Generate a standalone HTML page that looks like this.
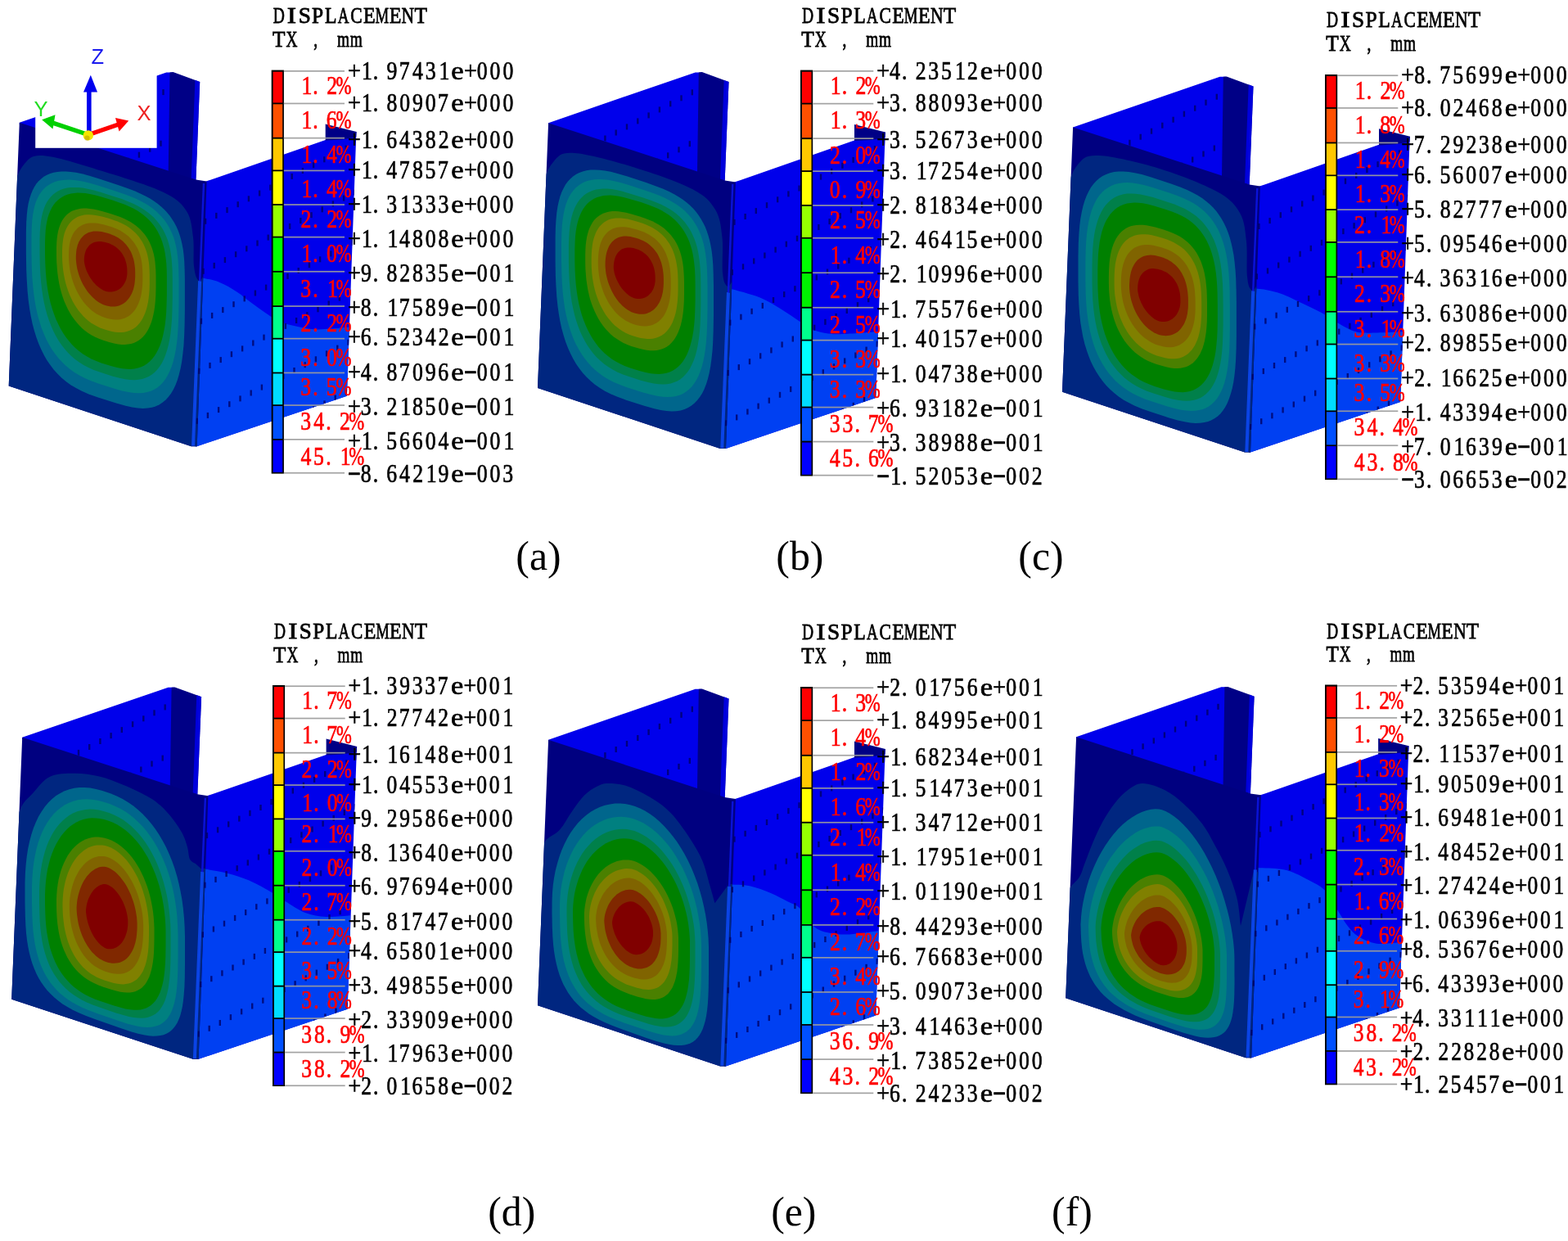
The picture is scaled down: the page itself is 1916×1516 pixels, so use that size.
<!DOCTYPE html>
<html lang="en"><head><meta charset="utf-8"><title>Displacement contours TX (a)-(f)</title>
<style>html,body{margin:0;padding:0;background:#fff;overflow:hidden}svg{display:block}text{white-space:pre}</style></head><body>
<svg xmlns="http://www.w3.org/2000/svg" width="1916" height="1516" viewBox="0 0 1916 1516">
<rect width="1916" height="1516" fill="#fff"/>
<g id="panel-a">
<clipPath id="ct-a"><polygon points="23.8,149.8 203.3,88.4 210.7,88.4 206.5,208.5"/></clipPath>
<polygon points="23.8,149.8 203.3,88.4 210.7,88.4 206.5,208.5 206.5,211.5 23.8,152.6" fill="#0000eb"/>
<polygon points="207.5,88.4 211.5,88 244.2,99.9 239.4,219.8 239.3,222 205.7,211.2 205.7,208.6" fill="#000086"/>
<polygon points="238.4,97.8 244.2,99.9 239.4,219.8 233.7,217.9" fill="#0000eb" opacity="0.85"/>
<polygon points="252.6,221.2 258,219.4 397.7,171 435.4,161 423.9,483.8 240.7,545.2 238.5,545.2 250.4,222.2" fill="#0000eb"/>
<polygon points="397.7,171.6 397.7,151.6 435.6,161 435.2,167.5 418,170.5" fill="#000086"/>
<clipPath id="cr-a"><polygon points="252.6,221.2 258,219.4 397.7,171 435.4,161 423.9,483.8 240.7,545.2 238.5,545.2 250.4,222.2"/></clipPath>
<path clip-path="url(#cr-a)" d="M236 337.5C237.4 337.7 239.2 337.7 244.6 338.9C250 340.1 260.9 341.9 268.4 344.9C275.9 347.9 283 352.3 289.7 356.7C296.4 361.1 301.6 365.9 308.7 371C315.8 376.1 326.2 383.7 332.5 387.6C338.8 391.6 338.8 392.3 346.7 394.7C354.6 397.1 370.3 400.8 380 401.9C389.7 403 396.7 401.9 405 401.5C413.3 401.1 425.8 399.7 430 399.3L430 600 L236 600 Z" fill="#0040f2"/>
<clipPath id="cf-a"><polygon points="23.8,149.8 239.4,219.6 252.6,221.6 240.7,545.2 233.7,545.2 10.7,471.6"/></clipPath>
<polygon points="23.8,149.8 239.4,219.6 252.6,221.6 240.7,545.2 233.7,545.2 10.7,471.6" fill="#000080"/>
<g clip-path="url(#cf-a)">
<path d="M0 600C1.3 550 5.7 360.3 8 300C10.3 239.7 10.3 254.7 14 238C17.7 221.3 23 207.9 30 200C37 192.1 39.5 188.8 56 190.5C72.5 192.2 105 202.9 129 210.3C153 217.7 183.5 227.1 200 235C216.5 242.9 222 248.8 228 258C234 267.2 234.5 278.8 236 290C237.5 301.2 235.8 316.2 237 325C238.2 333.8 238.8 339.2 243 343C247.2 346.8 258.8 305.2 262 348C265.2 390.8 262 558 262 600Z" fill="#002680"/>
<path d="M225.9 377L225.6 396.3L225.1 410.5L224.4 422.4L223.3 432.7L222.1 441.9L220.6 450.1L218.8 457.6L216.8 464.3L214.5 470.3L211.9 475.7L209.1 480.6L205.9 484.8L202.5 488.5L198.8 491.6L194.8 494.2L190.4 496.2L185.7 497.7L180.5 498.6L174.8 498.9L168.5 498.5L161.3 497.5L152.7 495.6L141.2 492.3L119.1 485.3L108.4 481.4L100 477.8L92.9 474.1L86.4 470.2L80.6 466L75.2 461.4L70.2 456.6L65.6 451.4L61.3 445.8L57.3 439.9L53.6 433.5L50.3 426.8L47.2 419.7L44.4 412.1L41.9 404.1L39.7 395.7L37.8 386.7L36.1 377.1L34.7 366.8L33.6 355.6L32.8 343.3L32.2 329.2L31.9 311.1L31.9 282.8L32.2 271.3L32.8 262.5L33.6 255.1L34.7 248.5L36.1 242.7L37.8 237.4L39.7 232.7L41.9 228.4L44.4 224.6L47.2 221.3L50.3 218.4L53.6 215.8L57.3 213.7L61.3 212L65.6 210.8L70.2 209.9L75.2 209.4L80.6 209.4L86.4 209.9L92.9 210.8L100 212.3L108.4 214.4L119.1 217.7L143.5 225.7L155.7 230L164.4 233.3L171.5 236.5L177.7 239.5L183.3 242.6L188.3 245.7L192.8 249L197 252.4L200.8 256L204.3 259.7L207.4 263.6L210.3 267.7L213 272L215.4 276.5L217.5 281.3L219.4 286.4L221 291.9L222.4 297.7L223.6 304.1L224.5 311.1L225.2 319.1L225.6 328.6L225.9 341.8Z" fill="#00668c"/>
<path d="M218.5 370.3L218.2 386.8L217.7 399.3L217 409.9L216 419.2L214.8 427.6L213.3 435.1L211.6 441.9L209.6 448.1L207.4 453.6L204.9 458.6L202.2 463.1L199.2 467L195.9 470.5L192.3 473.4L188.5 475.8L184.3 477.7L179.8 479.1L174.9 479.9L169.6 480.2L163.7 480L157 479L149.2 477.4L139 474.5L120.8 468.7L111.3 465.3L103.7 462L97 458.6L91 454.9L85.5 451L80.4 446.7L75.6 442.1L71.2 437.2L67.1 432L63.2 426.4L59.7 420.5L56.4 414.2L53.5 407.5L50.7 400.5L48.3 393.1L46.1 385.3L44.2 377L42.6 368.2L41.3 358.9L40.2 348.8L39.3 337.9L38.8 325.5L38.5 310L38.5 287.4L38.8 277.2L39.3 269.2L40.1 262.4L41.2 256.4L42.5 251L44.1 246.1L46 241.7L48.1 237.7L50.6 234.2L53.2 231L56.2 228.3L59.4 225.9L62.9 223.9L66.7 222.3L70.7 221L75.1 220.2L79.8 219.7L84.9 219.6L90.4 220L96.4 220.8L103.1 222.1L110.8 224L120.4 226.8L141.2 233.5L152.2 237.2L160.1 240.2L166.8 243.1L172.6 245.9L177.8 248.8L182.5 251.8L186.8 254.8L190.7 258L194.3 261.4L197.7 264.9L200.7 268.6L203.5 272.5L206 276.6L208.3 280.9L210.4 285.4L212.2 290.3L213.8 295.4L215.1 300.9L216.2 306.8L217.1 313.3L217.8 320.6L218.2 329.3L218.5 341.1Z" fill="#008080"/>
<path d="M210.8 364.2L210.5 378.4L210.1 389.4L209.3 398.9L208.4 407.3L207.2 414.9L205.8 421.8L204.1 428.1L202.2 433.8L200.1 439L197.7 443.7L195.1 447.8L192.2 451.5L189.1 454.8L185.7 457.5L182.1 459.8L178.1 461.6L173.9 463L169.3 463.8L164.4 464.2L158.9 464L152.9 463.2L145.9 461.8L137.1 459.4L122.6 454.8L114.6 451.9L108 449L102.2 445.9L96.8 442.5L91.8 438.9L87.2 435L82.9 430.7L78.8 426.1L75.1 421.2L71.5 416L68.3 410.4L65.2 404.6L62.5 398.3L60 391.8L57.7 384.9L55.7 377.7L53.9 370.1L52.4 362L51.1 353.5L50.1 344.5L49.3 334.7L48.8 323.8L48.5 310.6L48.5 292.6L48.8 283.5L49.3 276.3L50 270L51 264.4L52.2 259.4L53.7 254.8L55.4 250.6L57.4 246.8L59.6 243.4L62 240.4L64.7 237.7L67.7 235.4L70.8 233.4L74.3 231.8L78 230.5L82 229.6L86.2 229.1L90.8 228.9L95.7 229.1L101.1 229.6L107 230.7L113.7 232.2L122 234.5L139.1 239.9L148.8 243.1L156 245.9L162.1 248.5L167.4 251.1L172.2 253.7L176.6 256.5L180.7 259.4L184.4 262.4L187.8 265.6L190.9 269L193.8 272.5L196.5 276.2L198.9 280.1L201.1 284.2L203 288.5L204.8 293.1L206.3 297.9L207.6 303.1L208.6 308.7L209.5 314.8L210.1 321.6L210.6 329.5L210.8 340.1Z" fill="#00804a"/>
<path d="M203.9 359.1L203.6 371.2L203.2 381L202.5 389.5L201.6 397.2L200.4 404.1L199 410.5L197.4 416.4L195.6 421.7L193.5 426.6L191.2 431L188.7 435L185.9 438.5L183 441.6L179.7 444.3L176.3 446.5L172.6 448.3L168.6 449.6L164.3 450.5L159.7 450.9L154.7 450.8L149.3 450.2L143 449L135.4 446.9L123.9 443.4L117 440.8L111.2 438.2L105.9 435.3L101 432.2L96.4 428.7L92 425L88 421L84.2 416.6L80.6 411.9L77.2 407L74.1 401.7L71.2 396.1L68.5 390.2L66.1 384.1L63.9 377.6L61.9 370.8L60.2 363.7L58.7 356.3L57.5 348.5L56.5 340.2L55.8 331.4L55.3 321.8L55 310.6L55 296.4L55.3 288.2L55.7 281.5L56.4 275.6L57.4 270.3L58.5 265.5L59.9 261.2L61.6 257.2L63.4 253.6L65.5 250.3L67.8 247.3L70.4 244.7L73.2 242.4L76.2 240.5L79.4 238.8L82.9 237.5L86.6 236.5L90.6 235.9L94.8 235.6L99.4 235.7L104.3 236.1L109.7 237L115.8 238.3L123.1 240.2L137.3 244.5L145.8 247.4L152.3 249.8L157.9 252.2L162.8 254.6L167.3 257.1L171.4 259.7L175.2 262.5L178.7 265.4L181.9 268.5L184.9 271.7L187.6 275.1L190.2 278.7L192.5 282.5L194.5 286.4L196.4 290.6L198.1 295L199.5 299.7L200.8 304.6L201.8 309.9L202.6 315.7L203.3 322.1L203.7 329.4L203.9 339Z" fill="#008000"/>
<path d="M190.5 351.1L190.3 359.8L189.9 366.9L189.3 373.3L188.5 379.1L187.4 384.4L186.2 389.4L184.8 393.9L183.2 398.1L181.4 401.9L179.5 405.3L177.3 408.5L174.9 411.2L172.3 413.7L169.6 415.8L166.6 417.5L163.5 418.9L160.1 419.9L156.6 420.6L152.7 420.9L148.7 420.9L144.2 420.4L139.3 419.5L133.4 417.9L125.5 415.5L120.3 413.5L115.8 411.5L111.6 409.2L107.6 406.7L103.9 403.9L100.3 400.9L96.9 397.6L93.8 394.1L90.8 390.3L87.9 386.3L85.3 382L82.8 377.5L80.6 372.8L78.5 367.9L76.6 362.8L75 357.4L73.5 351.9L72.2 346.1L71.2 340.1L70.3 333.8L69.7 327.2L69.2 320.1L69 312.2L69 303L69.2 296.8L69.6 291.6L70.2 287L71 282.8L72 279L73.2 275.5L74.5 272.3L76.1 269.3L77.8 266.7L79.8 264.3L81.9 262.1L84.2 260.3L86.7 258.6L89.4 257.3L92.3 256.2L95.4 255.4L98.6 254.8L102.1 254.6L105.8 254.6L109.8 254.9L114.1 255.5L118.9 256.5L124.7 258L135 261L141.7 263.2L146.9 265.1L151.5 267L155.5 269L159.3 271L162.7 273.2L165.9 275.5L168.9 277.9L171.6 280.5L174.1 283.2L176.5 286L178.7 288.9L180.6 292.1L182.4 295.3L184 298.8L185.5 302.4L186.7 306.2L187.8 310.2L188.7 314.5L189.4 319.1L189.9 324.2L190.3 329.9L190.5 337.1Z" fill="#4a8000"/>
<path d="M182.8 346.6L182.6 353.4L182.2 359.2L181.6 364.4L180.9 369.3L179.9 373.9L178.8 378.1L177.5 382L176 385.6L174.3 388.9L172.5 392L170.5 394.7L168.3 397.2L166 399.4L163.5 401.3L160.8 402.8L157.9 404.1L154.9 405L151.8 405.7L148.4 406L144.8 406L141 405.7L136.9 404.9L132.2 403.8L126.5 402L122.3 400.4L118.4 398.6L114.8 396.6L111.3 394.4L108 391.9L104.9 389.2L101.8 386.3L99 383.1L96.2 379.7L93.6 376.1L91.2 372.3L88.9 368.3L86.8 364.1L84.9 359.8L83.2 355.2L81.6 350.5L80.2 345.7L79 340.7L78 335.6L77.2 330.3L76.6 324.8L76.2 319.1L76 312.9L76 306.5L76.2 301.1L76.6 296.5L77.1 292.4L77.8 288.7L78.7 285.2L79.8 282L81.1 279.1L82.5 276.4L84.1 273.9L85.9 271.7L87.8 269.7L89.9 267.9L92.2 266.4L94.6 265.1L97.2 264L100 263.2L102.9 262.6L106 262.3L109.3 262.2L112.8 262.4L116.6 262.9L120.7 263.7L125.6 264.8L133.6 267.1L139.1 268.9L143.6 270.5L147.5 272.2L151.1 274L154.4 275.8L157.5 277.8L160.3 279.9L163 282.2L165.5 284.5L167.8 287L169.9 289.6L171.9 292.4L173.7 295.3L175.3 298.3L176.8 301.5L178.1 304.8L179.3 308.3L180.3 312L181.1 315.9L181.8 320.1L182.3 324.6L182.6 329.6L182.8 335.8Z" fill="#808000"/>
<path d="M174.3 342.3L174.1 347.2L173.8 351.7L173.2 355.8L172.6 359.7L171.7 363.4L170.7 366.8L169.5 370L168.2 373L166.7 375.8L165 378.4L163.2 380.7L161.3 382.8L159.2 384.7L157 386.3L154.7 387.6L152.2 388.7L149.6 389.6L146.9 390.2L144.1 390.5L141.1 390.5L138 390.3L134.7 389.8L131.2 388.9L127.3 387.7L124.1 386.5L121 385.1L118 383.4L115.1 381.5L112.3 379.4L109.6 377L107 374.5L104.5 371.8L102.1 368.9L99.8 365.7L97.7 362.5L95.7 359L93.8 355.5L92.1 351.8L90.5 347.9L89.1 344L87.8 340L86.8 335.9L85.8 331.7L85.1 327.4L84.6 323.1L84.2 318.7L84 314.2L84 310.1L84.2 305.8L84.5 302L85 298.6L85.6 295.4L86.4 292.5L87.4 289.8L88.5 287.3L89.7 284.9L91.1 282.8L92.7 280.9L94.4 279.1L96.2 277.6L98.2 276.2L100.3 275L102.6 274.1L105 273.3L107.5 272.8L110.1 272.5L112.9 272.4L115.9 272.5L119.1 272.8L122.5 273.4L126.4 274.3L132.3 275.9L136.7 277.3L140.3 278.7L143.6 280.1L146.6 281.6L149.4 283.2L152 284.9L154.5 286.7L156.8 288.6L159 290.7L161 292.9L162.9 295.2L164.6 297.6L166.2 300.2L167.7 302.8L169 305.6L170.2 308.5L171.2 311.5L172.1 314.7L172.8 318L173.4 321.6L173.8 325.3L174.1 329.5L174.3 334.4Z" fill="#806400"/>
<path d="M165.2 338.2L165 341.5L164.7 344.6L164.3 347.6L163.7 350.4L163 353.2L162.1 355.8L161.1 358.3L159.9 360.6L158.6 362.7L157.2 364.7L155.7 366.6L154.1 368.2L152.3 369.7L150.5 371L148.6 372.1L146.5 373L144.4 373.7L142.2 374.2L140 374.4L137.7 374.5L135.3 374.4L132.9 374L130.3 373.5L127.9 372.7L125.7 371.9L123.4 370.7L121.1 369.4L118.8 367.9L116.6 366.2L114.4 364.3L112.3 362.3L110.2 360.1L108.2 357.7L106.3 355.2L104.5 352.5L102.8 349.8L101.2 346.9L99.7 344L98.4 341L97.2 337.9L96.1 334.8L95.2 331.6L94.4 328.4L93.8 325.2L93.3 322.1L93 319L92.8 316L92.8 313.7L93 310.3L93.2 307.4L93.6 304.6L94.2 302L94.8 299.6L95.6 297.4L96.5 295.3L97.6 293.4L98.8 291.6L100.1 289.9L101.5 288.4L103 287.1L104.6 285.9L106.4 284.9L108.2 284.1L110.2 283.4L112.2 282.9L114.4 282.6L116.7 282.4L119 282.5L121.5 282.7L124.2 283.1L127.1 283.7L131.2 284.8L134.4 285.8L137.2 286.9L139.8 288L142.2 289.2L144.5 290.5L146.6 292L148.6 293.5L150.5 295.1L152.3 296.9L154 298.7L155.5 300.7L157 302.7L158.3 304.9L159.6 307.1L160.7 309.5L161.7 311.9L162.5 314.5L163.3 317.1L163.9 319.8L164.4 322.7L164.8 325.7L165.1 329L165.2 332.7Z" fill="#802800"/>
<path d="M155.4 334.2L155.3 336L155 337.8L154.7 339.5L154.2 341.3L153.6 343L152.9 344.6L152.1 346.1L151.2 347.6L150.2 349L149.1 350.2L148 351.4L146.7 352.5L145.4 353.4L143.9 354.3L142.5 355L141 355.5L139.4 356L137.8 356.3L136.2 356.5L134.5 356.5L132.9 356.4L131.3 356.2L129.7 355.9L128.4 355.5L127 354.9L125.5 354.2L124 353.3L122.4 352.3L120.8 351.1L119.2 349.8L117.6 348.4L116.1 346.8L114.6 345.2L113.2 343.4L111.8 341.6L110.5 339.8L109.3 337.8L108.2 335.8L107.2 333.8L106.2 331.8L105.4 329.7L104.7 327.7L104.1 325.7L103.6 323.7L103.2 321.8L102.9 320L102.8 318.3L102.8 317.4L102.9 315.2L103.1 313.1L103.4 311.2L103.8 309.4L104.3 307.7L104.9 306.1L105.6 304.6L106.4 303.2L107.3 301.9L108.3 300.7L109.3 299.6L110.5 298.6L111.7 297.7L113 297L114.3 296.3L115.8 295.8L117.3 295.4L118.9 295.2L120.5 295L122.2 295L124 295.1L125.8 295.4L127.8 295.8L130.3 296.5L132.5 297.1L134.4 297.8L136.2 298.7L138 299.5L139.6 300.5L141.2 301.6L142.7 302.7L144.1 303.9L145.5 305.3L146.7 306.6L147.9 308.1L149 309.6L150.1 311.2L151 312.9L151.9 314.6L152.7 316.4L153.3 318.3L153.9 320.2L154.4 322.1L154.8 324.2L155.1 326.3L155.3 328.5L155.4 330.9Z" fill="#800000"/>
</g>
<clipPath id="ce-a"><polygon points="247,224 251,224 238,544.5 234,544.5"/></clipPath>
<g clip-path="url(#ce-a)">
<line x1="249" y1="224" x2="236" y2="544.5" stroke="#0a12d8" stroke-width="2.4"/>
<path d="M236 337.5C237.4 337.7 239.2 337.7 244.6 338.9C250 340.1 260.9 341.9 268.4 344.9C275.9 347.9 283 352.3 289.7 356.7C296.4 361.1 301.6 365.9 308.7 371C315.8 376.1 326.2 383.7 332.5 387.6C338.8 391.6 338.8 392.3 346.7 394.7C354.6 397.1 370.3 400.8 380 401.9C389.7 403 396.7 401.9 405 401.5C413.3 401.1 425.8 399.7 430 399.3L430 600 L236 600 Z" fill="#0a44e6" transform="translate(-12 2)"/>
</g>
<g clip-path="url(#cr-a)" fill="#000064" opacity="0.8">
<rect x="212.9" y="226.4" width="2.4" height="7"/>
<rect x="226.1" y="219.5" width="2.4" height="7"/>
<rect x="239.3" y="212.7" width="2.4" height="7"/>
<rect x="252.5" y="205.8" width="2.4" height="7"/>
<rect x="265.7" y="198.9" width="2.4" height="7"/>
<rect x="278.9" y="192.1" width="2.4" height="7"/>
<rect x="292.1" y="185.2" width="2.4" height="7"/>
<rect x="305.3" y="178.3" width="2.4" height="7"/>
<rect x="318.5" y="171.5" width="2.4" height="7"/>
<rect x="331.7" y="164.6" width="2.4" height="7"/>
<rect x="344.9" y="157.8" width="2.4" height="7"/>
<rect x="358.1" y="150.9" width="2.4" height="7"/>
<rect x="371.3" y="144" width="2.4" height="7"/>
<rect x="384.5" y="137.2" width="2.4" height="7"/>
<rect x="397.7" y="130.3" width="2.4" height="7"/>
<rect x="410.9" y="123.4" width="2.4" height="7"/>
<rect x="424.1" y="116.6" width="2.4" height="7"/>
<rect x="437.3" y="109.7" width="2.4" height="7"/>
<rect x="210.3" y="287.4" width="2.4" height="7"/>
<rect x="223.5" y="280.5" width="2.4" height="7"/>
<rect x="236.7" y="273.7" width="2.4" height="7"/>
<rect x="249.9" y="266.8" width="2.4" height="7"/>
<rect x="263.1" y="259.9" width="2.4" height="7"/>
<rect x="276.3" y="253.1" width="2.4" height="7"/>
<rect x="289.5" y="246.2" width="2.4" height="7"/>
<rect x="302.7" y="239.3" width="2.4" height="7"/>
<rect x="315.9" y="232.5" width="2.4" height="7"/>
<rect x="329.1" y="225.6" width="2.4" height="7"/>
<rect x="342.3" y="218.8" width="2.4" height="7"/>
<rect x="355.5" y="211.9" width="2.4" height="7"/>
<rect x="368.7" y="205" width="2.4" height="7"/>
<rect x="381.9" y="198.2" width="2.4" height="7"/>
<rect x="395.1" y="191.3" width="2.4" height="7"/>
<rect x="408.3" y="184.4" width="2.4" height="7"/>
<rect x="421.5" y="177.6" width="2.4" height="7"/>
<rect x="434.7" y="170.7" width="2.4" height="7"/>
<rect x="220.9" y="341.5" width="2.4" height="7"/>
<rect x="234.1" y="334.7" width="2.4" height="7"/>
<rect x="247.3" y="327.8" width="2.4" height="7"/>
<rect x="260.5" y="320.9" width="2.4" height="7"/>
<rect x="273.7" y="314.1" width="2.4" height="7"/>
<rect x="286.9" y="307.2" width="2.4" height="7"/>
<rect x="300.1" y="300.3" width="2.4" height="7"/>
<rect x="313.3" y="293.5" width="2.4" height="7"/>
<rect x="326.5" y="286.6" width="2.4" height="7"/>
<rect x="339.7" y="279.8" width="2.4" height="7"/>
<rect x="352.9" y="272.9" width="2.4" height="7"/>
<rect x="366.1" y="266" width="2.4" height="7"/>
<rect x="379.3" y="259.2" width="2.4" height="7"/>
<rect x="392.5" y="252.3" width="2.4" height="7"/>
<rect x="405.7" y="245.4" width="2.4" height="7"/>
<rect x="418.9" y="238.6" width="2.4" height="7"/>
<rect x="432.1" y="231.7" width="2.4" height="7"/>
<rect x="218.3" y="402.5" width="2.4" height="7"/>
<rect x="231.5" y="395.7" width="2.4" height="7"/>
<rect x="244.7" y="388.8" width="2.4" height="7"/>
<rect x="257.9" y="381.9" width="2.4" height="7"/>
<rect x="271.1" y="375.1" width="2.4" height="7"/>
<rect x="284.3" y="368.2" width="2.4" height="7"/>
<rect x="297.5" y="361.4" width="2.4" height="7"/>
<rect x="310.7" y="354.5" width="2.4" height="7"/>
<rect x="323.9" y="347.6" width="2.4" height="7"/>
<rect x="337.1" y="340.8" width="2.4" height="7"/>
<rect x="350.3" y="333.9" width="2.4" height="7"/>
<rect x="363.5" y="327" width="2.4" height="7"/>
<rect x="376.7" y="320.2" width="2.4" height="7"/>
<rect x="389.9" y="313.3" width="2.4" height="7"/>
<rect x="403.1" y="306.4" width="2.4" height="7"/>
<rect x="416.3" y="299.6" width="2.4" height="7"/>
<rect x="429.5" y="292.7" width="2.4" height="7"/>
<rect x="215.7" y="463.5" width="2.4" height="7"/>
<rect x="228.9" y="456.7" width="2.4" height="7"/>
<rect x="242.1" y="449.8" width="2.4" height="7"/>
<rect x="255.3" y="442.9" width="2.4" height="7"/>
<rect x="268.5" y="436.1" width="2.4" height="7"/>
<rect x="281.7" y="429.2" width="2.4" height="7"/>
<rect x="294.9" y="422.4" width="2.4" height="7"/>
<rect x="308.1" y="415.5" width="2.4" height="7"/>
<rect x="321.3" y="408.6" width="2.4" height="7"/>
<rect x="334.5" y="401.8" width="2.4" height="7"/>
<rect x="347.7" y="394.9" width="2.4" height="7"/>
<rect x="360.9" y="388" width="2.4" height="7"/>
<rect x="374.1" y="381.2" width="2.4" height="7"/>
<rect x="387.3" y="374.3" width="2.4" height="7"/>
<rect x="400.5" y="367.4" width="2.4" height="7"/>
<rect x="413.7" y="360.6" width="2.4" height="7"/>
<rect x="426.9" y="353.7" width="2.4" height="7"/>
<rect x="213.1" y="524.5" width="2.4" height="7"/>
<rect x="226.3" y="517.7" width="2.4" height="7"/>
<rect x="239.5" y="510.8" width="2.4" height="7"/>
<rect x="252.7" y="503.9" width="2.4" height="7"/>
<rect x="265.9" y="497.1" width="2.4" height="7"/>
<rect x="279.1" y="490.2" width="2.4" height="7"/>
<rect x="292.3" y="483.4" width="2.4" height="7"/>
<rect x="305.5" y="476.5" width="2.4" height="7"/>
<rect x="318.7" y="469.6" width="2.4" height="7"/>
<rect x="331.9" y="462.8" width="2.4" height="7"/>
<rect x="345.1" y="455.9" width="2.4" height="7"/>
<rect x="358.3" y="449" width="2.4" height="7"/>
<rect x="371.5" y="442.2" width="2.4" height="7"/>
<rect x="384.7" y="435.3" width="2.4" height="7"/>
<rect x="397.9" y="428.4" width="2.4" height="7"/>
<rect x="411.1" y="421.6" width="2.4" height="7"/>
<rect x="424.3" y="414.7" width="2.4" height="7"/>
<rect x="437.5" y="407.9" width="2.4" height="7"/>
<rect x="210.5" y="585.5" width="2.4" height="7"/>
<rect x="223.7" y="578.7" width="2.4" height="7"/>
<rect x="236.9" y="571.8" width="2.4" height="7"/>
<rect x="250.1" y="564.9" width="2.4" height="7"/>
<rect x="263.3" y="558.1" width="2.4" height="7"/>
<rect x="276.5" y="551.2" width="2.4" height="7"/>
<rect x="289.7" y="544.4" width="2.4" height="7"/>
<rect x="302.9" y="537.5" width="2.4" height="7"/>
<rect x="316.1" y="530.6" width="2.4" height="7"/>
<rect x="329.3" y="523.8" width="2.4" height="7"/>
<rect x="342.5" y="516.9" width="2.4" height="7"/>
<rect x="355.7" y="510" width="2.4" height="7"/>
<rect x="368.9" y="503.2" width="2.4" height="7"/>
<rect x="382.1" y="496.3" width="2.4" height="7"/>
<rect x="395.3" y="489.4" width="2.4" height="7"/>
<rect x="408.5" y="482.6" width="2.4" height="7"/>
<rect x="421.7" y="475.7" width="2.4" height="7"/>
<rect x="434.9" y="468.9" width="2.4" height="7"/>
<rect x="221.1" y="639.7" width="2.4" height="7"/>
<rect x="234.3" y="632.8" width="2.4" height="7"/>
<rect x="247.5" y="626" width="2.4" height="7"/>
<rect x="260.7" y="619.1" width="2.4" height="7"/>
<rect x="273.9" y="612.2" width="2.4" height="7"/>
<rect x="287.1" y="605.4" width="2.4" height="7"/>
<rect x="300.3" y="598.5" width="2.4" height="7"/>
<rect x="313.5" y="591.6" width="2.4" height="7"/>
<rect x="326.7" y="584.8" width="2.4" height="7"/>
<rect x="339.9" y="577.9" width="2.4" height="7"/>
<rect x="353.1" y="571" width="2.4" height="7"/>
<rect x="366.3" y="564.2" width="2.4" height="7"/>
<rect x="379.5" y="557.3" width="2.4" height="7"/>
<rect x="392.7" y="550.4" width="2.4" height="7"/>
<rect x="405.9" y="543.6" width="2.4" height="7"/>
<rect x="419.1" y="536.7" width="2.4" height="7"/>
<rect x="432.3" y="529.9" width="2.4" height="7"/>
<rect x="218.5" y="700.7" width="2.4" height="7"/>
<rect x="231.7" y="693.8" width="2.4" height="7"/>
<rect x="244.9" y="687" width="2.4" height="7"/>
<rect x="258.1" y="680.1" width="2.4" height="7"/>
<rect x="271.3" y="673.2" width="2.4" height="7"/>
<rect x="284.5" y="666.4" width="2.4" height="7"/>
<rect x="297.7" y="659.5" width="2.4" height="7"/>
<rect x="310.9" y="652.6" width="2.4" height="7"/>
<rect x="324.1" y="645.8" width="2.4" height="7"/>
<rect x="337.3" y="638.9" width="2.4" height="7"/>
<rect x="350.5" y="632" width="2.4" height="7"/>
<rect x="363.7" y="625.2" width="2.4" height="7"/>
<rect x="376.9" y="618.3" width="2.4" height="7"/>
<rect x="390.1" y="611.4" width="2.4" height="7"/>
<rect x="403.3" y="604.6" width="2.4" height="7"/>
<rect x="416.5" y="597.7" width="2.4" height="7"/>
<rect x="429.7" y="590.9" width="2.4" height="7"/>
</g>
<g clip-path="url(#ct-a)" fill="#000064" opacity="0.8">
<rect x="52" y="185.9" width="2.4" height="7"/>
<rect x="65.3" y="179" width="2.4" height="7"/>
<rect x="78.6" y="172" width="2.4" height="7"/>
<rect x="91.9" y="165" width="2.4" height="7"/>
<rect x="105.2" y="158" width="2.4" height="7"/>
<rect x="118.5" y="151" width="2.4" height="7"/>
<rect x="131.8" y="144.1" width="2.4" height="7"/>
<rect x="145.1" y="137.1" width="2.4" height="7"/>
<rect x="158.4" y="130.1" width="2.4" height="7"/>
<rect x="171.7" y="123.1" width="2.4" height="7"/>
<rect x="185" y="116.1" width="2.4" height="7"/>
<rect x="198.3" y="109.1" width="2.4" height="7"/>
<rect x="49" y="248.5" width="2.4" height="7"/>
<rect x="62.3" y="241.5" width="2.4" height="7"/>
<rect x="75.6" y="234.6" width="2.4" height="7"/>
<rect x="88.9" y="227.6" width="2.4" height="7"/>
<rect x="102.2" y="220.6" width="2.4" height="7"/>
<rect x="115.5" y="213.6" width="2.4" height="7"/>
<rect x="128.8" y="206.6" width="2.4" height="7"/>
<rect x="142.1" y="199.6" width="2.4" height="7"/>
<rect x="155.4" y="192.7" width="2.4" height="7"/>
<rect x="168.7" y="185.7" width="2.4" height="7"/>
<rect x="182" y="178.7" width="2.4" height="7"/>
<rect x="195.3" y="171.7" width="2.4" height="7"/>
<rect x="208.6" y="164.7" width="2.4" height="7"/>
</g>
<rect x="43.2" y="40" width="148.4" height="140.8" fill="#fff"/>
<g id="triad">
<path d="M107.6 164.5 L60 148.6" stroke="#00d000" stroke-width="5.4" fill="none"/>
<path d="M51.2 146.2 L67.5 140.3 L64.5 157.6 Z" fill="#00d000"/>
<path d="M108.4 164.5 L147 151.2" stroke="#ff0000" stroke-width="5.4" fill="none"/>
<path d="M157.2 147.5 L141 144 L145.6 160.4 Z" fill="#ff0000"/>
<path d="M108.8 163 L108.8 108" stroke="#0000ee" stroke-width="5.6" fill="none"/>
<path d="M110.8 91.8 L102 112.5 L119 112.5 Z" fill="#0000ee"/>
<circle cx="107.8" cy="165.4" r="6.2" fill="#f4e600"/>
<circle cx="106.4" cy="168.6" r="3.2" fill="#b89a00" opacity="0.55"/>
<g font-family="'Liberation Sans', Arial, sans-serif" font-size="25.5">
<text x="111.4" y="78" fill="#1a1aee">Z</text>
<text x="167.6" y="146.6" fill="#ee2222">X</text>
<text x="41.6" y="141.6" fill="#22dd22">Y</text>
</g>
</g>
<rect x="331.7" y="85.6" width="15.2" height="493" fill="#000"/>
<rect x="333.6" y="87.7" width="11.6" height="37.8" fill="#ff0000"/>
<rect x="333.6" y="127.3" width="11.6" height="40.5" fill="#ff5000"/>
<rect x="333.6" y="169.6" width="11.6" height="37.9" fill="#ffc800"/>
<rect x="333.6" y="209.3" width="11.6" height="39.8" fill="#ffff00"/>
<rect x="333.6" y="250.9" width="11.6" height="37.8" fill="#96ff00"/>
<rect x="333.6" y="290.5" width="11.6" height="40.4" fill="#00ff00"/>
<rect x="333.6" y="332.7" width="11.6" height="40.5" fill="#00f000"/>
<rect x="333.6" y="375" width="11.6" height="37.8" fill="#00ff8c"/>
<rect x="333.6" y="414.6" width="11.6" height="40" fill="#00ffff"/>
<rect x="333.6" y="456.4" width="11.6" height="37.8" fill="#00dcff"/>
<rect x="333.6" y="496" width="11.6" height="40" fill="#0050ff"/>
<rect x="333.6" y="537.8" width="11.6" height="39.1" fill="#0000ff"/>
<rect x="346.9" y="86" width="74.1" height="1.7" fill="#9c9c9c" opacity="0.93"/>
<rect x="346.9" y="125.6" width="74.1" height="1.7" fill="#9c9c9c" opacity="0.93"/>
<rect x="346.9" y="167.8" width="74.1" height="1.7" fill="#9c9c9c" opacity="0.93"/>
<rect x="346.9" y="207.6" width="74.1" height="1.7" fill="#9c9c9c" opacity="0.93"/>
<rect x="346.9" y="249.2" width="74.1" height="1.7" fill="#9c9c9c" opacity="0.93"/>
<rect x="346.9" y="288.8" width="74.1" height="1.7" fill="#9c9c9c" opacity="0.93"/>
<rect x="346.9" y="330.9" width="74.1" height="1.7" fill="#9c9c9c" opacity="0.93"/>
<rect x="346.9" y="373.2" width="74.1" height="1.7" fill="#9c9c9c" opacity="0.93"/>
<rect x="346.9" y="412.8" width="74.1" height="1.7" fill="#9c9c9c" opacity="0.93"/>
<rect x="346.9" y="454.6" width="74.1" height="1.7" fill="#9c9c9c" opacity="0.93"/>
<rect x="346.9" y="494.2" width="74.1" height="1.7" fill="#9c9c9c" opacity="0.93"/>
<rect x="346.9" y="536" width="74.1" height="1.7" fill="#9c9c9c" opacity="0.93"/>
<rect x="346.9" y="576.9" width="74.1" height="1.7" fill="#9c9c9c" opacity="0.93"/>
<g font-family="'Liberation Serif', 'Times New Roman', serif">
<text transform="translate(0 115.1) scale(0.830 1.000)" x="444 460.7 480.9 494.6" y="0" fill="#ff0000" stroke="#ff0000" stroke-width="0.7" font-size="31">1.2<tspan textLength="22.8" lengthAdjust="spacingAndGlyphs">%</tspan></text>
<text transform="translate(0 156.8) scale(0.830 1.000)" x="444 460.7 480.5 494.6" y="0" fill="#ff0000" stroke="#ff0000" stroke-width="0.7" font-size="31">1.6<tspan textLength="22.8" lengthAdjust="spacingAndGlyphs">%</tspan></text>
<text transform="translate(0 199) scale(0.830 1.000)" x="444 460.7 480.7 494.6" y="0" fill="#ff0000" stroke="#ff0000" stroke-width="0.7" font-size="31">1.4<tspan textLength="22.8" lengthAdjust="spacingAndGlyphs">%</tspan></text>
<text transform="translate(0 240.8) scale(0.830 1.000)" x="444 460.7 480.7 494.6" y="0" fill="#ff0000" stroke="#ff0000" stroke-width="0.7" font-size="31">1.4<tspan textLength="22.8" lengthAdjust="spacingAndGlyphs">%</tspan></text>
<text transform="translate(0 278.3) scale(0.830 1.000)" x="442.9 460.7 480.9 494.6" y="0" fill="#ff0000" stroke="#ff0000" stroke-width="0.7" font-size="31">2.2<tspan textLength="22.8" lengthAdjust="spacingAndGlyphs">%</tspan></text>
<text transform="translate(0 320.4) scale(0.830 1.000)" x="444 460.7 480.7 494.6" y="0" fill="#ff0000" stroke="#ff0000" stroke-width="0.7" font-size="31">1.0<tspan textLength="22.8" lengthAdjust="spacingAndGlyphs">%</tspan></text>
<text transform="translate(0 362.6) scale(0.830 1.000)" x="442.6 460.7 482 494.6" y="0" fill="#ff0000" stroke="#ff0000" stroke-width="0.7" font-size="31">3.1<tspan textLength="22.8" lengthAdjust="spacingAndGlyphs">%</tspan></text>
<text transform="translate(0 404.7) scale(0.830 1.000)" x="442.9 460.7 480.9 494.6" y="0" fill="#ff0000" stroke="#ff0000" stroke-width="0.7" font-size="31">2.2<tspan textLength="22.8" lengthAdjust="spacingAndGlyphs">%</tspan></text>
<text transform="translate(0 446.9) scale(0.830 1.000)" x="442.6 460.7 480.7 494.6" y="0" fill="#ff0000" stroke="#ff0000" stroke-width="0.7" font-size="31">3.0<tspan textLength="22.8" lengthAdjust="spacingAndGlyphs">%</tspan></text>
<text transform="translate(0 483.3) scale(0.830 1.000)" x="442.6 460.7 480.4 494.6" y="0" fill="#ff0000" stroke="#ff0000" stroke-width="0.7" font-size="31">3.5<tspan textLength="22.8" lengthAdjust="spacingAndGlyphs">%</tspan></text>
<text transform="translate(0 525) scale(0.830 1.000)" x="442.6 461.7 479.7 499.9 513.7" y="0" fill="#ff0000" stroke="#ff0000" stroke-width="0.7" font-size="31">34.2<tspan textLength="22.8" lengthAdjust="spacingAndGlyphs">%</tspan></text>
<text transform="translate(0 567.6) scale(0.830 1.000)" x="442.7 461.4 479.7 501 513.7" y="0" fill="#ff0000" stroke="#ff0000" stroke-width="0.7" font-size="31">45.1<tspan textLength="22.8" lengthAdjust="spacingAndGlyphs">%</tspan></text>
<text transform="translate(0 96.8) scale(0.830 1.000)" x="512 532.4 549.1 569.3 587.6 607.1 626.1 646.5 664.3 683.2 702.2 721.2 740.3" y="0" fill="#000" stroke="#000" stroke-width="0.7" font-size="31"><tspan textLength="19" lengthAdjust="spacingAndGlyphs">+</tspan>1.97431<tspan textLength="18.5" lengthAdjust="spacingAndGlyphs">e</tspan><tspan textLength="19" lengthAdjust="spacingAndGlyphs">+</tspan>000</text>
<text transform="translate(0 136.1) scale(0.830 1.000)" x="512 532.4 549.1 569.2 588.2 607.3 626.2 644.6 664.3 683.2 702.2 721.2 740.3" y="0" fill="#000" stroke="#000" stroke-width="0.7" font-size="31"><tspan textLength="19" lengthAdjust="spacingAndGlyphs">+</tspan>1.80907<tspan textLength="18.5" lengthAdjust="spacingAndGlyphs">e</tspan><tspan textLength="19" lengthAdjust="spacingAndGlyphs">+</tspan>000</text>
<text transform="translate(0 180.7) scale(0.830 1.000)" x="512 532.4 549.1 568.9 588.1 607 626.2 645.4 664.3 683.2 702.2 721.2 740.3" y="0" fill="#000" stroke="#000" stroke-width="0.7" font-size="31"><tspan textLength="19" lengthAdjust="spacingAndGlyphs">+</tspan>1.64382<tspan textLength="18.5" lengthAdjust="spacingAndGlyphs">e</tspan><tspan textLength="19" lengthAdjust="spacingAndGlyphs">+</tspan>000</text>
<text transform="translate(0 218.4) scale(0.830 1.000)" x="512 532.4 549.1 569.1 587.6 607.2 625.9 644.6 664.3 683.2 702.2 721.2 740.3" y="0" fill="#000" stroke="#000" stroke-width="0.7" font-size="31"><tspan textLength="19" lengthAdjust="spacingAndGlyphs">+</tspan>1.47857<tspan textLength="18.5" lengthAdjust="spacingAndGlyphs">e</tspan><tspan textLength="19" lengthAdjust="spacingAndGlyphs">+</tspan>000</text>
<text transform="translate(0 259.9) scale(0.830 1.000)" x="512 532.4 549.1 569 589.4 607 626.1 645.1 664.3 683.2 702.2 721.2 740.3" y="0" fill="#000" stroke="#000" stroke-width="0.7" font-size="31"><tspan textLength="19" lengthAdjust="spacingAndGlyphs">+</tspan>1.31333<tspan textLength="18.5" lengthAdjust="spacingAndGlyphs">e</tspan><tspan textLength="19" lengthAdjust="spacingAndGlyphs">+</tspan>000</text>
<text transform="translate(0 301.7) scale(0.830 1.000)" x="512 532.4 549.1 570.4 588.1 607.2 626.2 645.2 664.3 683.2 702.2 721.2 740.3" y="0" fill="#000" stroke="#000" stroke-width="0.7" font-size="31"><tspan textLength="19" lengthAdjust="spacingAndGlyphs">+</tspan>1.14808<tspan textLength="18.5" lengthAdjust="spacingAndGlyphs">e</tspan><tspan textLength="19" lengthAdjust="spacingAndGlyphs">+</tspan>000</text>
<text transform="translate(0 343.6) scale(0.830 1.000)" x="512 531.3 549.1 569.2 588.3 607.2 626.1 644.9 664.3 682.9 702.2 721.2 741.5" y="0" dy="0 0 0 0 0 0 0 0 0 -3 3 0 0" fill="#000" stroke="#000" stroke-width="0.7" font-size="31"><tspan textLength="19" lengthAdjust="spacingAndGlyphs">+</tspan>9.82835<tspan textLength="18.5" lengthAdjust="spacingAndGlyphs">e</tspan><tspan textLength="19.5" lengthAdjust="spacingAndGlyphs">-</tspan>001</text>
<text transform="translate(0 386.1) scale(0.830 1.000)" x="512 531.1 549.1 570.4 587.6 606.9 626.2 645.3 664.3 682.9 702.2 721.2 741.5" y="0" dy="0 0 0 0 0 0 0 0 0 -3 3 0 0" fill="#000" stroke="#000" stroke-width="0.7" font-size="31"><tspan textLength="19" lengthAdjust="spacingAndGlyphs">+</tspan>8.17589<tspan textLength="18.5" lengthAdjust="spacingAndGlyphs">e</tspan><tspan textLength="19.5" lengthAdjust="spacingAndGlyphs">-</tspan>001</text>
<text transform="translate(0 422.4) scale(0.830 1.000)" x="512 530.9 549.1 568.9 588.3 607 626.1 645.4 664.3 682.9 702.2 721.2 741.5" y="0" dy="0 0 0 0 0 0 0 0 0 -3 3 0 0" fill="#000" stroke="#000" stroke-width="0.7" font-size="31"><tspan textLength="19" lengthAdjust="spacingAndGlyphs">+</tspan>6.52342<tspan textLength="18.5" lengthAdjust="spacingAndGlyphs">e</tspan><tspan textLength="19.5" lengthAdjust="spacingAndGlyphs">-</tspan>001</text>
<text transform="translate(0 464.5) scale(0.830 1.000)" x="512 531.1 549.1 569.2 587.6 607.2 626.3 645 664.3 682.9 702.2 721.2 741.5" y="0" dy="0 0 0 0 0 0 0 0 0 -3 3 0 0" fill="#000" stroke="#000" stroke-width="0.7" font-size="31"><tspan textLength="19" lengthAdjust="spacingAndGlyphs">+</tspan>4.87096<tspan textLength="18.5" lengthAdjust="spacingAndGlyphs">e</tspan><tspan textLength="19.5" lengthAdjust="spacingAndGlyphs">-</tspan>001</text>
<text transform="translate(0 506.8) scale(0.830 1.000)" x="512 531 549.1 569.3 589.4 607.2 625.9 645.2 664.3 682.9 702.2 721.2 741.5" y="0" dy="0 0 0 0 0 0 0 0 0 -3 3 0 0" fill="#000" stroke="#000" stroke-width="0.7" font-size="31"><tspan textLength="19" lengthAdjust="spacingAndGlyphs">+</tspan>3.21850<tspan textLength="18.5" lengthAdjust="spacingAndGlyphs">e</tspan><tspan textLength="19.5" lengthAdjust="spacingAndGlyphs">-</tspan>001</text>
<text transform="translate(0 548.5) scale(0.830 1.000)" x="512 532.4 549.1 568.9 588 607 626.2 645.1 664.3 682.9 702.2 721.2 741.5" y="0" dy="0 0 0 0 0 0 0 0 0 -3 3 0 0" fill="#000" stroke="#000" stroke-width="0.7" font-size="31"><tspan textLength="19" lengthAdjust="spacingAndGlyphs">+</tspan>1.56604<tspan textLength="18.5" lengthAdjust="spacingAndGlyphs">e</tspan><tspan textLength="19.5" lengthAdjust="spacingAndGlyphs">-</tspan>001</text>
<text transform="translate(0 588.6) scale(0.830 1.000)" x="511.8 531.1 549.1 568.9 588.1 607.4 627.4 645.3 664.3 682.9 702.2 721.2 740.1" y="0" dy="-3 3 0 0 0 0 0 0 0 -3 3 0 0" fill="#000" stroke="#000" stroke-width="0.7" font-size="31"><tspan textLength="19.5" lengthAdjust="spacingAndGlyphs">-</tspan>8.64219<tspan textLength="18.5" lengthAdjust="spacingAndGlyphs">e</tspan><tspan textLength="19.5" lengthAdjust="spacingAndGlyphs">-</tspan>003</text>
<text transform="translate(0 28.3) scale(0.780 1.000)" x="427.9 449.8 467.5 488.6 508.9 529.1 549.2 569.3 587.9 609.8 629 649.4" y="0" fill="#000" stroke="#000" stroke-width="0.8" font-size="27.6"><tspan textLength="18.1" lengthAdjust="spacingAndGlyphs">D</tspan><tspan textLength="14.4" lengthAdjust="spacingAndGlyphs">I</tspan><tspan textLength="19.4" lengthAdjust="spacingAndGlyphs">S</tspan><tspan textLength="18.1" lengthAdjust="spacingAndGlyphs">P</tspan><tspan textLength="18.6" lengthAdjust="spacingAndGlyphs">L</tspan><tspan textLength="17.6" lengthAdjust="spacingAndGlyphs">A</tspan>C<tspan textLength="18.8" lengthAdjust="spacingAndGlyphs">E</tspan><tspan textLength="21.4" lengthAdjust="spacingAndGlyphs">M</tspan><tspan textLength="18.8" lengthAdjust="spacingAndGlyphs">E</tspan>N<tspan textLength="19.8" lengthAdjust="spacingAndGlyphs">T</tspan></text>
<text transform="translate(0 57) scale(0.700 1.000)" x="475.6 499.2 531.8 547.4 576.9 588.6 611.1" y="0" fill="#000" stroke="#000" stroke-width="0.8" font-size="27.6"><tspan textLength="22.1" lengthAdjust="spacingAndGlyphs">T</tspan>X , mm</text>
</g>
</g>
<g id="panel-b">
<clipPath id="ct-b"><polygon points="670.1,150.2 849.6,88.4 857,88.4 852.8,209.2"/></clipPath>
<polygon points="670.1,150.2 849.6,88.4 857,88.4 852.8,209.2 852.8,212.2 670.1,153" fill="#0000eb"/>
<polygon points="853.8,88.4 857.8,88 890.5,100 885.7,220.6 885.6,222.8 852,211.9 852,209.3" fill="#000086"/>
<polygon points="884.7,97.9 890.5,100 885.7,220.6 880,218.7" fill="#0000eb" opacity="0.85"/>
<polygon points="898.9,222 904.3,220.2 1044,171.5 1081.7,161.4 1070.2,486.1 887,547.9 884.8,547.9 896.7,223" fill="#0000eb"/>
<polygon points="1044,172.1 1044,152 1081.9,161.4 1081.5,168 1064.3,171" fill="#000086"/>
<clipPath id="cr-b"><polygon points="898.9,222 904.3,220.2 1044,171.5 1081.7,161.4 1070.2,486.1 887,547.9 884.8,547.9 896.7,223"/></clipPath>
<path clip-path="url(#cr-b)" d="M882 350C883.5 350.4 883.1 350.1 890.9 352.3C898.7 354.6 917.9 359.2 928.6 363.5C939.3 367.8 946.7 373 955 378C963.3 383 971.9 389.3 978.4 393.5C984.9 397.7 988.2 400.7 993.8 403C999.4 405.3 1005.7 406.7 1012 407.5C1018.3 408.3 1020.9 408.4 1031.6 408C1042.3 407.6 1068.6 405.5 1076 405L1076 600 L882 600 Z" fill="#0040f2"/>
<clipPath id="cf-b"><polygon points="670.1,150.2 885.7,220.4 898.9,222.4 887,547.9 880,547.9 657,473.9"/></clipPath>
<polygon points="670.1,150.2 885.7,220.4 898.9,222.4 887,547.9 880,547.9 657,473.9" fill="#000080"/>
<g clip-path="url(#cf-b)">
<path d="M646 600C647.3 550 651.7 360.7 654 300C656.3 239.3 656.3 253 660 236C663.7 219 669 206.2 676 198C683 189.8 685.5 185.9 702 187C718.5 188.1 751 197.1 775 204.4C799 211.7 829.5 222.4 846 231C862.5 239.6 867.9 246.2 874 256C880.1 265.8 881 277.2 882.5 290C884 302.8 881.9 323 883 333C884.1 343 884.8 346.5 889 350C893.2 353.5 904.8 312.3 908 354C911.2 395.7 908 559 908 600Z" fill="#002680"/>
<path d="M872 384.9L871.7 403.6L871.2 417.4L870.5 428.8L869.4 438.8L868.2 447.7L866.7 455.7L864.9 462.9L862.9 469.3L860.6 475.2L858 480.4L855.1 485L852 489.1L848.6 492.6L844.9 495.6L840.9 498.1L836.5 500L831.7 501.4L826.5 502.2L820.8 502.4L814.5 502L807.3 501L798.7 499L787.2 495.8L765.1 488.7L754.5 484.8L746.2 481.3L739.1 477.7L732.7 473.8L726.9 469.7L721.6 465.3L716.6 460.5L712 455.4L707.8 450L703.8 444.2L700.2 438.1L696.9 431.5L693.8 424.6L691 417.3L688.6 409.5L686.3 401.3L684.4 392.5L682.8 383.2L681.4 373.3L680.3 362.5L679.5 350.5L678.9 336.8L678.6 319.3L678.6 290.4L678.9 277.7L679.5 268L680.3 259.7L681.4 252.4L682.8 245.9L684.4 240L686.3 234.7L688.6 229.9L691 225.6L693.8 221.8L696.9 218.4L700.2 215.5L703.8 213.1L707.8 211L712 209.5L716.6 208.3L721.6 207.6L726.9 207.4L732.7 207.7L739.1 208.5L746.2 209.8L754.5 211.9L765.1 215.1L789.5 223.1L801.7 227.4L810.4 230.8L817.6 234L823.8 237.2L829.3 240.4L834.3 243.7L838.9 247.2L843 250.8L846.8 254.6L850.3 258.6L853.5 262.8L856.4 267.2L859.1 271.9L861.5 276.8L863.6 282.1L865.5 287.7L867.1 293.6L868.5 300.1L869.7 307L870.6 314.8L871.3 323.6L871.7 334.1L872 348.7Z" fill="#00668c"/>
<path d="M864.5 378.3L864.2 394.5L863.7 406.7L863 417L862 426L860.8 434.1L859.3 441.4L857.6 448L855.6 454L853.4 459.4L850.9 464.3L848.2 468.6L845.2 472.4L841.9 475.7L838.3 478.6L834.5 480.9L830.3 482.7L825.8 484L820.9 484.8L815.6 485L809.7 484.7L803 483.8L795.2 482.1L785 479.2L766.9 473.5L757.6 470.1L750.1 466.9L743.6 463.5L737.6 459.9L732.2 456.1L727.2 451.9L722.5 447.4L718.1 442.6L714.1 437.5L710.3 432.1L706.9 426.3L703.6 420.2L700.7 413.7L698 406.8L695.6 399.6L693.5 392L691.6 383.9L690 375.4L688.7 366.3L687.6 356.5L686.8 345.8L686.3 333.7L686 318.6L686 295.4L686.3 284.2L686.8 275.4L687.6 267.9L688.7 261.2L690 255.2L691.5 249.7L693.4 244.8L695.5 240.3L697.9 236.3L700.5 232.8L703.4 229.6L706.5 226.9L710 224.5L713.7 222.6L717.7 221.1L722 220L726.7 219.3L731.7 219L737.1 219.2L743 219.8L749.5 221L757.1 222.8L766.6 225.5L787.2 232.2L798.2 235.9L806.1 239L812.8 241.9L818.6 244.9L823.8 247.9L828.5 251L832.8 254.2L836.7 257.6L840.3 261.2L843.7 265L846.7 269L849.5 273.2L852 277.6L854.3 282.2L856.4 287.2L858.2 292.4L859.8 298L861.1 304L862.2 310.5L863.1 317.7L863.8 325.7L864.2 335.3L864.5 348.3Z" fill="#008080"/>
<path d="M856.3 372.2L856 386.1L855.6 396.8L854.9 406.1L853.9 414.3L852.7 421.7L851.3 428.4L849.7 434.5L847.8 440.1L845.6 445.1L843.3 449.7L840.7 453.7L837.8 457.3L834.7 460.5L831.4 463.2L827.7 465.4L823.8 467.1L819.6 468.4L815.1 469.2L810.1 469.5L804.8 469.3L798.8 468.5L791.8 467.1L783 464.7L768.6 460.1L760.7 457.2L754.1 454.4L748.3 451.3L743 448L738 444.4L733.4 440.5L729.1 436.4L725.1 431.9L721.3 427.1L717.8 421.9L714.6 416.5L711.6 410.7L708.8 404.7L706.3 398.3L704 391.5L702 384.5L700.3 377L698.7 369.2L697.5 360.9L696.5 352L695.7 342.4L695.2 331.8L694.9 319L694.9 300.6L695.2 290.8L695.7 282.9L696.4 276.1L697.4 270.1L698.6 264.6L700.1 259.6L701.8 255L703.7 250.9L705.9 247.2L708.4 243.8L711 240.9L714 238.3L717.1 236L720.6 234.2L724.2 232.7L728.2 231.6L732.4 230.9L737 230.6L741.9 230.6L747.2 231.1L753.1 232.1L759.8 233.6L768 235.9L785.1 241.2L794.7 244.4L801.8 247.2L807.9 249.8L813.2 252.5L818 255.2L822.3 258.1L826.3 261.1L830 264.3L833.4 267.7L836.6 271.2L839.4 274.9L842.1 278.9L844.5 283L846.6 287.4L848.6 292L850.3 296.9L851.8 302.1L853.1 307.7L854.1 313.7L855 320.2L855.6 327.5L856.1 336.1L856.3 347.5Z" fill="#00804a"/>
<path d="M849.6 367.3L849.3 379.2L848.9 388.7L848.2 397.1L847.3 404.6L846.1 411.4L844.7 417.6L843.1 423.3L841.3 428.6L839.3 433.3L837 437.6L834.5 441.5L831.7 445L828.7 448L825.5 450.6L822.1 452.7L818.4 454.4L814.4 455.7L810.2 456.5L805.6 456.9L800.6 456.8L795.2 456.2L789 455L781.3 452.9L770 449.4L763.2 446.9L757.5 444.3L752.3 441.5L747.4 438.4L742.9 435.1L738.7 431.4L734.7 427.4L730.9 423.2L727.4 418.6L724.1 413.7L721.1 408.5L718.2 403.1L715.6 397.3L713.2 391.3L711 384.9L709.1 378.3L707.4 371.3L706 364L704.8 356.4L703.8 348.3L703.1 339.7L702.6 330.3L702.3 319.3L702.3 304.8L702.6 296L703 288.8L703.7 282.5L704.6 276.9L705.8 271.7L707.2 267L708.8 262.7L710.6 258.7L712.6 255.2L714.9 251.9L717.4 249.1L720.2 246.5L723.1 244.4L726.3 242.5L729.7 241L733.4 239.9L737.3 239.1L741.4 238.7L745.9 238.6L750.8 239L756 239.7L762 241L769.2 242.9L783.3 247.1L791.7 250L798.2 252.4L803.7 254.8L808.7 257.3L813.1 259.9L817.2 262.6L821 265.5L824.5 268.6L827.7 271.8L830.7 275.2L833.4 278.7L835.9 282.5L838.2 286.5L840.3 290.7L842.2 295.1L843.8 299.8L845.3 304.8L846.5 310L847.5 315.7L848.3 321.8L849 328.7L849.4 336.5L849.6 346.8Z" fill="#008000"/>
<path d="M836 359.4L835.8 367.9L835.4 375L834.8 381.3L834 387L833 392.3L831.8 397.2L830.4 401.6L828.8 405.7L827 409.5L825 412.9L822.9 416L820.5 418.8L818 421.2L815.3 423.2L812.3 424.9L809.2 426.3L805.9 427.3L802.3 428L798.6 428.3L794.5 428.2L790.1 427.8L785.2 426.8L779.4 425.3L771.5 422.9L766.4 421L761.8 418.9L757.6 416.6L753.7 414.1L749.9 411.4L746.4 408.4L743 405.1L739.9 401.7L736.9 397.9L734.1 393.9L731.4 389.7L729 385.3L726.7 380.6L724.7 375.8L722.8 370.7L721.1 365.4L719.7 359.9L718.4 354.2L717.4 348.2L716.5 342L715.9 335.5L715.4 328.5L715.2 320.7L715.2 311.2L715.4 304.4L715.8 298.8L716.4 293.9L717.2 289.3L718.2 285.2L719.3 281.4L720.7 277.9L722.3 274.7L724 271.8L725.9 269.1L728.1 266.8L730.4 264.7L732.9 262.9L735.5 261.4L738.4 260.2L741.5 259.2L744.7 258.5L748.2 258.1L751.9 258.1L755.9 258.3L760.2 258.9L765 259.8L770.7 261.3L781 264.3L787.6 266.4L792.8 268.4L797.3 270.3L801.3 272.4L805 274.5L808.4 276.8L811.6 279.1L814.5 281.7L817.3 284.4L819.8 287.2L822.1 290.2L824.3 293.3L826.2 296.6L828 300.1L829.6 303.8L831 307.6L832.3 311.7L833.3 316L834.2 320.6L834.9 325.6L835.4 331L835.8 337.2L836 345Z" fill="#4a8000"/>
<path d="M828.5 355L828.3 361.7L827.9 367.5L827.3 372.7L826.6 377.6L825.7 382.1L824.5 386.2L823.2 390.1L821.8 393.7L820.1 397L818.3 400.1L816.3 402.8L814.1 405.3L811.8 407.4L809.3 409.3L806.6 410.8L803.8 412.1L800.8 413L797.6 413.7L794.3 414L790.8 414L787 413.6L782.9 412.9L778.2 411.7L772.5 410L768.4 408.4L764.6 406.7L761 404.7L757.6 402.5L754.3 400L751.2 397.4L748.2 394.4L745.4 391.3L742.7 387.9L740.1 384.4L737.7 380.6L735.5 376.6L733.4 372.5L731.5 368.1L729.8 363.6L728.2 359L726.9 354.2L725.7 349.2L724.7 344.1L723.9 338.9L723.3 333.4L722.9 327.7L722.7 321.6L722.7 314.9L722.9 309.1L723.3 304.1L723.8 299.7L724.5 295.6L725.4 291.9L726.5 288.4L727.7 285.2L729.1 282.3L730.7 279.6L732.4 277.1L734.3 274.9L736.4 273L738.7 271.3L741.1 269.8L743.6 268.6L746.3 267.6L749.2 267L752.3 266.5L755.6 266.4L759 266.5L762.8 266.9L766.8 267.6L771.6 268.8L779.6 271L785.1 272.8L789.5 274.5L793.4 276.2L797 278L800.3 279.9L803.3 282L806.1 284.2L808.8 286.5L811.3 289L813.6 291.6L815.7 294.4L817.7 297.3L819.5 300.4L821.1 303.6L822.6 307L823.9 310.6L825 314.3L826 318.2L826.8 322.4L827.5 326.9L828 331.7L828.3 337.2L828.5 343.8Z" fill="#808000"/>
<path d="M819.7 350.6L819.5 355.5L819.2 359.9L818.7 364L818 367.9L817.1 371.5L816.1 374.9L815 378.1L813.7 381.1L812.2 383.9L810.6 386.4L808.8 388.7L806.9 390.8L804.8 392.7L802.6 394.3L800.3 395.6L797.9 396.7L795.4 397.5L792.7 398.1L789.9 398.5L787 398.5L783.9 398.3L780.7 397.8L777.1 396.9L773.3 395.7L770.2 394.5L767.2 393.1L764.2 391.5L761.4 389.6L758.6 387.5L756 385.2L753.4 382.7L750.9 380L748.6 377.1L746.3 374L744.2 370.8L742.3 367.4L740.4 363.8L738.7 360.2L737.2 356.4L735.8 352.5L734.6 348.5L733.5 344.4L732.6 340.3L731.9 336L731.4 331.8L731 327.4L730.8 322.9L730.8 318.6L731 313.9L731.3 309.9L731.8 306.2L732.4 302.8L733.2 299.6L734.1 296.6L735.2 293.9L736.4 291.3L737.8 289L739.3 286.9L741 284.9L742.8 283.2L744.8 281.7L746.8 280.4L749 279.3L751.4 278.5L753.9 277.8L756.5 277.4L759.2 277.2L762.2 277.2L765.3 277.5L768.6 278L772.4 278.9L778.3 280.5L782.6 281.9L786.2 283.3L789.4 284.7L792.4 286.2L795.1 287.9L797.7 289.7L800.2 291.6L802.4 293.6L804.6 295.8L806.6 298.1L808.4 300.5L810.1 303.1L811.7 305.8L813.2 308.6L814.4 311.6L815.6 314.7L816.6 317.9L817.5 321.3L818.2 324.9L818.8 328.6L819.2 332.7L819.5 337.1L819.7 342.4Z" fill="#806400"/>
<path d="M810.9 346.6L810.7 350L810.4 353.1L810 356.2L809.4 359.1L808.7 361.9L807.8 364.5L806.8 367.1L805.7 369.4L804.4 371.6L803 373.7L801.5 375.6L799.9 377.3L798.2 378.8L796.3 380.1L794.4 381.2L792.4 382.1L790.3 382.9L788.1 383.4L785.9 383.7L783.6 383.8L781.2 383.7L778.8 383.3L776.3 382.8L773.9 382.1L771.7 381.2L769.5 380.1L767.3 378.8L765 377.3L762.9 375.5L760.7 373.7L758.6 371.6L756.6 369.4L754.7 367L752.8 364.5L751 361.8L749.4 359L747.8 356.1L746.4 353.1L745.1 350.1L743.9 347L742.8 343.8L741.9 340.6L741.2 337.4L740.5 334.2L740.1 331L739.8 327.8L739.6 324.7L739.6 322.3L739.7 318.7L740 315.6L740.4 312.6L740.9 309.9L741.6 307.3L742.4 304.9L743.3 302.7L744.3 300.6L745.4 298.7L746.7 296.9L748.1 295.3L749.6 293.9L751.2 292.6L752.9 291.5L754.7 290.5L756.6 289.8L758.6 289.2L760.7 288.8L762.9 288.6L765.2 288.6L767.7 288.7L770.3 289.1L773.2 289.7L777.2 290.8L780.4 291.8L783.2 292.9L785.7 294L788.1 295.3L790.3 296.6L792.4 298.1L794.4 299.7L796.3 301.4L798.1 303.2L799.8 305.2L801.3 307.2L802.8 309.3L804.1 311.6L805.3 314L806.4 316.4L807.4 319L808.3 321.7L809 324.4L809.6 327.3L810.1 330.4L810.5 333.6L810.8 337L810.9 341Z" fill="#802800"/>
<path d="M800.7 342.5L800.6 344.3L800.3 346.1L800 347.9L799.5 349.6L799 351.3L798.3 352.9L797.5 354.5L796.6 356L795.7 357.4L794.6 358.6L793.4 359.8L792.2 360.9L790.9 361.9L789.5 362.7L788.1 363.4L786.6 364L785.1 364.5L783.6 364.8L782 365L780.4 365.1L778.8 365L777.2 364.8L775.7 364.5L774.4 364.1L773.1 363.6L771.6 362.8L770.1 362L768.6 360.9L767.1 359.8L765.6 358.5L764.1 357.1L762.6 355.5L761.2 353.9L759.8 352.2L758.5 350.4L757.2 348.5L756.1 346.6L755 344.6L754 342.6L753.1 340.6L752.3 338.5L751.6 336.5L751 334.5L750.5 332.5L750.2 330.6L749.9 328.8L749.8 327.1L749.8 326.1L749.9 323.8L750.1 321.6L750.4 319.7L750.8 317.8L751.3 316L751.9 314.3L752.5 312.7L753.3 311.2L754.1 309.9L755.1 308.6L756.1 307.4L757.2 306.4L758.3 305.5L759.6 304.6L760.9 304L762.3 303.4L763.7 303L765.2 302.7L766.8 302.5L768.5 302.4L770.2 302.5L771.9 302.7L773.9 303.1L776.3 303.8L778.4 304.4L780.3 305.1L782 305.9L783.7 306.8L785.3 307.8L786.9 308.9L788.3 310L789.7 311.3L791 312.6L792.3 314.1L793.4 315.6L794.5 317.1L795.5 318.8L796.4 320.5L797.3 322.3L798 324.1L798.7 326L799.3 328L799.7 330.1L800.1 332.2L800.4 334.3L800.6 336.6L800.7 339.1Z" fill="#800000"/>
</g>
<clipPath id="ce-b"><polygon points="893.3,224.8 897.3,224.8 884.3,547.2 880.3,547.2"/></clipPath>
<g clip-path="url(#ce-b)">
<line x1="895.3" y1="224.8" x2="882.3" y2="547.2" stroke="#0a12d8" stroke-width="2.4"/>
<path d="M882 350C883.5 350.4 883.1 350.1 890.9 352.3C898.7 354.6 917.9 359.2 928.6 363.5C939.3 367.8 946.7 373 955 378C963.3 383 971.9 389.3 978.4 393.5C984.9 397.7 988.2 400.7 993.8 403C999.4 405.3 1005.7 406.7 1012 407.5C1018.3 408.3 1020.9 408.4 1031.6 408C1042.3 407.6 1068.6 405.5 1076 405L1076 600 L882 600 Z" fill="#0a44e6" transform="translate(-12 2)"/>
</g>
<g clip-path="url(#cr-b)" fill="#000064" opacity="0.8">
<rect x="859.2" y="227.2" width="2.4" height="7"/>
<rect x="872.4" y="220.3" width="2.4" height="7"/>
<rect x="885.6" y="213.4" width="2.4" height="7"/>
<rect x="898.8" y="206.5" width="2.4" height="7"/>
<rect x="912" y="199.6" width="2.4" height="7"/>
<rect x="925.2" y="192.7" width="2.4" height="7"/>
<rect x="938.4" y="185.8" width="2.4" height="7"/>
<rect x="951.6" y="178.9" width="2.4" height="7"/>
<rect x="964.8" y="172" width="2.4" height="7"/>
<rect x="978" y="165.1" width="2.4" height="7"/>
<rect x="991.2" y="158.2" width="2.4" height="7"/>
<rect x="1004.4" y="151.3" width="2.4" height="7"/>
<rect x="1017.6" y="144.4" width="2.4" height="7"/>
<rect x="1030.8" y="137.5" width="2.4" height="7"/>
<rect x="1044" y="130.6" width="2.4" height="7"/>
<rect x="1057.2" y="123.7" width="2.4" height="7"/>
<rect x="1070.4" y="116.8" width="2.4" height="7"/>
<rect x="1083.6" y="109.9" width="2.4" height="7"/>
<rect x="856.6" y="288.6" width="2.4" height="7"/>
<rect x="869.8" y="281.7" width="2.4" height="7"/>
<rect x="883" y="274.8" width="2.4" height="7"/>
<rect x="896.2" y="267.9" width="2.4" height="7"/>
<rect x="909.4" y="261" width="2.4" height="7"/>
<rect x="922.6" y="254.1" width="2.4" height="7"/>
<rect x="935.8" y="247.2" width="2.4" height="7"/>
<rect x="949" y="240.3" width="2.4" height="7"/>
<rect x="962.2" y="233.4" width="2.4" height="7"/>
<rect x="975.4" y="226.5" width="2.4" height="7"/>
<rect x="988.6" y="219.6" width="2.4" height="7"/>
<rect x="1001.8" y="212.6" width="2.4" height="7"/>
<rect x="1015" y="205.7" width="2.4" height="7"/>
<rect x="1028.2" y="198.8" width="2.4" height="7"/>
<rect x="1041.4" y="191.9" width="2.4" height="7"/>
<rect x="1054.6" y="185" width="2.4" height="7"/>
<rect x="1067.8" y="178.1" width="2.4" height="7"/>
<rect x="1081" y="171.2" width="2.4" height="7"/>
<rect x="867.2" y="343.1" width="2.4" height="7"/>
<rect x="880.4" y="336.2" width="2.4" height="7"/>
<rect x="893.6" y="329.2" width="2.4" height="7"/>
<rect x="906.8" y="322.3" width="2.4" height="7"/>
<rect x="920" y="315.4" width="2.4" height="7"/>
<rect x="933.2" y="308.5" width="2.4" height="7"/>
<rect x="946.4" y="301.6" width="2.4" height="7"/>
<rect x="959.6" y="294.7" width="2.4" height="7"/>
<rect x="972.8" y="287.8" width="2.4" height="7"/>
<rect x="986" y="280.9" width="2.4" height="7"/>
<rect x="999.2" y="274" width="2.4" height="7"/>
<rect x="1012.4" y="267.1" width="2.4" height="7"/>
<rect x="1025.6" y="260.2" width="2.4" height="7"/>
<rect x="1038.8" y="253.3" width="2.4" height="7"/>
<rect x="1052" y="246.4" width="2.4" height="7"/>
<rect x="1065.2" y="239.5" width="2.4" height="7"/>
<rect x="1078.4" y="232.6" width="2.4" height="7"/>
<rect x="864.6" y="404.4" width="2.4" height="7"/>
<rect x="877.8" y="397.5" width="2.4" height="7"/>
<rect x="891" y="390.6" width="2.4" height="7"/>
<rect x="904.2" y="383.7" width="2.4" height="7"/>
<rect x="917.4" y="376.8" width="2.4" height="7"/>
<rect x="930.6" y="369.9" width="2.4" height="7"/>
<rect x="943.8" y="363" width="2.4" height="7"/>
<rect x="957" y="356.1" width="2.4" height="7"/>
<rect x="970.2" y="349.2" width="2.4" height="7"/>
<rect x="983.4" y="342.3" width="2.4" height="7"/>
<rect x="996.6" y="335.4" width="2.4" height="7"/>
<rect x="1009.8" y="328.5" width="2.4" height="7"/>
<rect x="1023" y="321.6" width="2.4" height="7"/>
<rect x="1036.2" y="314.7" width="2.4" height="7"/>
<rect x="1049.4" y="307.8" width="2.4" height="7"/>
<rect x="1062.6" y="300.9" width="2.4" height="7"/>
<rect x="1075.8" y="293.9" width="2.4" height="7"/>
<rect x="862" y="465.8" width="2.4" height="7"/>
<rect x="875.2" y="458.9" width="2.4" height="7"/>
<rect x="888.4" y="452" width="2.4" height="7"/>
<rect x="901.6" y="445.1" width="2.4" height="7"/>
<rect x="914.8" y="438.2" width="2.4" height="7"/>
<rect x="928" y="431.3" width="2.4" height="7"/>
<rect x="941.2" y="424.4" width="2.4" height="7"/>
<rect x="954.4" y="417.4" width="2.4" height="7"/>
<rect x="967.6" y="410.5" width="2.4" height="7"/>
<rect x="980.8" y="403.6" width="2.4" height="7"/>
<rect x="994" y="396.7" width="2.4" height="7"/>
<rect x="1007.2" y="389.8" width="2.4" height="7"/>
<rect x="1020.4" y="382.9" width="2.4" height="7"/>
<rect x="1033.6" y="376" width="2.4" height="7"/>
<rect x="1046.8" y="369.1" width="2.4" height="7"/>
<rect x="1060" y="362.2" width="2.4" height="7"/>
<rect x="1073.2" y="355.3" width="2.4" height="7"/>
<rect x="859.4" y="527.1" width="2.4" height="7"/>
<rect x="872.6" y="520.2" width="2.4" height="7"/>
<rect x="885.8" y="513.3" width="2.4" height="7"/>
<rect x="899" y="506.4" width="2.4" height="7"/>
<rect x="912.2" y="499.5" width="2.4" height="7"/>
<rect x="925.4" y="492.6" width="2.4" height="7"/>
<rect x="938.6" y="485.7" width="2.4" height="7"/>
<rect x="951.8" y="478.8" width="2.4" height="7"/>
<rect x="965" y="471.9" width="2.4" height="7"/>
<rect x="978.2" y="465" width="2.4" height="7"/>
<rect x="991.4" y="458.1" width="2.4" height="7"/>
<rect x="1004.6" y="451.2" width="2.4" height="7"/>
<rect x="1017.8" y="444.3" width="2.4" height="7"/>
<rect x="1031" y="437.4" width="2.4" height="7"/>
<rect x="1044.2" y="430.5" width="2.4" height="7"/>
<rect x="1057.4" y="423.6" width="2.4" height="7"/>
<rect x="1070.6" y="416.7" width="2.4" height="7"/>
<rect x="1083.8" y="409.8" width="2.4" height="7"/>
<rect x="856.8" y="588.5" width="2.4" height="7"/>
<rect x="870" y="581.6" width="2.4" height="7"/>
<rect x="883.2" y="574.7" width="2.4" height="7"/>
<rect x="896.4" y="567.8" width="2.4" height="7"/>
<rect x="909.6" y="560.9" width="2.4" height="7"/>
<rect x="922.8" y="554" width="2.4" height="7"/>
<rect x="936" y="547.1" width="2.4" height="7"/>
<rect x="949.2" y="540.2" width="2.4" height="7"/>
<rect x="962.4" y="533.3" width="2.4" height="7"/>
<rect x="975.6" y="526.4" width="2.4" height="7"/>
<rect x="988.8" y="519.5" width="2.4" height="7"/>
<rect x="1002" y="512.6" width="2.4" height="7"/>
<rect x="1015.2" y="505.6" width="2.4" height="7"/>
<rect x="1028.4" y="498.7" width="2.4" height="7"/>
<rect x="1041.6" y="491.8" width="2.4" height="7"/>
<rect x="1054.8" y="484.9" width="2.4" height="7"/>
<rect x="1068" y="478" width="2.4" height="7"/>
<rect x="1081.2" y="471.1" width="2.4" height="7"/>
<rect x="867.4" y="643" width="2.4" height="7"/>
<rect x="880.6" y="636.1" width="2.4" height="7"/>
<rect x="893.8" y="629.2" width="2.4" height="7"/>
<rect x="907" y="622.2" width="2.4" height="7"/>
<rect x="920.2" y="615.3" width="2.4" height="7"/>
<rect x="933.4" y="608.4" width="2.4" height="7"/>
<rect x="946.6" y="601.5" width="2.4" height="7"/>
<rect x="959.8" y="594.6" width="2.4" height="7"/>
<rect x="973" y="587.7" width="2.4" height="7"/>
<rect x="986.2" y="580.8" width="2.4" height="7"/>
<rect x="999.4" y="573.9" width="2.4" height="7"/>
<rect x="1012.6" y="567" width="2.4" height="7"/>
<rect x="1025.8" y="560.1" width="2.4" height="7"/>
<rect x="1039" y="553.2" width="2.4" height="7"/>
<rect x="1052.2" y="546.3" width="2.4" height="7"/>
<rect x="1065.4" y="539.4" width="2.4" height="7"/>
<rect x="1078.6" y="532.5" width="2.4" height="7"/>
<rect x="864.8" y="704.3" width="2.4" height="7"/>
<rect x="878" y="697.4" width="2.4" height="7"/>
<rect x="891.2" y="690.5" width="2.4" height="7"/>
<rect x="904.4" y="683.6" width="2.4" height="7"/>
<rect x="917.6" y="676.7" width="2.4" height="7"/>
<rect x="930.8" y="669.8" width="2.4" height="7"/>
<rect x="944" y="662.9" width="2.4" height="7"/>
<rect x="957.2" y="656" width="2.4" height="7"/>
<rect x="970.4" y="649.1" width="2.4" height="7"/>
<rect x="983.6" y="642.2" width="2.4" height="7"/>
<rect x="996.8" y="635.3" width="2.4" height="7"/>
<rect x="1010" y="628.4" width="2.4" height="7"/>
<rect x="1023.2" y="621.5" width="2.4" height="7"/>
<rect x="1036.4" y="614.6" width="2.4" height="7"/>
<rect x="1049.6" y="607.7" width="2.4" height="7"/>
<rect x="1062.8" y="600.8" width="2.4" height="7"/>
<rect x="1076" y="593.9" width="2.4" height="7"/>
</g>
<g clip-path="url(#ct-b)" fill="#000064" opacity="0.8">
<rect x="698.3" y="186.6" width="2.4" height="7"/>
<rect x="711.6" y="179.5" width="2.4" height="7"/>
<rect x="724.9" y="172.5" width="2.4" height="7"/>
<rect x="738.2" y="165.5" width="2.4" height="7"/>
<rect x="751.5" y="158.5" width="2.4" height="7"/>
<rect x="764.8" y="151.4" width="2.4" height="7"/>
<rect x="778.1" y="144.4" width="2.4" height="7"/>
<rect x="791.4" y="137.4" width="2.4" height="7"/>
<rect x="804.7" y="130.4" width="2.4" height="7"/>
<rect x="818" y="123.3" width="2.4" height="7"/>
<rect x="831.3" y="116.3" width="2.4" height="7"/>
<rect x="844.6" y="109.3" width="2.4" height="7"/>
<rect x="695.3" y="249.5" width="2.4" height="7"/>
<rect x="708.6" y="242.5" width="2.4" height="7"/>
<rect x="721.9" y="235.4" width="2.4" height="7"/>
<rect x="735.2" y="228.4" width="2.4" height="7"/>
<rect x="748.5" y="221.4" width="2.4" height="7"/>
<rect x="761.8" y="214.4" width="2.4" height="7"/>
<rect x="775.1" y="207.4" width="2.4" height="7"/>
<rect x="788.4" y="200.3" width="2.4" height="7"/>
<rect x="801.7" y="193.3" width="2.4" height="7"/>
<rect x="815" y="186.3" width="2.4" height="7"/>
<rect x="828.3" y="179.3" width="2.4" height="7"/>
<rect x="841.6" y="172.2" width="2.4" height="7"/>
<rect x="854.9" y="165.2" width="2.4" height="7"/>
</g>
<rect x="978" y="85.6" width="15.2" height="495.9" fill="#000"/>
<rect x="979.9" y="87.7" width="11.6" height="38" fill="#ff0000"/>
<rect x="979.9" y="127.5" width="11.6" height="40.7" fill="#ff5000"/>
<rect x="979.9" y="170.1" width="11.6" height="38.1" fill="#ffc800"/>
<rect x="979.9" y="210" width="11.6" height="40" fill="#ffff00"/>
<rect x="979.9" y="251.9" width="11.6" height="38" fill="#96ff00"/>
<rect x="979.9" y="291.7" width="11.6" height="40.6" fill="#00ff00"/>
<rect x="979.9" y="334.1" width="11.6" height="40.7" fill="#00f000"/>
<rect x="979.9" y="376.7" width="11.6" height="38" fill="#00ff8c"/>
<rect x="979.9" y="416.5" width="11.6" height="40.2" fill="#00ffff"/>
<rect x="979.9" y="458.6" width="11.6" height="38" fill="#00dcff"/>
<rect x="979.9" y="498.4" width="11.6" height="40.2" fill="#0050ff"/>
<rect x="979.9" y="540.5" width="11.6" height="39.3" fill="#0000ff"/>
<rect x="993.2" y="86" width="74.1" height="1.7" fill="#9c9c9c" opacity="0.93"/>
<rect x="993.2" y="125.8" width="74.1" height="1.7" fill="#9c9c9c" opacity="0.93"/>
<rect x="993.2" y="168.3" width="74.1" height="1.7" fill="#9c9c9c" opacity="0.93"/>
<rect x="993.2" y="208.3" width="74.1" height="1.7" fill="#9c9c9c" opacity="0.93"/>
<rect x="993.2" y="250.1" width="74.1" height="1.7" fill="#9c9c9c" opacity="0.93"/>
<rect x="993.2" y="289.9" width="74.1" height="1.7" fill="#9c9c9c" opacity="0.93"/>
<rect x="993.2" y="332.4" width="74.1" height="1.7" fill="#9c9c9c" opacity="0.93"/>
<rect x="993.2" y="374.9" width="74.1" height="1.7" fill="#9c9c9c" opacity="0.93"/>
<rect x="993.2" y="414.8" width="74.1" height="1.7" fill="#9c9c9c" opacity="0.93"/>
<rect x="993.2" y="456.8" width="74.1" height="1.7" fill="#9c9c9c" opacity="0.93"/>
<rect x="993.2" y="496.7" width="74.1" height="1.7" fill="#9c9c9c" opacity="0.93"/>
<rect x="993.2" y="538.7" width="74.1" height="1.7" fill="#9c9c9c" opacity="0.93"/>
<rect x="993.2" y="579.8" width="74.1" height="1.7" fill="#9c9c9c" opacity="0.93"/>
<g font-family="'Liberation Serif', 'Times New Roman', serif">
<text transform="translate(0 115.3) scale(0.830 1.006)" x="1222.6 1239.4 1259.6 1273.3" y="0" fill="#ff0000" stroke="#ff0000" stroke-width="0.7" font-size="31">1.2<tspan textLength="22.8" lengthAdjust="spacingAndGlyphs">%</tspan></text>
<text transform="translate(0 157.2) scale(0.830 1.006)" x="1222.6 1239.4 1259.3 1273.3" y="0" fill="#ff0000" stroke="#ff0000" stroke-width="0.7" font-size="31">1.3<tspan textLength="22.8" lengthAdjust="spacingAndGlyphs">%</tspan></text>
<text transform="translate(0 199.7) scale(0.830 1.006)" x="1221.6 1239.4 1259.4 1273.3" y="0" fill="#ff0000" stroke="#ff0000" stroke-width="0.7" font-size="31">2.0<tspan textLength="22.8" lengthAdjust="spacingAndGlyphs">%</tspan></text>
<text transform="translate(0 241.7) scale(0.830 1.006)" x="1221.4 1239.4 1259.6 1273.3" y="0" fill="#ff0000" stroke="#ff0000" stroke-width="0.7" font-size="31">0.9<tspan textLength="22.8" lengthAdjust="spacingAndGlyphs">%</tspan></text>
<text transform="translate(0 279.4) scale(0.830 1.006)" x="1221.6 1239.4 1259.1 1273.3" y="0" fill="#ff0000" stroke="#ff0000" stroke-width="0.7" font-size="31">2.5<tspan textLength="22.8" lengthAdjust="spacingAndGlyphs">%</tspan></text>
<text transform="translate(0 321.8) scale(0.830 1.006)" x="1222.6 1239.4 1259.4 1273.3" y="0" fill="#ff0000" stroke="#ff0000" stroke-width="0.7" font-size="31">1.4<tspan textLength="22.8" lengthAdjust="spacingAndGlyphs">%</tspan></text>
<text transform="translate(0 364.2) scale(0.830 1.006)" x="1221.6 1239.4 1259.1 1273.3" y="0" fill="#ff0000" stroke="#ff0000" stroke-width="0.7" font-size="31">2.5<tspan textLength="22.8" lengthAdjust="spacingAndGlyphs">%</tspan></text>
<text transform="translate(0 406.6) scale(0.830 1.006)" x="1221.6 1239.4 1259.1 1273.3" y="0" fill="#ff0000" stroke="#ff0000" stroke-width="0.7" font-size="31">2.5<tspan textLength="22.8" lengthAdjust="spacingAndGlyphs">%</tspan></text>
<text transform="translate(0 449) scale(0.830 1.006)" x="1221.3 1239.4 1259.3 1273.3" y="0" fill="#ff0000" stroke="#ff0000" stroke-width="0.7" font-size="31">3.3<tspan textLength="22.8" lengthAdjust="spacingAndGlyphs">%</tspan></text>
<text transform="translate(0 485.6) scale(0.830 1.006)" x="1221.3 1239.4 1259.3 1273.3" y="0" fill="#ff0000" stroke="#ff0000" stroke-width="0.7" font-size="31">3.3<tspan textLength="22.8" lengthAdjust="spacingAndGlyphs">%</tspan></text>
<text transform="translate(0 527.6) scale(0.830 1.006)" x="1221.3 1240.3 1258.4 1277.9 1292.3" y="0" fill="#ff0000" stroke="#ff0000" stroke-width="0.7" font-size="31">33.7<tspan textLength="22.8" lengthAdjust="spacingAndGlyphs">%</tspan></text>
<text transform="translate(0 570.4) scale(0.830 1.006)" x="1221.3 1240.1 1258.4 1278.2 1292.3" y="0" fill="#ff0000" stroke="#ff0000" stroke-width="0.7" font-size="31">45.6<tspan textLength="22.8" lengthAdjust="spacingAndGlyphs">%</tspan></text>
<text transform="translate(0 96.9) scale(0.830 1.006)" x="1290.7 1309.7 1327.8 1348 1366.7 1385.6 1406.1 1424.1 1443 1461.8 1480.9 1499.9 1518.9" y="0" fill="#000" stroke="#000" stroke-width="0.7" font-size="31"><tspan textLength="19" lengthAdjust="spacingAndGlyphs">+</tspan>4.23512<tspan textLength="18.5" lengthAdjust="spacingAndGlyphs">e</tspan><tspan textLength="19" lengthAdjust="spacingAndGlyphs">+</tspan>000</text>
<text transform="translate(0 136.4) scale(0.830 1.006)" x="1290.7 1309.7 1327.8 1347.8 1366.8 1385.9 1405 1423.7 1443 1461.8 1480.9 1499.9 1518.9" y="0" fill="#000" stroke="#000" stroke-width="0.7" font-size="31"><tspan textLength="19" lengthAdjust="spacingAndGlyphs">+</tspan>3.88093<tspan textLength="18.5" lengthAdjust="spacingAndGlyphs">e</tspan><tspan textLength="19" lengthAdjust="spacingAndGlyphs">+</tspan>000</text>
<text transform="translate(0 181.3) scale(0.830 1.006)" x="1290.7 1309.7 1327.8 1347.5 1367 1385.6 1404.3 1423.7 1443 1461.8 1480.9 1499.9 1518.9" y="0" fill="#000" stroke="#000" stroke-width="0.7" font-size="31"><tspan textLength="19" lengthAdjust="spacingAndGlyphs">+</tspan>3.52673<tspan textLength="18.5" lengthAdjust="spacingAndGlyphs">e</tspan><tspan textLength="19" lengthAdjust="spacingAndGlyphs">+</tspan>000</text>
<text transform="translate(0 219.2) scale(0.830 1.006)" x="1290.7 1309.7 1327.8 1349.1 1366.3 1386 1404.6 1423.8 1443 1461.8 1480.9 1499.9 1518.9" y="0" fill="#000" stroke="#000" stroke-width="0.7" font-size="31"><tspan textLength="19" lengthAdjust="spacingAndGlyphs">+</tspan>3.17254<tspan textLength="18.5" lengthAdjust="spacingAndGlyphs">e</tspan><tspan textLength="19" lengthAdjust="spacingAndGlyphs">+</tspan>000</text>
<text transform="translate(0 260.9) scale(0.830 1.006)" x="1290.7 1310 1327.8 1347.8 1368.1 1385.9 1404.7 1423.8 1443 1461.8 1480.9 1499.9 1518.9" y="0" fill="#000" stroke="#000" stroke-width="0.7" font-size="31"><tspan textLength="19" lengthAdjust="spacingAndGlyphs">+</tspan>2.81834<tspan textLength="18.5" lengthAdjust="spacingAndGlyphs">e</tspan><tspan textLength="19" lengthAdjust="spacingAndGlyphs">+</tspan>000</text>
<text transform="translate(0 303) scale(0.830 1.006)" x="1290.7 1310 1327.8 1347.8 1366.6 1385.8 1406.1 1423.6 1443 1461.8 1480.9 1499.9 1518.9" y="0" fill="#000" stroke="#000" stroke-width="0.7" font-size="31"><tspan textLength="19" lengthAdjust="spacingAndGlyphs">+</tspan>2.46415<tspan textLength="18.5" lengthAdjust="spacingAndGlyphs">e</tspan><tspan textLength="19" lengthAdjust="spacingAndGlyphs">+</tspan>000</text>
<text transform="translate(0 345.1) scale(0.830 1.006)" x="1290.7 1310 1327.8 1349.1 1366.8 1386 1405 1423.7 1443 1461.8 1480.9 1499.9 1518.9" y="0" fill="#000" stroke="#000" stroke-width="0.7" font-size="31"><tspan textLength="19" lengthAdjust="spacingAndGlyphs">+</tspan>2.10996<tspan textLength="18.5" lengthAdjust="spacingAndGlyphs">e</tspan><tspan textLength="19" lengthAdjust="spacingAndGlyphs">+</tspan>000</text>
<text transform="translate(0 387.9) scale(0.830 1.006)" x="1290.7 1311.1 1327.8 1347.3 1366.5 1385.6 1404.3 1423.7 1443 1461.8 1480.9 1499.9 1518.9" y="0" fill="#000" stroke="#000" stroke-width="0.7" font-size="31"><tspan textLength="19" lengthAdjust="spacingAndGlyphs">+</tspan>1.75576<tspan textLength="18.5" lengthAdjust="spacingAndGlyphs">e</tspan><tspan textLength="19" lengthAdjust="spacingAndGlyphs">+</tspan>000</text>
<text transform="translate(0 424.4) scale(0.830 1.006)" x="1290.7 1311.1 1327.8 1347.8 1366.8 1387.1 1404.6 1423.3 1443 1461.8 1480.9 1499.9 1518.9" y="0" fill="#000" stroke="#000" stroke-width="0.7" font-size="31"><tspan textLength="19" lengthAdjust="spacingAndGlyphs">+</tspan>1.40157<tspan textLength="18.5" lengthAdjust="spacingAndGlyphs">e</tspan><tspan textLength="19" lengthAdjust="spacingAndGlyphs">+</tspan>000</text>
<text transform="translate(0 466.7) scale(0.830 1.006)" x="1290.7 1311.1 1327.8 1347.8 1366.8 1385.3 1404.7 1423.9 1443 1461.8 1480.9 1499.9 1518.9" y="0" fill="#000" stroke="#000" stroke-width="0.7" font-size="31"><tspan textLength="19" lengthAdjust="spacingAndGlyphs">+</tspan>1.04738<tspan textLength="18.5" lengthAdjust="spacingAndGlyphs">e</tspan><tspan textLength="19" lengthAdjust="spacingAndGlyphs">+</tspan>000</text>
<text transform="translate(0 509.3) scale(0.830 1.006)" x="1290.7 1309.6 1327.8 1348 1366.7 1387.1 1404.9 1424.1 1443 1461.6 1480.9 1499.9 1520.2" y="0" dy="0 0 0 0 0 0 0 0 0 -3 3 0 0" fill="#000" stroke="#000" stroke-width="0.7" font-size="31"><tspan textLength="19" lengthAdjust="spacingAndGlyphs">+</tspan>6.93182<tspan textLength="18.5" lengthAdjust="spacingAndGlyphs">e</tspan><tspan textLength="19.5" lengthAdjust="spacingAndGlyphs">-</tspan>001</text>
<text transform="translate(0 551.2) scale(0.830 1.006)" x="1290.7 1309.7 1327.8 1347.7 1366.8 1386 1404.9 1423.9 1443 1461.6 1480.9 1499.9 1520.2" y="0" dy="0 0 0 0 0 0 0 0 0 -3 3 0 0" fill="#000" stroke="#000" stroke-width="0.7" font-size="31"><tspan textLength="19" lengthAdjust="spacingAndGlyphs">+</tspan>3.38988<tspan textLength="18.5" lengthAdjust="spacingAndGlyphs">e</tspan><tspan textLength="19.5" lengthAdjust="spacingAndGlyphs">-</tspan>001</text>
<text transform="translate(0 591.6) scale(0.830 1.006)" x="1290.5 1311.1 1327.8 1347.5 1367 1385.9 1404.6 1423.7 1443 1461.6 1480.9 1499.9 1519.1" y="0" dy="-3 3 0 0 0 0 0 0 0 -3 3 0 0" fill="#000" stroke="#000" stroke-width="0.7" font-size="31"><tspan textLength="19.5" lengthAdjust="spacingAndGlyphs">-</tspan>1.52053<tspan textLength="18.5" lengthAdjust="spacingAndGlyphs">e</tspan><tspan textLength="19.5" lengthAdjust="spacingAndGlyphs">-</tspan>002</text>
<text transform="translate(0 28) scale(0.780 1.006)" x="1256.4 1278.4 1296.1 1317.2 1337.5 1357.7 1377.7 1397.9 1416.5 1438.4 1457.6 1478" y="0" fill="#000" stroke="#000" stroke-width="0.8" font-size="27.6"><tspan textLength="18.1" lengthAdjust="spacingAndGlyphs">D</tspan><tspan textLength="14.4" lengthAdjust="spacingAndGlyphs">I</tspan><tspan textLength="19.4" lengthAdjust="spacingAndGlyphs">S</tspan><tspan textLength="18.1" lengthAdjust="spacingAndGlyphs">P</tspan><tspan textLength="18.6" lengthAdjust="spacingAndGlyphs">L</tspan><tspan textLength="17.6" lengthAdjust="spacingAndGlyphs">A</tspan>C<tspan textLength="18.8" lengthAdjust="spacingAndGlyphs">E</tspan><tspan textLength="21.4" lengthAdjust="spacingAndGlyphs">M</tspan><tspan textLength="18.8" lengthAdjust="spacingAndGlyphs">E</tspan>N<tspan textLength="19.8" lengthAdjust="spacingAndGlyphs">T</tspan></text>
<text transform="translate(0 56.8) scale(0.700 1.006)" x="1398.9 1422.5 1455.1 1470.7 1500.2 1511.9 1534.4" y="0" fill="#000" stroke="#000" stroke-width="0.8" font-size="27.6"><tspan textLength="22.1" lengthAdjust="spacingAndGlyphs">T</tspan>X , mm</text>
</g>
</g>
<g id="panel-c">
<clipPath id="ct-c"><polygon points="1311.1,155.5 1490.6,93.8 1498,93.8 1493.8,214.4"/></clipPath>
<polygon points="1311.1,155.5 1490.6,93.8 1498,93.8 1493.8,214.4 1493.8,217.4 1311.1,158.3" fill="#0000eb"/>
<polygon points="1494.8,93.8 1498.8,93.4 1531.5,105.4 1526.7,225.8 1526.6,228 1493,217.1 1493,214.5" fill="#000086"/>
<polygon points="1525.7,103.2 1531.5,105.4 1526.7,225.8 1521,223.9" fill="#0000eb" opacity="0.85"/>
<polygon points="1539.9,227.2 1545.3,225.4 1685,176.8 1722.7,166.7 1711.2,490.9 1528,552.6 1525.8,552.6 1537.7,228.2" fill="#0000eb"/>
<polygon points="1685,177.4 1685,157.3 1722.9,166.7 1722.5,173.2 1705.3,176.3" fill="#000086"/>
<clipPath id="cr-c"><polygon points="1539.9,227.2 1545.3,225.4 1685,176.8 1722.7,166.7 1711.2,490.9 1528,552.6 1525.8,552.6 1537.7,228.2"/></clipPath>
<path clip-path="url(#cr-c)" d="M1523 351.5C1524.6 351.6 1527.8 351.7 1532.6 352.3C1537.3 352.9 1545.5 353.6 1551.5 354.9C1557.5 356.2 1561.4 357.1 1568.6 360C1575.8 362.9 1586.1 368.1 1594.4 372.1C1602.7 376.1 1611.3 380.1 1618.4 384.1C1625.5 388.1 1631.2 392.7 1637.2 396.1C1643.2 399.5 1648.7 402.8 1654.4 404.6C1660.1 406.4 1661.3 406.6 1671.6 406.7C1681.9 406.8 1708.6 405.5 1716 405.3L1716 600 L1523 600 Z" fill="#0040f2"/>
<clipPath id="cf-c"><polygon points="1311.1,155.5 1526.7,225.6 1539.9,227.6 1528,552.6 1521,552.6 1298,478.7"/></clipPath>
<polygon points="1311.1,155.5 1526.7,225.6 1539.9,227.6 1528,552.6 1521,552.6 1298,478.7" fill="#000080"/>
<g clip-path="url(#cf-c)">
<path d="M1287 600C1288.3 550 1292.7 360 1295 300C1297.3 240 1297.3 256.5 1301 240C1304.7 223.5 1310 209.3 1317 201C1324 192.7 1326.5 189.2 1343 190C1359.5 190.8 1392 198.4 1416 205.7C1440 213 1470.5 224.9 1487 234C1503.5 243.1 1509 249.8 1515 260C1521 270.2 1521.5 282 1523 295C1524.5 308 1522.8 328 1524 338C1525.2 348 1525.8 351.5 1530 355C1534.2 358.5 1545.8 318.2 1549 359C1552.2 399.8 1549 559.8 1549 600Z" fill="#002680"/>
<path d="M1510.9 409.2L1510.6 426.5L1510.1 439.2L1509.4 449.8L1508.4 459L1507.2 467.2L1505.7 474.5L1503.9 481.1L1501.9 487.1L1499.7 492.4L1497.2 497.2L1494.4 501.5L1491.4 505.2L1488 508.4L1484.4 511.1L1480.4 513.3L1476.2 515L1471.5 516.1L1466.4 516.8L1460.8 516.9L1454.6 516.4L1447.6 515.3L1439.2 513.4L1427.9 510.2L1405.9 503.1L1395.1 499.2L1386.6 495.7L1379.3 492.1L1372.8 488.4L1366.9 484.4L1361.4 480.1L1356.3 475.6L1351.6 470.7L1347.3 465.6L1343.3 460.1L1339.6 454.3L1336.2 448.2L1333 441.7L1330.2 434.8L1327.7 427.6L1325.4 419.9L1323.4 411.8L1321.8 403.1L1320.3 393.9L1319.2 383.8L1318.4 372.8L1317.8 360.1L1317.5 343.9L1317.5 313.6L1317.8 298.1L1318.4 286.3L1319.2 276.1L1320.3 267.2L1321.8 259.1L1323.4 251.9L1325.4 245.3L1327.7 239.3L1330.2 233.9L1333 229.1L1336.2 224.8L1339.6 221.1L1343.3 217.8L1347.3 215.1L1351.6 212.9L1356.3 211.2L1361.4 210.1L1366.9 209.5L1372.8 209.4L1379.3 210L1386.6 211.2L1395.1 213.1L1405.9 216.3L1430.2 224.3L1442.1 228.6L1450.6 232.1L1457.6 235.4L1463.7 238.8L1469.2 242.2L1474 245.9L1478.5 249.7L1482.6 253.8L1486.3 258.1L1489.7 262.7L1492.8 267.6L1495.7 272.7L1498.3 278.2L1500.6 284.1L1502.7 290.3L1504.5 296.9L1506.1 304.1L1507.5 311.8L1508.6 320.2L1509.5 329.5L1510.2 340.2L1510.6 353L1510.9 370.7Z" fill="#00668c"/>
<path d="M1502.8 402.9L1502.5 418L1502.1 429.4L1501.3 439L1500.4 447.4L1499.2 455L1497.8 461.8L1496.1 467.9L1494.2 473.5L1492 478.5L1489.6 483L1487 487.1L1484 490.6L1480.9 493.6L1477.4 496.2L1473.7 498.3L1469.6 500L1465.3 501.1L1460.5 501.8L1455.3 502L1449.6 501.6L1443.2 500.7L1435.6 499L1425.7 496.2L1407.9 490.6L1398.4 487.2L1390.9 484L1384.3 480.7L1378.4 477.2L1372.9 473.5L1367.9 469.5L1363.1 465.2L1358.8 460.6L1354.7 455.8L1350.9 450.6L1347.4 445.1L1344.2 439.3L1341.2 433.2L1338.5 426.7L1336.1 419.9L1334 412.7L1332.1 405.2L1330.5 397.2L1329.1 388.6L1328 379.5L1327.2 369.5L1326.7 358.2L1326.4 344.1L1326.4 319.5L1326.7 305.8L1327.2 295.1L1328 285.8L1329.1 277.6L1330.4 270.2L1332 263.4L1333.8 257.3L1336 251.7L1338.3 246.7L1341 242.1L1343.9 238.1L1347.1 234.5L1350.5 231.5L1354.3 228.9L1358.3 226.7L1362.7 225.1L1367.3 223.9L1372.4 223.2L1377.8 223.1L1383.8 223.5L1390.4 224.5L1397.9 226.1L1407.5 228.8L1427.9 235.3L1438.5 239.1L1446.2 242.2L1452.6 245.2L1458.3 248.3L1463.3 251.6L1467.9 255L1472 258.6L1475.9 262.4L1479.4 266.5L1482.6 270.8L1485.6 275.5L1488.3 280.3L1490.7 285.5L1492.9 291L1494.9 296.9L1496.7 303.2L1498.2 309.8L1499.5 317.1L1500.6 324.9L1501.5 333.5L1502.1 343.3L1502.6 354.9L1502.8 370.8Z" fill="#008080"/>
<path d="M1494.6 397.3L1494.3 410.5L1493.9 420.7L1493.2 429.5L1492.3 437.4L1491.1 444.4L1489.8 450.8L1488.2 456.6L1486.4 461.9L1484.3 466.7L1482 471.1L1479.5 474.9L1476.7 478.3L1473.7 481.3L1470.5 483.8L1467 485.9L1463.2 487.6L1459.1 488.8L1454.7 489.5L1450 489.8L1444.8 489.6L1439 488.8L1432.3 487.4L1423.7 485.1L1409.5 480.6L1401.4 477.7L1394.7 474.8L1388.8 471.8L1383.4 468.5L1378.4 465L1373.7 461.2L1369.3 457.1L1365.2 452.8L1361.4 448.1L1357.8 443.2L1354.5 437.9L1351.5 432.4L1348.7 426.5L1346.1 420.4L1343.8 413.9L1341.7 407.1L1339.9 400L1338.4 392.5L1337.1 384.5L1336.1 376.1L1335.3 366.9L1334.8 356.8L1334.5 344.5L1334.5 324.9L1334.8 312.8L1335.3 303.2L1336 294.9L1337 287.4L1338.3 280.6L1339.8 274.4L1341.5 268.7L1343.5 263.6L1345.7 258.9L1348.2 254.6L1350.9 250.8L1353.9 247.5L1357.1 244.6L1360.6 242.1L1364.3 240.1L1368.4 238.5L1372.7 237.3L1377.3 236.6L1382.3 236.4L1387.7 236.7L1393.7 237.5L1400.5 238.9L1408.9 241.1L1425.7 246.4L1435 249.6L1441.9 252.4L1447.8 255.1L1452.9 257.9L1457.5 260.9L1461.8 264.1L1465.6 267.5L1469.2 271.1L1472.5 274.9L1475.5 279L1478.3 283.3L1480.8 287.9L1483.2 292.7L1485.2 297.9L1487.1 303.4L1488.8 309.2L1490.2 315.5L1491.5 322.2L1492.5 329.4L1493.3 337.3L1494 346.2L1494.4 356.7L1494.6 370.6Z" fill="#00804a"/>
<path d="M1487.8 392.5L1487.6 404L1487.1 413.3L1486.4 421.3L1485.6 428.6L1484.5 435.2L1483.1 441.2L1481.6 446.7L1479.8 451.8L1477.8 456.4L1475.6 460.5L1473.2 464.3L1470.6 467.6L1467.7 470.5L1464.6 473L1461.3 475.1L1457.8 476.8L1453.9 478L1449.8 478.8L1445.4 479.2L1440.7 479.1L1435.4 478.5L1429.5 477.3L1422.1 475.4L1410.9 471.9L1403.9 469.3L1398 466.7L1392.6 463.9L1387.7 460.8L1383 457.5L1378.7 453.9L1374.6 450L1370.7 445.8L1367.1 441.3L1363.7 436.5L1360.6 431.4L1357.6 426.1L1355 420.5L1352.5 414.6L1350.3 408.4L1348.3 402L1346.6 395.2L1345.1 388.2L1343.8 380.8L1342.8 373L1342.1 364.6L1341.6 355.5L1341.3 344.9L1341.3 329.3L1341.6 318.7L1342 310.1L1342.8 302.5L1343.7 295.6L1344.9 289.4L1346.3 283.6L1347.9 278.4L1349.8 273.5L1351.9 269.1L1354.3 265.2L1356.8 261.6L1359.6 258.4L1362.7 255.6L1365.9 253.3L1369.5 251.3L1373.2 249.7L1377.2 248.6L1381.5 247.9L1386.1 247.6L1391.1 247.7L1396.5 248.3L1402.6 249.5L1410.1 251.4L1424 255.7L1432.1 258.4L1438.3 260.9L1443.7 263.4L1448.4 266L1452.7 268.8L1456.6 271.8L1460.3 275L1463.6 278.4L1466.7 282L1469.6 285.9L1472.2 290L1474.6 294.3L1476.8 298.9L1478.8 303.8L1480.6 309L1482.2 314.5L1483.6 320.3L1484.8 326.6L1485.8 333.3L1486.6 340.6L1487.2 348.7L1487.6 358.2L1487.8 370.4Z" fill="#008000"/>
<path d="M1475 384.9L1474.8 393L1474.4 399.7L1473.8 405.7L1473 411.1L1472.1 416.1L1470.9 420.7L1469.6 424.9L1468 428.8L1466.3 432.4L1464.4 435.6L1462.3 438.5L1460 441.1L1457.6 443.4L1454.9 445.3L1452.1 446.9L1449.1 448.2L1445.9 449.1L1442.4 449.8L1438.8 450L1434.9 449.9L1430.6 449.5L1425.9 448.5L1420.3 447.1L1412.5 444.7L1407.2 442.7L1402.5 440.7L1398.2 438.4L1394.2 436L1390.4 433.3L1386.8 430.4L1383.4 427.2L1380.1 423.8L1377.1 420.2L1374.2 416.4L1371.5 412.3L1369 408.1L1366.7 403.6L1364.6 398.9L1362.7 394.1L1361 389L1359.5 383.8L1358.2 378.3L1357.1 372.7L1356.2 366.8L1355.6 360.6L1355.1 353.9L1354.9 346.5L1354.9 336.6L1355.1 328.9L1355.5 322.5L1356.1 316.8L1356.9 311.6L1357.9 306.8L1359.1 302.4L1360.5 298.4L1362.1 294.7L1363.9 291.3L1365.9 288.2L1368 285.5L1370.4 283L1372.9 280.9L1375.7 279L1378.6 277.5L1381.7 276.3L1385.1 275.4L1388.6 274.9L1392.4 274.7L1396.5 274.8L1400.9 275.3L1405.8 276.2L1411.6 277.6L1421.8 280.6L1428.2 282.8L1433.2 284.7L1437.6 286.7L1441.5 288.8L1445 291.1L1448.3 293.5L1451.4 296L1454.2 298.8L1456.9 301.7L1459.3 304.8L1461.6 308.1L1463.6 311.5L1465.5 315.2L1467.3 319.1L1468.8 323.2L1470.2 327.5L1471.4 332.1L1472.4 337L1473.3 342.2L1473.9 347.8L1474.5 354L1474.8 361L1475 369.9Z" fill="#4a8000"/>
<path d="M1468.2 381L1468 387.5L1467.6 393.1L1467.1 398.2L1466.3 402.9L1465.4 407.3L1464.3 411.4L1463.1 415.1L1461.6 418.6L1460 421.9L1458.2 424.8L1456.3 427.5L1454.1 429.8L1451.9 431.9L1449.4 433.7L1446.8 435.3L1444.1 436.5L1441.2 437.4L1438.1 438L1434.8 438.3L1431.4 438.3L1427.7 438L1423.7 437.3L1419.1 436.1L1413.4 434.4L1409.1 432.8L1405.2 431L1401.4 429L1397.9 426.8L1394.5 424.3L1391.2 421.6L1388.1 418.7L1385.2 415.6L1382.4 412.3L1379.7 408.8L1377.2 405L1374.9 401.1L1372.7 397L1370.8 392.8L1369 388.4L1367.3 383.8L1365.9 379.1L1364.7 374.3L1363.7 369.3L1362.9 364.2L1362.2 358.9L1361.8 353.3L1361.6 347.4L1361.6 340.3L1361.8 333.9L1362.2 328.5L1362.7 323.6L1363.5 319.1L1364.4 314.9L1365.5 311.1L1366.8 307.5L1368.3 304.2L1369.9 301.2L1371.7 298.5L1373.7 296L1375.9 293.8L1378.2 291.9L1380.7 290.2L1383.4 288.9L1386.2 287.8L1389.2 286.9L1392.4 286.4L1395.8 286.2L1399.4 286.2L1403.3 286.6L1407.5 287.3L1412.5 288.5L1420.5 290.8L1425.8 292.6L1430.1 294.2L1434 296L1437.4 297.9L1440.6 299.9L1443.6 302L1446.4 304.3L1449 306.8L1451.4 309.5L1453.6 312.3L1455.7 315.3L1457.6 318.4L1459.4 321.7L1461 325.2L1462.4 328.9L1463.7 332.8L1464.8 336.9L1465.8 341.2L1466.6 345.8L1467.2 350.7L1467.7 356.1L1468 362L1468.2 369.4Z" fill="#808000"/>
<path d="M1460.7 377.1L1460.5 381.9L1460.2 386.2L1459.7 390.3L1459 394.1L1458.1 397.7L1457.1 401.1L1456 404.2L1454.7 407.2L1453.2 409.9L1451.6 412.4L1449.8 414.7L1447.9 416.7L1445.8 418.5L1443.6 420.1L1441.3 421.4L1438.9 422.5L1436.4 423.3L1433.7 423.9L1430.9 424.2L1428 424.2L1424.9 424L1421.7 423.5L1418.1 422.6L1414.2 421.4L1410.9 420.2L1407.8 418.7L1404.7 417L1401.8 415.1L1398.9 413L1396.1 410.7L1393.4 408.2L1390.9 405.5L1388.4 402.6L1386 399.5L1383.8 396.3L1381.8 392.9L1379.8 389.3L1378.1 385.7L1376.5 381.9L1375 378L1373.7 374.1L1372.6 370L1371.7 365.9L1371 361.7L1370.4 357.5L1370 353.2L1369.8 348.8L1369.8 344.3L1370 339.2L1370.3 334.8L1370.8 330.8L1371.5 327.1L1372.3 323.6L1373.3 320.4L1374.4 317.4L1375.7 314.6L1377.1 312L1378.7 309.7L1380.5 307.6L1382.4 305.7L1384.4 304L1386.6 302.6L1388.9 301.4L1391.3 300.4L1393.9 299.7L1396.6 299.2L1399.5 299L1402.6 299L1405.8 299.2L1409.3 299.8L1413.3 300.7L1419.3 302.3L1423.6 303.7L1427.2 305.1L1430.4 306.6L1433.4 308.2L1436.1 309.9L1438.7 311.8L1441.2 313.8L1443.4 316L1445.6 318.3L1447.6 320.7L1449.4 323.3L1451.1 326.1L1452.7 329L1454.2 332L1455.4 335.2L1456.6 338.5L1457.6 342L1458.5 345.7L1459.2 349.5L1459.8 353.6L1460.2 358L1460.5 362.8L1460.7 368.6Z" fill="#806400"/>
<path d="M1451.9 373.1L1451.7 376.5L1451.4 379.6L1451 382.7L1450.4 385.6L1449.7 388.4L1448.8 391L1447.8 393.5L1446.7 395.9L1445.4 398.1L1444 400.1L1442.5 402L1440.9 403.7L1439.2 405.2L1437.3 406.5L1435.4 407.6L1433.4 408.6L1431.3 409.3L1429.1 409.8L1426.9 410.1L1424.6 410.2L1422.2 410.1L1419.8 409.7L1417.3 409.2L1414.9 408.4L1412.7 407.6L1410.4 406.4L1408.1 405.1L1405.9 403.6L1403.7 401.9L1401.5 400L1399.4 397.9L1397.3 395.7L1395.3 393.3L1393.4 390.8L1391.6 388.1L1389.9 385.3L1388.4 382.4L1386.9 379.4L1385.6 376.4L1384.4 373.3L1383.3 370.1L1382.4 366.9L1381.6 363.7L1381 360.5L1380.5 357.3L1380.2 354.1L1380 351.1L1380 348.4L1380.2 344.6L1380.4 341.2L1380.8 338L1381.4 335.1L1382 332.3L1382.8 329.7L1383.7 327.2L1384.8 325L1385.9 322.9L1387.2 320.9L1388.6 319.2L1390.1 317.6L1391.8 316.2L1393.5 315L1395.3 313.9L1397.3 313.1L1399.3 312.4L1401.5 311.9L1403.7 311.7L1406.1 311.6L1408.6 311.8L1411.2 312.1L1414.2 312.7L1418.2 313.8L1421.4 314.8L1424.2 315.9L1426.7 317.1L1429.1 318.4L1431.3 319.8L1433.4 321.4L1435.4 323L1437.3 324.8L1439.1 326.8L1440.8 328.8L1442.3 331L1443.8 333.3L1445.1 335.7L1446.3 338.2L1447.4 340.8L1448.4 343.6L1449.3 346.5L1450 349.4L1450.6 352.6L1451.1 355.8L1451.5 359.3L1451.8 363L1451.9 367.2Z" fill="#802800"/>
<path d="M1442.4 369.3L1442.3 371.1L1442 373L1441.7 374.9L1441.2 376.7L1440.6 378.5L1439.9 380.2L1439.1 381.8L1438.2 383.4L1437.2 384.9L1436.1 386.2L1435 387.5L1433.7 388.6L1432.4 389.7L1430.9 390.6L1429.5 391.3L1428 391.9L1426.4 392.4L1424.8 392.8L1423.2 393L1421.5 393.1L1419.9 393L1418.3 392.8L1416.7 392.5L1415.4 392.1L1414 391.5L1412.6 390.8L1411 389.9L1409.4 388.8L1407.9 387.6L1406.3 386.3L1404.8 384.8L1403.3 383.2L1401.8 381.5L1400.4 379.7L1399 377.8L1397.7 375.9L1396.5 373.8L1395.4 371.8L1394.4 369.7L1393.5 367.5L1392.7 365.4L1391.9 363.3L1391.3 361.1L1390.9 359.1L1390.5 357.1L1390.2 355.2L1390.1 353.4L1390.1 352.4L1390.2 350L1390.4 347.8L1390.7 345.8L1391.1 343.8L1391.6 342L1392.2 340.3L1392.9 338.6L1393.7 337.1L1394.5 335.7L1395.5 334.4L1396.5 333.2L1397.7 332.2L1398.9 331.2L1400.2 330.4L1401.5 329.7L1402.9 329.1L1404.4 328.6L1406 328.3L1407.6 328.1L1409.3 328.1L1411 328.2L1412.9 328.4L1414.8 328.8L1417.3 329.5L1419.5 330.1L1421.4 330.9L1423.2 331.7L1425 332.6L1426.6 333.6L1428.2 334.7L1429.7 335.9L1431.1 337.2L1432.5 338.6L1433.7 340L1434.9 341.6L1436 343.2L1437.1 344.9L1438 346.6L1438.9 348.5L1439.7 350.4L1440.3 352.3L1440.9 354.4L1441.4 356.5L1441.8 358.6L1442.1 360.9L1442.3 363.2L1442.4 365.8Z" fill="#800000"/>
</g>
<clipPath id="ce-c"><polygon points="1534.3,230 1538.3,230 1525.3,551.9 1521.3,551.9"/></clipPath>
<g clip-path="url(#ce-c)">
<line x1="1536.3" y1="230" x2="1523.3" y2="551.9" stroke="#0a12d8" stroke-width="2.4"/>
<path d="M1523 351.5C1524.6 351.6 1527.8 351.7 1532.6 352.3C1537.3 352.9 1545.5 353.6 1551.5 354.9C1557.5 356.2 1561.4 357.1 1568.6 360C1575.8 362.9 1586.1 368.1 1594.4 372.1C1602.7 376.1 1611.3 380.1 1618.4 384.1C1625.5 388.1 1631.2 392.7 1637.2 396.1C1643.2 399.5 1648.7 402.8 1654.4 404.6C1660.1 406.4 1661.3 406.6 1671.6 406.7C1681.9 406.8 1708.6 405.5 1716 405.3L1716 600 L1523 600 Z" fill="#0a44e6" transform="translate(-12 2)"/>
</g>
<g clip-path="url(#cr-c)" fill="#000064" opacity="0.8">
<rect x="1500.2" y="232.4" width="2.4" height="7"/>
<rect x="1513.4" y="225.5" width="2.4" height="7"/>
<rect x="1526.6" y="218.6" width="2.4" height="7"/>
<rect x="1539.8" y="211.7" width="2.4" height="7"/>
<rect x="1553" y="204.8" width="2.4" height="7"/>
<rect x="1566.2" y="197.9" width="2.4" height="7"/>
<rect x="1579.4" y="191" width="2.4" height="7"/>
<rect x="1592.6" y="184.2" width="2.4" height="7"/>
<rect x="1605.8" y="177.3" width="2.4" height="7"/>
<rect x="1619" y="170.4" width="2.4" height="7"/>
<rect x="1632.2" y="163.5" width="2.4" height="7"/>
<rect x="1645.4" y="156.6" width="2.4" height="7"/>
<rect x="1658.6" y="149.7" width="2.4" height="7"/>
<rect x="1671.8" y="142.8" width="2.4" height="7"/>
<rect x="1685" y="135.9" width="2.4" height="7"/>
<rect x="1698.2" y="129" width="2.4" height="7"/>
<rect x="1711.4" y="122.1" width="2.4" height="7"/>
<rect x="1724.6" y="115.2" width="2.4" height="7"/>
<rect x="1497.6" y="293.7" width="2.4" height="7"/>
<rect x="1510.8" y="286.8" width="2.4" height="7"/>
<rect x="1524" y="279.9" width="2.4" height="7"/>
<rect x="1537.2" y="273" width="2.4" height="7"/>
<rect x="1550.4" y="266.1" width="2.4" height="7"/>
<rect x="1563.6" y="259.2" width="2.4" height="7"/>
<rect x="1576.8" y="252.3" width="2.4" height="7"/>
<rect x="1590" y="245.4" width="2.4" height="7"/>
<rect x="1603.2" y="238.5" width="2.4" height="7"/>
<rect x="1616.4" y="231.6" width="2.4" height="7"/>
<rect x="1629.6" y="224.7" width="2.4" height="7"/>
<rect x="1642.8" y="217.8" width="2.4" height="7"/>
<rect x="1656" y="210.9" width="2.4" height="7"/>
<rect x="1669.2" y="204.1" width="2.4" height="7"/>
<rect x="1682.4" y="197.2" width="2.4" height="7"/>
<rect x="1695.6" y="190.3" width="2.4" height="7"/>
<rect x="1708.8" y="183.4" width="2.4" height="7"/>
<rect x="1722" y="176.5" width="2.4" height="7"/>
<rect x="1508.2" y="348" width="2.4" height="7"/>
<rect x="1521.4" y="341.1" width="2.4" height="7"/>
<rect x="1534.6" y="334.3" width="2.4" height="7"/>
<rect x="1547.8" y="327.4" width="2.4" height="7"/>
<rect x="1561" y="320.5" width="2.4" height="7"/>
<rect x="1574.2" y="313.6" width="2.4" height="7"/>
<rect x="1587.4" y="306.7" width="2.4" height="7"/>
<rect x="1600.6" y="299.8" width="2.4" height="7"/>
<rect x="1613.8" y="292.9" width="2.4" height="7"/>
<rect x="1627" y="286" width="2.4" height="7"/>
<rect x="1640.2" y="279.1" width="2.4" height="7"/>
<rect x="1653.4" y="272.2" width="2.4" height="7"/>
<rect x="1666.6" y="265.3" width="2.4" height="7"/>
<rect x="1679.8" y="258.4" width="2.4" height="7"/>
<rect x="1693" y="251.5" width="2.4" height="7"/>
<rect x="1706.2" y="244.6" width="2.4" height="7"/>
<rect x="1719.4" y="237.7" width="2.4" height="7"/>
<rect x="1505.6" y="409.3" width="2.4" height="7"/>
<rect x="1518.8" y="402.4" width="2.4" height="7"/>
<rect x="1532" y="395.5" width="2.4" height="7"/>
<rect x="1545.2" y="388.6" width="2.4" height="7"/>
<rect x="1558.4" y="381.7" width="2.4" height="7"/>
<rect x="1571.6" y="374.8" width="2.4" height="7"/>
<rect x="1584.8" y="367.9" width="2.4" height="7"/>
<rect x="1598" y="361.1" width="2.4" height="7"/>
<rect x="1611.2" y="354.2" width="2.4" height="7"/>
<rect x="1624.4" y="347.3" width="2.4" height="7"/>
<rect x="1637.6" y="340.4" width="2.4" height="7"/>
<rect x="1650.8" y="333.5" width="2.4" height="7"/>
<rect x="1664" y="326.6" width="2.4" height="7"/>
<rect x="1677.2" y="319.7" width="2.4" height="7"/>
<rect x="1690.4" y="312.8" width="2.4" height="7"/>
<rect x="1703.6" y="305.9" width="2.4" height="7"/>
<rect x="1716.8" y="299" width="2.4" height="7"/>
<rect x="1503" y="470.6" width="2.4" height="7"/>
<rect x="1516.2" y="463.7" width="2.4" height="7"/>
<rect x="1529.4" y="456.8" width="2.4" height="7"/>
<rect x="1542.6" y="449.9" width="2.4" height="7"/>
<rect x="1555.8" y="443" width="2.4" height="7"/>
<rect x="1569" y="436.1" width="2.4" height="7"/>
<rect x="1582.2" y="429.2" width="2.4" height="7"/>
<rect x="1595.4" y="422.3" width="2.4" height="7"/>
<rect x="1608.6" y="415.4" width="2.4" height="7"/>
<rect x="1621.8" y="408.5" width="2.4" height="7"/>
<rect x="1635" y="401.6" width="2.4" height="7"/>
<rect x="1648.2" y="394.7" width="2.4" height="7"/>
<rect x="1661.4" y="387.8" width="2.4" height="7"/>
<rect x="1674.6" y="381" width="2.4" height="7"/>
<rect x="1687.8" y="374.1" width="2.4" height="7"/>
<rect x="1701" y="367.2" width="2.4" height="7"/>
<rect x="1714.2" y="360.3" width="2.4" height="7"/>
<rect x="1500.4" y="531.8" width="2.4" height="7"/>
<rect x="1513.6" y="524.9" width="2.4" height="7"/>
<rect x="1526.8" y="518" width="2.4" height="7"/>
<rect x="1540" y="511.2" width="2.4" height="7"/>
<rect x="1553.2" y="504.3" width="2.4" height="7"/>
<rect x="1566.4" y="497.4" width="2.4" height="7"/>
<rect x="1579.6" y="490.5" width="2.4" height="7"/>
<rect x="1592.8" y="483.6" width="2.4" height="7"/>
<rect x="1606" y="476.7" width="2.4" height="7"/>
<rect x="1619.2" y="469.8" width="2.4" height="7"/>
<rect x="1632.4" y="462.9" width="2.4" height="7"/>
<rect x="1645.6" y="456" width="2.4" height="7"/>
<rect x="1658.8" y="449.1" width="2.4" height="7"/>
<rect x="1672" y="442.2" width="2.4" height="7"/>
<rect x="1685.2" y="435.3" width="2.4" height="7"/>
<rect x="1698.4" y="428.4" width="2.4" height="7"/>
<rect x="1711.6" y="421.5" width="2.4" height="7"/>
<rect x="1724.8" y="414.6" width="2.4" height="7"/>
<rect x="1497.8" y="593.1" width="2.4" height="7"/>
<rect x="1511" y="586.2" width="2.4" height="7"/>
<rect x="1524.2" y="579.3" width="2.4" height="7"/>
<rect x="1537.4" y="572.4" width="2.4" height="7"/>
<rect x="1550.6" y="565.5" width="2.4" height="7"/>
<rect x="1563.8" y="558.6" width="2.4" height="7"/>
<rect x="1577" y="551.7" width="2.4" height="7"/>
<rect x="1590.2" y="544.8" width="2.4" height="7"/>
<rect x="1603.4" y="538" width="2.4" height="7"/>
<rect x="1616.6" y="531.1" width="2.4" height="7"/>
<rect x="1629.8" y="524.2" width="2.4" height="7"/>
<rect x="1643" y="517.3" width="2.4" height="7"/>
<rect x="1656.2" y="510.4" width="2.4" height="7"/>
<rect x="1669.4" y="503.5" width="2.4" height="7"/>
<rect x="1682.6" y="496.6" width="2.4" height="7"/>
<rect x="1695.8" y="489.7" width="2.4" height="7"/>
<rect x="1709" y="482.8" width="2.4" height="7"/>
<rect x="1722.2" y="475.9" width="2.4" height="7"/>
<rect x="1508.4" y="647.5" width="2.4" height="7"/>
<rect x="1521.6" y="640.6" width="2.4" height="7"/>
<rect x="1534.8" y="633.7" width="2.4" height="7"/>
<rect x="1548" y="626.8" width="2.4" height="7"/>
<rect x="1561.2" y="619.9" width="2.4" height="7"/>
<rect x="1574.4" y="613" width="2.4" height="7"/>
<rect x="1587.6" y="606.1" width="2.4" height="7"/>
<rect x="1600.8" y="599.2" width="2.4" height="7"/>
<rect x="1614" y="592.3" width="2.4" height="7"/>
<rect x="1627.2" y="585.4" width="2.4" height="7"/>
<rect x="1640.4" y="578.5" width="2.4" height="7"/>
<rect x="1653.6" y="571.6" width="2.4" height="7"/>
<rect x="1666.8" y="564.7" width="2.4" height="7"/>
<rect x="1680" y="557.9" width="2.4" height="7"/>
<rect x="1693.2" y="551" width="2.4" height="7"/>
<rect x="1706.4" y="544.1" width="2.4" height="7"/>
<rect x="1719.6" y="537.2" width="2.4" height="7"/>
<rect x="1505.8" y="708.7" width="2.4" height="7"/>
<rect x="1519" y="701.8" width="2.4" height="7"/>
<rect x="1532.2" y="694.9" width="2.4" height="7"/>
<rect x="1545.4" y="688.1" width="2.4" height="7"/>
<rect x="1558.6" y="681.2" width="2.4" height="7"/>
<rect x="1571.8" y="674.3" width="2.4" height="7"/>
<rect x="1585" y="667.4" width="2.4" height="7"/>
<rect x="1598.2" y="660.5" width="2.4" height="7"/>
<rect x="1611.4" y="653.6" width="2.4" height="7"/>
<rect x="1624.6" y="646.7" width="2.4" height="7"/>
<rect x="1637.8" y="639.8" width="2.4" height="7"/>
<rect x="1651" y="632.9" width="2.4" height="7"/>
<rect x="1664.2" y="626" width="2.4" height="7"/>
<rect x="1677.4" y="619.1" width="2.4" height="7"/>
<rect x="1690.6" y="612.2" width="2.4" height="7"/>
<rect x="1703.8" y="605.3" width="2.4" height="7"/>
<rect x="1717" y="598.4" width="2.4" height="7"/>
</g>
<g clip-path="url(#ct-c)" fill="#000064" opacity="0.8">
<rect x="1339.3" y="191.8" width="2.4" height="7"/>
<rect x="1352.6" y="184.8" width="2.4" height="7"/>
<rect x="1365.9" y="177.8" width="2.4" height="7"/>
<rect x="1379.2" y="170.8" width="2.4" height="7"/>
<rect x="1392.5" y="163.7" width="2.4" height="7"/>
<rect x="1405.8" y="156.7" width="2.4" height="7"/>
<rect x="1419.1" y="149.7" width="2.4" height="7"/>
<rect x="1432.4" y="142.7" width="2.4" height="7"/>
<rect x="1445.7" y="135.7" width="2.4" height="7"/>
<rect x="1459" y="128.7" width="2.4" height="7"/>
<rect x="1472.3" y="121.7" width="2.4" height="7"/>
<rect x="1485.6" y="114.7" width="2.4" height="7"/>
<rect x="1336.3" y="254.6" width="2.4" height="7"/>
<rect x="1349.6" y="247.6" width="2.4" height="7"/>
<rect x="1362.9" y="240.6" width="2.4" height="7"/>
<rect x="1376.2" y="233.6" width="2.4" height="7"/>
<rect x="1389.5" y="226.6" width="2.4" height="7"/>
<rect x="1402.8" y="219.6" width="2.4" height="7"/>
<rect x="1416.1" y="212.6" width="2.4" height="7"/>
<rect x="1429.4" y="205.5" width="2.4" height="7"/>
<rect x="1442.7" y="198.5" width="2.4" height="7"/>
<rect x="1456" y="191.5" width="2.4" height="7"/>
<rect x="1469.3" y="184.5" width="2.4" height="7"/>
<rect x="1482.6" y="177.5" width="2.4" height="7"/>
<rect x="1495.9" y="170.5" width="2.4" height="7"/>
</g>
<rect x="1619" y="91" width="15.2" height="495.1" fill="#000"/>
<rect x="1620.9" y="93.1" width="11.6" height="38" fill="#ff0000"/>
<rect x="1620.9" y="132.9" width="11.6" height="40.7" fill="#ff5000"/>
<rect x="1620.9" y="175.4" width="11.6" height="38.1" fill="#ffc800"/>
<rect x="1620.9" y="215.2" width="11.6" height="40" fill="#ffff00"/>
<rect x="1620.9" y="257" width="11.6" height="38" fill="#96ff00"/>
<rect x="1620.9" y="296.8" width="11.6" height="40.6" fill="#00ff00"/>
<rect x="1620.9" y="339.2" width="11.6" height="40.7" fill="#00f000"/>
<rect x="1620.9" y="381.6" width="11.6" height="38" fill="#00ff8c"/>
<rect x="1620.9" y="421.4" width="11.6" height="40.2" fill="#00ffff"/>
<rect x="1620.9" y="463.4" width="11.6" height="38" fill="#00dcff"/>
<rect x="1620.9" y="503.2" width="11.6" height="40.2" fill="#0050ff"/>
<rect x="1620.9" y="545.1" width="11.6" height="39.3" fill="#0000ff"/>
<rect x="1634.2" y="91.4" width="74.1" height="1.7" fill="#9c9c9c" opacity="0.93"/>
<rect x="1634.2" y="131.1" width="74.1" height="1.7" fill="#9c9c9c" opacity="0.93"/>
<rect x="1634.2" y="173.6" width="74.1" height="1.7" fill="#9c9c9c" opacity="0.93"/>
<rect x="1634.2" y="213.5" width="74.1" height="1.7" fill="#9c9c9c" opacity="0.93"/>
<rect x="1634.2" y="255.3" width="74.1" height="1.7" fill="#9c9c9c" opacity="0.93"/>
<rect x="1634.2" y="295" width="74.1" height="1.7" fill="#9c9c9c" opacity="0.93"/>
<rect x="1634.2" y="337.4" width="74.1" height="1.7" fill="#9c9c9c" opacity="0.93"/>
<rect x="1634.2" y="379.9" width="74.1" height="1.7" fill="#9c9c9c" opacity="0.93"/>
<rect x="1634.2" y="419.7" width="74.1" height="1.7" fill="#9c9c9c" opacity="0.93"/>
<rect x="1634.2" y="461.6" width="74.1" height="1.7" fill="#9c9c9c" opacity="0.93"/>
<rect x="1634.2" y="501.4" width="74.1" height="1.7" fill="#9c9c9c" opacity="0.93"/>
<rect x="1634.2" y="543.4" width="74.1" height="1.7" fill="#9c9c9c" opacity="0.93"/>
<rect x="1634.2" y="584.5" width="74.1" height="1.7" fill="#9c9c9c" opacity="0.93"/>
<g font-family="'Liberation Serif', 'Times New Roman', serif">
<text transform="translate(0 120.6) scale(0.830 1.004)" x="1994.9 2011.7 2031.9 2045.6" y="0" fill="#ff0000" stroke="#ff0000" stroke-width="0.7" font-size="31">1.2<tspan textLength="22.8" lengthAdjust="spacingAndGlyphs">%</tspan></text>
<text transform="translate(0 162.5) scale(0.830 1.004)" x="1994.9 2011.7 2031.7 2045.6" y="0" fill="#ff0000" stroke="#ff0000" stroke-width="0.7" font-size="31">1.8<tspan textLength="22.8" lengthAdjust="spacingAndGlyphs">%</tspan></text>
<text transform="translate(0 204.9) scale(0.830 1.004)" x="1994.9 2011.7 2031.6 2045.6" y="0" fill="#ff0000" stroke="#ff0000" stroke-width="0.7" font-size="31">1.4<tspan textLength="22.8" lengthAdjust="spacingAndGlyphs">%</tspan></text>
<text transform="translate(0 246.9) scale(0.830 1.004)" x="1994.9 2011.7 2031.6 2045.6" y="0" fill="#ff0000" stroke="#ff0000" stroke-width="0.7" font-size="31">1.3<tspan textLength="22.8" lengthAdjust="spacingAndGlyphs">%</tspan></text>
<text transform="translate(0 284.5) scale(0.830 1.004)" x="1993.9 2011.7 2033 2045.6" y="0" fill="#ff0000" stroke="#ff0000" stroke-width="0.7" font-size="31">2.1<tspan textLength="22.8" lengthAdjust="spacingAndGlyphs">%</tspan></text>
<text transform="translate(0 326.8) scale(0.830 1.004)" x="1994.9 2011.7 2031.7 2045.6" y="0" fill="#ff0000" stroke="#ff0000" stroke-width="0.7" font-size="31">1.8<tspan textLength="22.8" lengthAdjust="spacingAndGlyphs">%</tspan></text>
<text transform="translate(0 369.2) scale(0.830 1.004)" x="1993.9 2011.7 2031.6 2045.6" y="0" fill="#ff0000" stroke="#ff0000" stroke-width="0.7" font-size="31">2.3<tspan textLength="22.8" lengthAdjust="spacingAndGlyphs">%</tspan></text>
<text transform="translate(0 411.5) scale(0.830 1.004)" x="1993.5 2011.7 2033 2045.6" y="0" fill="#ff0000" stroke="#ff0000" stroke-width="0.7" font-size="31">3.1<tspan textLength="22.8" lengthAdjust="spacingAndGlyphs">%</tspan></text>
<text transform="translate(0 453.8) scale(0.830 1.004)" x="1993.5 2011.7 2031.6 2045.6" y="0" fill="#ff0000" stroke="#ff0000" stroke-width="0.7" font-size="31">3.3<tspan textLength="22.8" lengthAdjust="spacingAndGlyphs">%</tspan></text>
<text transform="translate(0 490.4) scale(0.830 1.004)" x="1993.5 2011.7 2031.4 2045.6" y="0" fill="#ff0000" stroke="#ff0000" stroke-width="0.7" font-size="31">3.5<tspan textLength="22.8" lengthAdjust="spacingAndGlyphs">%</tspan></text>
<text transform="translate(0 532.3) scale(0.830 1.004)" x="1993.5 2012.6 2030.7 2050.7 2064.6" y="0" fill="#ff0000" stroke="#ff0000" stroke-width="0.7" font-size="31">34.4<tspan textLength="22.8" lengthAdjust="spacingAndGlyphs">%</tspan></text>
<text transform="translate(0 575.1) scale(0.830 1.004)" x="1993.6 2012.6 2030.7 2050.7 2064.6" y="0" fill="#ff0000" stroke="#ff0000" stroke-width="0.7" font-size="31">43.8<tspan textLength="22.8" lengthAdjust="spacingAndGlyphs">%</tspan></text>
<text transform="translate(0 102.2) scale(0.830 1.004)" x="2063 2082.1 2100.1 2119.5 2138.8 2157.9 2177.3 2196.3 2215.3 2234.1 2253.2 2272.2 2291.2" y="0" fill="#000" stroke="#000" stroke-width="0.7" font-size="31"><tspan textLength="19" lengthAdjust="spacingAndGlyphs">+</tspan>8.75699<tspan textLength="18.5" lengthAdjust="spacingAndGlyphs">e</tspan><tspan textLength="19" lengthAdjust="spacingAndGlyphs">+</tspan>000</text>
<text transform="translate(0 141.7) scale(0.830 1.004)" x="2063 2082.1 2100.1 2120.1 2139.3 2158.1 2176.9 2196.2 2215.3 2234.1 2253.2 2272.2 2291.2" y="0" fill="#000" stroke="#000" stroke-width="0.7" font-size="31"><tspan textLength="19" lengthAdjust="spacingAndGlyphs">+</tspan>8.02468<tspan textLength="18.5" lengthAdjust="spacingAndGlyphs">e</tspan><tspan textLength="19" lengthAdjust="spacingAndGlyphs">+</tspan>000</text>
<text transform="translate(0 186.5) scale(0.830 1.004)" x="2063 2081.5 2100.1 2120.3 2139.3 2158.3 2177 2196.2 2215.3 2234.1 2253.2 2272.2 2291.2" y="0" fill="#000" stroke="#000" stroke-width="0.7" font-size="31"><tspan textLength="19" lengthAdjust="spacingAndGlyphs">+</tspan>7.29238<tspan textLength="18.5" lengthAdjust="spacingAndGlyphs">e</tspan><tspan textLength="19" lengthAdjust="spacingAndGlyphs">+</tspan>000</text>
<text transform="translate(0 224.4) scale(0.830 1.004)" x="2063 2081.9 2100.1 2119.8 2138.9 2158.1 2177.2 2195.6 2215.3 2234.1 2253.2 2272.2 2291.2" y="0" fill="#000" stroke="#000" stroke-width="0.7" font-size="31"><tspan textLength="19" lengthAdjust="spacingAndGlyphs">+</tspan>6.56007<tspan textLength="18.5" lengthAdjust="spacingAndGlyphs">e</tspan><tspan textLength="19" lengthAdjust="spacingAndGlyphs">+</tspan>000</text>
<text transform="translate(0 266) scale(0.830 1.004)" x="2063 2081.8 2100.1 2120.1 2139.3 2157.6 2176.6 2195.6 2215.3 2234.1 2253.2 2272.2 2291.2" y="0" fill="#000" stroke="#000" stroke-width="0.7" font-size="31"><tspan textLength="19" lengthAdjust="spacingAndGlyphs">+</tspan>5.82777<tspan textLength="18.5" lengthAdjust="spacingAndGlyphs">e</tspan><tspan textLength="19" lengthAdjust="spacingAndGlyphs">+</tspan>000</text>
<text transform="translate(0 308) scale(0.830 1.004)" x="2063 2081.8 2100.1 2120.1 2139.3 2157.8 2177.1 2196 2215.3 2234.1 2253.2 2272.2 2291.2" y="0" fill="#000" stroke="#000" stroke-width="0.7" font-size="31"><tspan textLength="19" lengthAdjust="spacingAndGlyphs">+</tspan>5.09546<tspan textLength="18.5" lengthAdjust="spacingAndGlyphs">e</tspan><tspan textLength="19" lengthAdjust="spacingAndGlyphs">+</tspan>000</text>
<text transform="translate(0 350.1) scale(0.830 1.004)" x="2063 2082 2100.1 2120 2138.9 2158 2178.4 2196 2215.3 2234.1 2253.2 2272.2 2291.2" y="0" fill="#000" stroke="#000" stroke-width="0.7" font-size="31"><tspan textLength="19" lengthAdjust="spacingAndGlyphs">+</tspan>4.36316<tspan textLength="18.5" lengthAdjust="spacingAndGlyphs">e</tspan><tspan textLength="19" lengthAdjust="spacingAndGlyphs">+</tspan>000</text>
<text transform="translate(0 392.8) scale(0.830 1.004)" x="2063 2082 2100.1 2119.9 2139 2158.1 2177.2 2196 2215.3 2234.1 2253.2 2272.2 2291.2" y="0" fill="#000" stroke="#000" stroke-width="0.7" font-size="31"><tspan textLength="19" lengthAdjust="spacingAndGlyphs">+</tspan>3.63086<tspan textLength="18.5" lengthAdjust="spacingAndGlyphs">e</tspan><tspan textLength="19" lengthAdjust="spacingAndGlyphs">+</tspan>000</text>
<text transform="translate(0 429.2) scale(0.830 1.004)" x="2063 2082.3 2100.1 2120.1 2139.3 2158.1 2176.9 2195.9 2215.3 2234.1 2253.2 2272.2 2291.2" y="0" fill="#000" stroke="#000" stroke-width="0.7" font-size="31"><tspan textLength="19" lengthAdjust="spacingAndGlyphs">+</tspan>2.89855<tspan textLength="18.5" lengthAdjust="spacingAndGlyphs">e</tspan><tspan textLength="19" lengthAdjust="spacingAndGlyphs">+</tspan>000</text>
<text transform="translate(0 471.5) scale(0.830 1.004)" x="2063 2082.3 2100.1 2121.4 2138.9 2157.9 2177.3 2195.9 2215.3 2234.1 2253.2 2272.2 2291.2" y="0" fill="#000" stroke="#000" stroke-width="0.7" font-size="31"><tspan textLength="19" lengthAdjust="spacingAndGlyphs">+</tspan>2.16625<tspan textLength="18.5" lengthAdjust="spacingAndGlyphs">e</tspan><tspan textLength="19" lengthAdjust="spacingAndGlyphs">+</tspan>000</text>
<text transform="translate(0 514) scale(0.830 1.004)" x="2063 2083.3 2100.1 2120.1 2139 2158 2177.3 2196.1 2215.3 2234.1 2253.2 2272.2 2291.2" y="0" fill="#000" stroke="#000" stroke-width="0.7" font-size="31"><tspan textLength="19" lengthAdjust="spacingAndGlyphs">+</tspan>1.43394<tspan textLength="18.5" lengthAdjust="spacingAndGlyphs">e</tspan><tspan textLength="19" lengthAdjust="spacingAndGlyphs">+</tspan>000</text>
<text transform="translate(0 555.9) scale(0.830 1.004)" x="2063 2081.5 2100.1 2120.1 2140.4 2157.9 2177 2196.3 2215.3 2233.9 2253.2 2272.2 2292.5" y="0" dy="0 0 0 0 0 0 0 0 0 -3 3 0 0" fill="#000" stroke="#000" stroke-width="0.7" font-size="31"><tspan textLength="19" lengthAdjust="spacingAndGlyphs">+</tspan>7.01639<tspan textLength="18.5" lengthAdjust="spacingAndGlyphs">e</tspan><tspan textLength="19.5" lengthAdjust="spacingAndGlyphs">-</tspan>001</text>
<text transform="translate(0 596.2) scale(0.830 1.004)" x="2062.8 2082 2100.1 2120.1 2138.9 2157.9 2176.9 2196 2215.3 2233.9 2253.2 2272.2 2291.4" y="0" dy="-3 3 0 0 0 0 0 0 0 -3 3 0 0" fill="#000" stroke="#000" stroke-width="0.7" font-size="31"><tspan textLength="19.5" lengthAdjust="spacingAndGlyphs">-</tspan>3.06653<tspan textLength="18.5" lengthAdjust="spacingAndGlyphs">e</tspan><tspan textLength="19.5" lengthAdjust="spacingAndGlyphs">-</tspan>002</text>
<text transform="translate(0 33.4) scale(0.780 1.004)" x="2078.2 2100.2 2117.9 2139 2159.3 2179.5 2199.5 2219.7 2238.3 2260.2 2279.4 2299.8" y="0" fill="#000" stroke="#000" stroke-width="0.8" font-size="27.6"><tspan textLength="18.1" lengthAdjust="spacingAndGlyphs">D</tspan><tspan textLength="14.4" lengthAdjust="spacingAndGlyphs">I</tspan><tspan textLength="19.4" lengthAdjust="spacingAndGlyphs">S</tspan><tspan textLength="18.1" lengthAdjust="spacingAndGlyphs">P</tspan><tspan textLength="18.6" lengthAdjust="spacingAndGlyphs">L</tspan><tspan textLength="17.6" lengthAdjust="spacingAndGlyphs">A</tspan>C<tspan textLength="18.8" lengthAdjust="spacingAndGlyphs">E</tspan><tspan textLength="21.4" lengthAdjust="spacingAndGlyphs">M</tspan><tspan textLength="18.8" lengthAdjust="spacingAndGlyphs">E</tspan>N<tspan textLength="19.8" lengthAdjust="spacingAndGlyphs">T</tspan></text>
<text transform="translate(0 62.3) scale(0.700 1.004)" x="2314.6 2338.2 2370.8 2386.4 2415.9 2427.6 2450.1" y="0" fill="#000" stroke="#000" stroke-width="0.8" font-size="27.6"><tspan textLength="22.1" lengthAdjust="spacingAndGlyphs">T</tspan>X , mm</text>
</g>
</g>
<g id="panel-d">
<clipPath id="ct-d"><polygon points="27.2,900.8 205.5,839.8 212.8,839.8 208.6,959.2"/></clipPath>
<polygon points="27.2,900.8 205.5,839.8 212.8,839.8 208.6,959.2 208.6,962.1 27.2,903.6" fill="#0000eb"/>
<polygon points="209.6,839.8 213.6,839.4 246.1,851.2 241.3,970.4 241.2,972.6 207.8,961.8 207.8,959.3" fill="#000086"/>
<polygon points="240.3,849.1 246.1,851.2 241.3,970.4 235.7,968.5" fill="#0000eb" opacity="0.85"/>
<polygon points="254.4,971.8 259.8,970 398.6,921.9 436,911.9 424.6,1232.8 242.6,1293.8 240.4,1293.8 252.2,972.8" fill="#0000eb"/>
<polygon points="398.6,922.5 398.6,902.6 436.2,911.9 435.8,918.4 418.7,921.4" fill="#000086"/>
<clipPath id="cr-d"><polygon points="254.4,971.8 259.8,970 398.6,921.9 436,911.9 424.6,1232.8 242.6,1293.8 240.4,1293.8 252.2,972.8"/></clipPath>
<path clip-path="url(#cr-d)" d="M238 1061C240.2 1061.1 244.4 1060.8 251.2 1061.8C258 1062.8 269.7 1064.6 278.6 1066.9C287.5 1069.2 295.2 1071.5 304.4 1075.5C313.5 1079.5 326.1 1086.6 333.5 1090.9C340.9 1095.2 342.4 1097.2 349 1101.2C355.6 1105.2 364.7 1111.8 373 1114.9C381.3 1118 389.5 1119.5 398.7 1120C407.9 1120.5 423.1 1118.5 428 1118.2L428 1400 L238 1400 Z" fill="#0040f2"/>
<clipPath id="cf-d"><polygon points="27.2,900.8 241.3,970.2 254.4,972.2 242.6,1293.8 235.7,1293.8 14.2,1220.7"/></clipPath>
<polygon points="27.2,900.8 241.3,970.2 254.4,972.2 242.6,1293.8 235.7,1293.8 14.2,1220.7" fill="#000080"/>
<g clip-path="url(#cf-d)">
<path d="M6 1120C7 1105 8.8 1052 12 1030C15.2 1008 20.4 998 25 988C29.6 978 33.4 976.3 39.4 969.8C45.4 963.3 52.1 953.2 60.7 949C69.3 944.8 80.9 944.9 91 944.8C101.1 944.7 111.3 946.1 121.4 948.5C131.5 950.9 141.9 955.2 151.7 959.2C161.5 963.2 172.7 968.6 180 972.7C187.3 976.8 190.5 979 195.8 983.8C201.1 988.5 207.1 995.3 211.7 1001.2C216.3 1007.1 220.6 1013.7 223.5 1019.4C226.4 1025.1 227.7 1030.2 229.1 1035.2C230.5 1040.2 230.3 1046.1 232 1049.5C233.7 1052.9 238.2 1054.5 239.4 1055.5L245.7 1061.3L262 1060L262 1400 L6 1400 Z" fill="#002680"/>
<path d="M226 1176.7L225.8 1193.9L225.4 1205.5L224.7 1214.8L223.9 1222.7L222.9 1229.5L221.6 1235.4L220.2 1240.7L218.5 1245.3L216.6 1249.4L214.4 1253L212 1256.1L209.4 1258.8L206.5 1261L203.3 1262.8L199.8 1264.2L195.9 1265.1L191.7 1265.6L187 1265.7L181.7 1265.3L175.7 1264.3L168.7 1262.7L160.1 1260.2L147.4 1256L116.7 1245.3L104.6 1240.7L95.8 1237L88.4 1233.4L81.9 1229.8L76.1 1226.2L70.9 1222.3L66.1 1218.3L61.7 1214.1L57.6 1209.7L53.9 1205L50.4 1200.1L47.3 1194.9L44.5 1189.4L41.9 1183.6L39.6 1177.5L37.6 1171L35.8 1164.1L34.3 1156.6L33 1148.6L32 1139.8L31.3 1129.8L30.8 1118.1L30.5 1102.1L30.5 1078.4L30.9 1066.5L31.7 1055.8L32.8 1045.8L34.3 1036.3L36.2 1027.5L38.4 1019.2L41 1011.3L44 1004.1L47.2 997.3L50.9 991.2L54.8 985.5L59 980.5L63.6 976L68.5 972.1L73.6 968.9L79 966.2L84.7 964.2L90.6 962.8L96.9 962.1L103.4 962L110.2 962.6L117.4 963.9L125.2 966L134.9 969.2L142.7 972.5L149.8 976L156.4 980L162.7 984.3L168.7 989.2L174.5 994.5L179.9 1000.2L185.1 1006.4L190 1013L194.6 1020L199 1027.4L203 1035.1L206.7 1043.3L210.2 1051.8L213.3 1060.6L216.1 1069.7L218.5 1079.2L220.6 1089L222.4 1099.1L223.8 1109.5L224.9 1120.4L225.6 1131.8L226 1144.4Z" fill="#00668c"/>
<path d="M217.5 1169.2L217.3 1184.8L216.9 1195.8L216.3 1204.6L215.5 1212.1L214.5 1218.6L213.2 1224.4L211.8 1229.5L210.2 1234.1L208.3 1238.2L206.2 1241.7L203.9 1244.9L201.4 1247.5L198.6 1249.8L195.5 1251.7L192.2 1253.1L188.5 1254.1L184.5 1254.8L180.1 1254.9L175.1 1254.7L169.6 1253.9L163.1 1252.5L155.2 1250.4L144 1246.8L119.3 1238.3L108.7 1234.3L100.7 1230.9L94 1227.6L88 1224.2L82.6 1220.7L77.7 1217.1L73.1 1213.2L68.9 1209.1L65.1 1204.8L61.5 1200.3L58.3 1195.5L55.3 1190.4L52.5 1185L50.1 1179.4L47.8 1173.4L45.9 1167.1L44.2 1160.4L42.7 1153.3L41.5 1145.6L40.5 1137.2L39.8 1127.9L39.3 1117L39 1102.7L39 1083.5L39.4 1073.1L40.1 1063.5L41.2 1054.5L42.6 1046L44.3 1037.9L46.4 1030.2L48.9 1023L51.6 1016.3L54.7 1010.1L58.1 1004.3L61.8 999L65.7 994.3L70 990.1L74.5 986.4L79.2 983.3L84.2 980.7L89.5 978.7L94.9 977.3L100.6 976.5L106.5 976.3L112.7 976.7L119.1 977.7L126 979.5L134.1 982.1L141 984.9L147.3 988L153.3 991.6L159 995.6L164.4 1000L169.7 1004.9L174.7 1010.1L179.4 1015.8L184 1021.9L188.3 1028.4L192.3 1035.2L196 1042.4L199.5 1049.9L202.7 1057.8L205.6 1065.9L208.2 1074.3L210.5 1083L212.5 1092L214.1 1101.2L215.5 1110.7L216.5 1120.5L217.1 1130.7L217.5 1141.7Z" fill="#008080"/>
<path d="M208.5 1161.9L208.3 1175.9L207.9 1185.9L207.3 1194.2L206.5 1201.3L205.6 1207.5L204.4 1213.1L203 1218.1L201.5 1222.6L199.7 1226.5L197.7 1230.1L195.5 1233.2L193.1 1235.9L190.4 1238.2L187.5 1240.1L184.4 1241.6L180.9 1242.7L177.2 1243.5L173.1 1243.8L168.5 1243.6L163.4 1243.1L157.6 1241.9L150.6 1240.1L141 1237.2L121.6 1230.6L112.6 1227.3L105.5 1224.2L99.5 1221.2L94.1 1218.1L89.1 1214.8L84.5 1211.3L80.3 1207.6L76.4 1203.6L72.8 1199.5L69.5 1195.1L66.4 1190.4L63.5 1185.5L60.9 1180.4L58.6 1174.9L56.5 1169.2L54.6 1163.1L52.9 1156.7L51.5 1149.9L50.4 1142.6L49.4 1134.7L48.7 1126.1L48.3 1116.1L48 1103.5L48 1088.4L48.4 1079.2L49 1070.7L50 1062.5L51.3 1054.7L53 1047.2L54.9 1040.2L57.1 1033.5L59.7 1027.2L62.5 1021.4L65.6 1015.9L69 1010.9L72.7 1006.4L76.6 1002.4L80.7 998.9L85 995.8L89.6 993.3L94.3 991.3L99.3 989.9L104.4 988.9L109.7 988.6L115.1 988.8L120.8 989.6L126.7 990.9L133.4 993L139.3 995.4L144.8 998.2L150.1 1001.3L155.2 1005L160.1 1009L164.8 1013.4L169.3 1018.3L173.6 1023.6L177.8 1029.2L181.7 1035.2L185.3 1041.5L188.8 1048.2L192 1055.2L194.9 1062.5L197.5 1070L199.9 1077.8L202 1085.8L203.9 1094.1L205.4 1102.5L206.6 1111.2L207.5 1120.1L208.2 1129.2L208.5 1138.9Z" fill="#00804a"/>
<path d="M202.5 1156.1L202.3 1168.4L201.9 1177.6L201.3 1185.2L200.5 1191.9L199.6 1197.9L198.4 1203.3L197 1208.1L195.5 1212.4L193.7 1216.3L191.8 1219.8L189.6 1222.9L187.2 1225.6L184.6 1227.9L181.8 1229.8L178.7 1231.4L175.4 1232.6L171.8 1233.4L167.9 1233.8L163.6 1233.8L158.8 1233.3L153.4 1232.4L147.1 1230.8L138.6 1228.3L123.5 1223.3L115.7 1220.4L109.5 1217.7L104 1214.9L99 1212L94.4 1208.8L90.1 1205.5L86.2 1201.9L82.5 1198.1L79 1194L75.8 1189.7L72.8 1185.2L70.1 1180.4L67.6 1175.4L65.3 1170.1L63.3 1164.6L61.4 1158.7L59.8 1152.6L58.5 1146.1L57.3 1139.2L56.4 1131.9L55.7 1123.9L55.3 1114.9L55 1103.9L55 1092.3L55.4 1084.3L56 1076.6L56.9 1069.2L58.1 1062L59.7 1055.2L61.5 1048.6L63.6 1042.4L66 1036.5L68.7 1031L71.6 1025.9L74.7 1021.2L78.1 1016.9L81.8 1013L85.6 1009.6L89.6 1006.7L93.8 1004.2L98.2 1002.3L102.7 1000.8L107.4 999.8L112.2 999.3L117.1 999.4L122.1 999.9L127.3 1001L132.8 1002.7L138 1004.8L143 1007.3L147.8 1010.2L152.5 1013.5L157 1017.2L161.4 1021.4L165.6 1025.9L169.6 1030.8L173.5 1036.1L177.1 1041.7L180.6 1047.6L183.8 1053.9L186.8 1060.4L189.6 1067.2L192.1 1074.2L194.4 1081.5L196.4 1088.9L198.1 1096.5L199.5 1104.3L200.7 1112.2L201.6 1120.3L202.2 1128.5L202.5 1137.1Z" fill="#008000"/>
<path d="M188.5 1147.1L188.3 1156.5L188 1163.9L187.5 1170.2L186.8 1175.7L185.9 1180.8L184.9 1185.3L183.7 1189.5L182.4 1193.2L180.8 1196.6L179.1 1199.7L177.3 1202.4L175.2 1204.8L173 1206.9L170.6 1208.6L167.9 1210.1L165.1 1211.2L162.1 1212L158.8 1212.4L155.3 1212.6L151.4 1212.3L147.1 1211.7L142.1 1210.6L135.8 1208.7L125.6 1205.4L119.8 1203.3L114.9 1201.1L110.5 1198.8L106.4 1196.3L102.7 1193.7L99.1 1190.8L95.8 1187.7L92.7 1184.4L89.7 1180.9L87 1177.2L84.5 1173.3L82.1 1169.2L80 1164.8L78 1160.3L76.2 1155.5L74.6 1150.5L73.2 1145.3L72 1139.8L71 1134.1L70.2 1128L69.6 1121.5L69.2 1114.4L69 1106L69 1098.4L69.3 1092.3L69.8 1086.2L70.6 1080.3L71.6 1074.6L72.9 1069.1L74.4 1063.8L76.2 1058.7L78.2 1053.9L80.4 1049.4L82.8 1045.1L85.5 1041.2L88.3 1037.6L91.3 1034.4L94.5 1031.6L97.8 1029.1L101.2 1027L104.8 1025.3L108.5 1024L112.3 1023.1L116.1 1022.6L120.1 1022.5L124 1022.9L128 1023.7L132.1 1024.9L136.1 1026.4L140 1028.4L143.8 1030.7L147.5 1033.4L151.1 1036.4L154.7 1039.8L158.1 1043.5L161.4 1047.5L164.5 1051.8L167.5 1056.4L170.4 1061.3L173 1066.4L175.5 1071.8L177.8 1077.4L179.9 1083.1L181.8 1089L183.4 1095.1L184.8 1101.2L186 1107.5L187 1113.9L187.7 1120.3L188.2 1126.8L188.5 1133.4Z" fill="#4a8000"/>
<path d="M182 1142.3L181.8 1150L181.5 1156.3L181 1161.9L180.3 1166.9L179.5 1171.5L178.5 1175.7L177.4 1179.6L176 1183.2L174.6 1186.4L172.9 1189.3L171.1 1192L169.2 1194.3L167.1 1196.4L164.8 1198.1L162.3 1199.6L159.7 1200.7L156.9 1201.6L153.9 1202.1L150.7 1202.4L147.3 1202.3L143.5 1201.8L139.2 1201L134.1 1199.6L126.9 1197.3L122.3 1195.5L118.2 1193.7L114.4 1191.6L110.9 1189.4L107.6 1186.9L104.4 1184.2L101.4 1181.4L98.6 1178.2L95.9 1174.9L93.4 1171.4L91 1167.7L88.8 1163.8L86.8 1159.7L85 1155.4L83.3 1150.9L81.8 1146.2L80.5 1141.4L79.4 1136.4L78.4 1131.2L77.7 1125.7L77.1 1120L76.7 1113.9L76.5 1107L76.5 1101.8L76.8 1096.6L77.2 1091.3L77.9 1086.1L78.9 1081L80 1076L81.4 1071.2L83 1066.6L84.8 1062.2L86.8 1058L89 1054.1L91.3 1050.5L93.9 1047.1L96.6 1044.1L99.4 1041.4L102.3 1039L105.4 1037L108.5 1035.3L111.8 1034L115.1 1033.1L118.4 1032.5L121.8 1032.4L125.1 1032.5L128.4 1033.1L131.7 1034L135 1035.3L138.4 1037L141.7 1039.1L145 1041.5L148.2 1044.2L151.3 1047.3L154.4 1050.6L157.3 1054.3L160.2 1058.3L162.9 1062.5L165.5 1066.9L167.9 1071.6L170.1 1076.5L172.2 1081.6L174.1 1086.8L175.8 1092.2L177.3 1097.6L178.6 1103.2L179.7 1108.8L180.6 1114.5L181.3 1120.2L181.7 1125.9L182 1131.5Z" fill="#808000"/>
<path d="M175.1 1137.6L174.9 1143.5L174.6 1148.6L174.1 1153.2L173.5 1157.5L172.7 1161.4L171.8 1165.1L170.7 1168.6L169.4 1171.7L168 1174.7L166.5 1177.3L164.8 1179.8L163 1181.9L161 1183.9L158.9 1185.5L156.6 1186.9L154.3 1188L151.7 1188.9L149.1 1189.5L146.3 1189.8L143.3 1189.8L140.1 1189.5L136.6 1188.9L132.7 1187.9L128 1186.4L124.5 1185.1L121.3 1183.6L118.3 1181.8L115.3 1179.9L112.5 1177.7L109.8 1175.3L107.2 1172.7L104.7 1169.9L102.3 1166.9L100.1 1163.7L98 1160.3L96.1 1156.7L94.2 1153L92.6 1149.2L91 1145.2L89.7 1141L88.5 1136.8L87.4 1132.4L86.6 1127.9L85.9 1123.3L85.3 1118.5L85 1113.6L84.8 1108.4L84.8 1105.3L85 1101.1L85.4 1096.8L86.1 1092.5L86.9 1088.3L87.9 1084.1L89.1 1080L90.5 1076L92 1072.3L93.8 1068.7L95.7 1065.3L97.7 1062.1L99.9 1059.2L102.2 1056.5L104.6 1054.1L107.1 1052L109.7 1050.2L112.4 1048.7L115.1 1047.5L117.9 1046.7L120.7 1046.1L123.5 1045.9L126.2 1045.9L128.8 1046.3L131.3 1047L134 1048.1L136.8 1049.5L139.7 1051.2L142.5 1053.3L145.3 1055.6L148 1058.2L150.6 1061.1L153.2 1064.3L155.7 1067.7L158.1 1071.4L160.4 1075.2L162.5 1079.3L164.5 1083.5L166.4 1087.8L168.1 1092.3L169.6 1096.9L170.9 1101.6L172.1 1106.3L173.1 1111.1L173.9 1115.8L174.5 1120.6L174.9 1125.2L175.1 1129.7Z" fill="#806400"/>
<path d="M167.6 1133.4L167.4 1137.5L167.1 1141.3L166.7 1144.9L166.1 1148.3L165.4 1151.6L164.5 1154.6L163.5 1157.5L162.3 1160.3L161 1162.8L159.6 1165.1L158.1 1167.3L156.4 1169.2L154.7 1171L152.8 1172.5L150.8 1173.8L148.8 1174.8L146.6 1175.7L144.3 1176.3L142 1176.6L139.5 1176.8L137 1176.7L134.4 1176.3L131.6 1175.7L128.8 1174.8L126.4 1173.8L124.1 1172.6L121.7 1171.2L119.4 1169.6L117.2 1167.7L115 1165.6L112.8 1163.4L110.8 1160.9L108.8 1158.3L106.9 1155.5L105.1 1152.5L103.4 1149.4L101.9 1146.2L100.4 1142.9L99.1 1139.4L97.9 1135.9L96.8 1132.3L95.9 1128.7L95.2 1125L94.6 1121.3L94.1 1117.6L93.8 1113.9L93.6 1110.2L93.6 1108.6L93.8 1105.4L94.1 1102L94.6 1098.5L95.3 1095L96.2 1091.6L97.2 1088.2L98.3 1084.9L99.6 1081.8L101 1078.7L102.6 1075.8L104.3 1073.2L106.1 1070.6L108 1068.4L110 1066.3L112 1064.5L114.1 1062.9L116.3 1061.5L118.5 1060.4L120.7 1059.6L122.9 1059.1L125.1 1058.8L127.2 1058.8L129.2 1059L131 1059.5L133.1 1060.3L135.4 1061.5L137.7 1062.9L140 1064.6L142.3 1066.5L144.5 1068.7L146.8 1071.2L148.9 1073.9L151 1076.7L153.1 1079.8L155 1083L156.8 1086.4L158.5 1090L160.1 1093.6L161.5 1097.4L162.9 1101.2L164 1105.1L165 1109L165.9 1112.9L166.5 1116.8L167.1 1120.6L167.4 1124.3L167.6 1127.8Z" fill="#802800"/>
<path d="M156.3 1128.5L156.2 1130.8L155.9 1133.1L155.6 1135.4L155.1 1137.7L154.5 1139.9L153.8 1142.1L153 1144.2L152.1 1146.2L151.1 1148L150.1 1149.8L148.9 1151.4L147.6 1152.9L146.3 1154.3L144.9 1155.5L143.4 1156.5L141.9 1157.4L140.4 1158.1L138.8 1158.7L137.2 1159.1L135.5 1159.3L133.9 1159.3L132.3 1159.2L130.7 1158.9L129.4 1158.5L128.1 1157.9L126.7 1157.1L125.2 1156.1L123.7 1154.9L122.2 1153.6L120.6 1152L119.2 1150.3L117.7 1148.5L116.3 1146.5L114.9 1144.4L113.6 1142.2L112.4 1139.9L111.2 1137.5L110.1 1135L109.2 1132.5L108.3 1130L107.5 1127.4L106.8 1124.8L106.2 1122.3L105.7 1119.8L105.4 1117.3L105.1 1115L105 1112.9L105 1112.5L105.1 1110.5L105.4 1108.4L105.7 1106.2L106.2 1104L106.8 1101.8L107.5 1099.6L108.3 1097.5L109.3 1095.4L110.3 1093.4L111.4 1091.5L112.6 1089.8L113.8 1088.1L115.1 1086.6L116.5 1085.2L117.9 1084L119.4 1082.9L120.9 1082L122.4 1081.3L123.9 1080.7L125.4 1080.3L126.9 1080.1L128.2 1080.1L129.5 1080.2L130.6 1080.5L132 1081L133.5 1081.8L135.1 1082.7L136.7 1083.8L138.3 1085.1L139.8 1086.6L141.4 1088.3L142.9 1090L144.4 1092L145.9 1094L147.2 1096.2L148.5 1098.4L149.8 1100.8L150.9 1103.2L151.9 1105.7L152.9 1108.2L153.7 1110.8L154.4 1113.3L155 1115.8L155.5 1118.3L155.9 1120.8L156.2 1123.1L156.3 1125.2Z" fill="#800000"/>
</g>
<clipPath id="ce-d"><polygon points="248.9,974.6 252.9,974.6 239.9,1293.1 235.9,1293.1"/></clipPath>
<g clip-path="url(#ce-d)">
<line x1="250.9" y1="974.6" x2="237.9" y2="1293.1" stroke="#0a12d8" stroke-width="2.4"/>
<path d="M238 1061C240.2 1061.1 244.4 1060.8 251.2 1061.8C258 1062.8 269.7 1064.6 278.6 1066.9C287.5 1069.2 295.2 1071.5 304.4 1075.5C313.5 1079.5 326.1 1086.6 333.5 1090.9C340.9 1095.2 342.4 1097.2 349 1101.2C355.6 1105.2 364.7 1111.8 373 1114.9C381.3 1118 389.5 1119.5 398.7 1120C407.9 1120.5 423.1 1118.5 428 1118.2L428 1400 L238 1400 Z" fill="#0a44e6" transform="translate(-12 2)"/>
</g>
<g clip-path="url(#cr-d)" fill="#000064" opacity="0.8">
<rect x="215" y="976.9" width="2.4" height="7"/>
<rect x="228.1" y="970.1" width="2.4" height="7"/>
<rect x="241.2" y="963.3" width="2.4" height="7"/>
<rect x="254.3" y="956.5" width="2.4" height="7"/>
<rect x="267.4" y="949.6" width="2.4" height="7"/>
<rect x="280.5" y="942.8" width="2.4" height="7"/>
<rect x="293.7" y="936" width="2.4" height="7"/>
<rect x="306.8" y="929.2" width="2.4" height="7"/>
<rect x="319.9" y="922.3" width="2.4" height="7"/>
<rect x="333" y="915.5" width="2.4" height="7"/>
<rect x="346.1" y="908.7" width="2.4" height="7"/>
<rect x="359.2" y="901.9" width="2.4" height="7"/>
<rect x="372.3" y="895.1" width="2.4" height="7"/>
<rect x="385.4" y="888.2" width="2.4" height="7"/>
<rect x="398.5" y="881.4" width="2.4" height="7"/>
<rect x="411.7" y="874.6" width="2.4" height="7"/>
<rect x="424.8" y="867.8" width="2.4" height="7"/>
<rect x="437.9" y="860.9" width="2.4" height="7"/>
<rect x="212.4" y="1037.5" width="2.4" height="7"/>
<rect x="225.5" y="1030.7" width="2.4" height="7"/>
<rect x="238.6" y="1023.9" width="2.4" height="7"/>
<rect x="251.7" y="1017.1" width="2.4" height="7"/>
<rect x="264.9" y="1010.3" width="2.4" height="7"/>
<rect x="278" y="1003.4" width="2.4" height="7"/>
<rect x="291.1" y="996.6" width="2.4" height="7"/>
<rect x="304.2" y="989.8" width="2.4" height="7"/>
<rect x="317.3" y="983" width="2.4" height="7"/>
<rect x="330.4" y="976.1" width="2.4" height="7"/>
<rect x="343.5" y="969.3" width="2.4" height="7"/>
<rect x="356.6" y="962.5" width="2.4" height="7"/>
<rect x="369.7" y="955.7" width="2.4" height="7"/>
<rect x="382.9" y="948.9" width="2.4" height="7"/>
<rect x="396" y="942" width="2.4" height="7"/>
<rect x="409.1" y="935.2" width="2.4" height="7"/>
<rect x="422.2" y="928.4" width="2.4" height="7"/>
<rect x="435.3" y="921.6" width="2.4" height="7"/>
<rect x="222.9" y="1091.4" width="2.4" height="7"/>
<rect x="236" y="1084.5" width="2.4" height="7"/>
<rect x="249.2" y="1077.7" width="2.4" height="7"/>
<rect x="262.3" y="1070.9" width="2.4" height="7"/>
<rect x="275.4" y="1064.1" width="2.4" height="7"/>
<rect x="288.5" y="1057.2" width="2.4" height="7"/>
<rect x="301.6" y="1050.4" width="2.4" height="7"/>
<rect x="314.7" y="1043.6" width="2.4" height="7"/>
<rect x="327.8" y="1036.8" width="2.4" height="7"/>
<rect x="340.9" y="1030" width="2.4" height="7"/>
<rect x="354" y="1023.1" width="2.4" height="7"/>
<rect x="367.2" y="1016.3" width="2.4" height="7"/>
<rect x="380.3" y="1009.5" width="2.4" height="7"/>
<rect x="393.4" y="1002.7" width="2.4" height="7"/>
<rect x="406.5" y="995.8" width="2.4" height="7"/>
<rect x="419.6" y="989" width="2.4" height="7"/>
<rect x="432.7" y="982.2" width="2.4" height="7"/>
<rect x="220.4" y="1152" width="2.4" height="7"/>
<rect x="233.5" y="1145.2" width="2.4" height="7"/>
<rect x="246.6" y="1138.3" width="2.4" height="7"/>
<rect x="259.7" y="1131.5" width="2.4" height="7"/>
<rect x="272.8" y="1124.7" width="2.4" height="7"/>
<rect x="285.9" y="1117.9" width="2.4" height="7"/>
<rect x="299" y="1111.1" width="2.4" height="7"/>
<rect x="312.1" y="1104.2" width="2.4" height="7"/>
<rect x="325.2" y="1097.4" width="2.4" height="7"/>
<rect x="338.4" y="1090.6" width="2.4" height="7"/>
<rect x="351.5" y="1083.8" width="2.4" height="7"/>
<rect x="364.6" y="1076.9" width="2.4" height="7"/>
<rect x="377.7" y="1070.1" width="2.4" height="7"/>
<rect x="390.8" y="1063.3" width="2.4" height="7"/>
<rect x="403.9" y="1056.5" width="2.4" height="7"/>
<rect x="417" y="1049.7" width="2.4" height="7"/>
<rect x="430.1" y="1042.8" width="2.4" height="7"/>
<rect x="217.8" y="1212.6" width="2.4" height="7"/>
<rect x="230.9" y="1205.8" width="2.4" height="7"/>
<rect x="244" y="1199" width="2.4" height="7"/>
<rect x="257.1" y="1192.2" width="2.4" height="7"/>
<rect x="270.2" y="1185.3" width="2.4" height="7"/>
<rect x="283.3" y="1178.5" width="2.4" height="7"/>
<rect x="296.4" y="1171.7" width="2.4" height="7"/>
<rect x="309.6" y="1164.9" width="2.4" height="7"/>
<rect x="322.7" y="1158" width="2.4" height="7"/>
<rect x="335.8" y="1151.2" width="2.4" height="7"/>
<rect x="348.9" y="1144.4" width="2.4" height="7"/>
<rect x="362" y="1137.6" width="2.4" height="7"/>
<rect x="375.1" y="1130.8" width="2.4" height="7"/>
<rect x="388.2" y="1123.9" width="2.4" height="7"/>
<rect x="401.3" y="1117.1" width="2.4" height="7"/>
<rect x="414.4" y="1110.3" width="2.4" height="7"/>
<rect x="427.6" y="1103.5" width="2.4" height="7"/>
<rect x="215.2" y="1273.2" width="2.4" height="7"/>
<rect x="228.3" y="1266.4" width="2.4" height="7"/>
<rect x="241.4" y="1259.6" width="2.4" height="7"/>
<rect x="254.5" y="1252.8" width="2.4" height="7"/>
<rect x="267.6" y="1246" width="2.4" height="7"/>
<rect x="280.7" y="1239.1" width="2.4" height="7"/>
<rect x="293.9" y="1232.3" width="2.4" height="7"/>
<rect x="307" y="1225.5" width="2.4" height="7"/>
<rect x="320.1" y="1218.7" width="2.4" height="7"/>
<rect x="333.2" y="1211.8" width="2.4" height="7"/>
<rect x="346.3" y="1205" width="2.4" height="7"/>
<rect x="359.4" y="1198.2" width="2.4" height="7"/>
<rect x="372.5" y="1191.4" width="2.4" height="7"/>
<rect x="385.6" y="1184.6" width="2.4" height="7"/>
<rect x="398.7" y="1177.7" width="2.4" height="7"/>
<rect x="411.9" y="1170.9" width="2.4" height="7"/>
<rect x="425" y="1164.1" width="2.4" height="7"/>
<rect x="438.1" y="1157.3" width="2.4" height="7"/>
<rect x="212.6" y="1333.9" width="2.4" height="7"/>
<rect x="225.7" y="1327.1" width="2.4" height="7"/>
<rect x="238.8" y="1320.2" width="2.4" height="7"/>
<rect x="251.9" y="1313.4" width="2.4" height="7"/>
<rect x="265.1" y="1306.6" width="2.4" height="7"/>
<rect x="278.2" y="1299.8" width="2.4" height="7"/>
<rect x="291.3" y="1292.9" width="2.4" height="7"/>
<rect x="304.4" y="1286.1" width="2.4" height="7"/>
<rect x="317.5" y="1279.3" width="2.4" height="7"/>
<rect x="330.6" y="1272.5" width="2.4" height="7"/>
<rect x="343.7" y="1265.7" width="2.4" height="7"/>
<rect x="356.8" y="1258.8" width="2.4" height="7"/>
<rect x="369.9" y="1252" width="2.4" height="7"/>
<rect x="383.1" y="1245.2" width="2.4" height="7"/>
<rect x="396.2" y="1238.4" width="2.4" height="7"/>
<rect x="409.3" y="1231.5" width="2.4" height="7"/>
<rect x="422.4" y="1224.7" width="2.4" height="7"/>
<rect x="435.5" y="1217.9" width="2.4" height="7"/>
<rect x="223.1" y="1387.7" width="2.4" height="7"/>
<rect x="236.2" y="1380.9" width="2.4" height="7"/>
<rect x="249.4" y="1374" width="2.4" height="7"/>
<rect x="262.5" y="1367.2" width="2.4" height="7"/>
<rect x="275.6" y="1360.4" width="2.4" height="7"/>
<rect x="288.7" y="1353.6" width="2.4" height="7"/>
<rect x="301.8" y="1346.8" width="2.4" height="7"/>
<rect x="314.9" y="1339.9" width="2.4" height="7"/>
<rect x="328" y="1333.1" width="2.4" height="7"/>
<rect x="341.1" y="1326.3" width="2.4" height="7"/>
<rect x="354.2" y="1319.5" width="2.4" height="7"/>
<rect x="367.4" y="1312.6" width="2.4" height="7"/>
<rect x="380.5" y="1305.8" width="2.4" height="7"/>
<rect x="393.6" y="1299" width="2.4" height="7"/>
<rect x="406.7" y="1292.2" width="2.4" height="7"/>
<rect x="419.8" y="1285.4" width="2.4" height="7"/>
<rect x="432.9" y="1278.5" width="2.4" height="7"/>
<rect x="220.6" y="1448.3" width="2.4" height="7"/>
<rect x="233.7" y="1441.5" width="2.4" height="7"/>
<rect x="246.8" y="1434.7" width="2.4" height="7"/>
<rect x="259.9" y="1427.8" width="2.4" height="7"/>
<rect x="273" y="1421" width="2.4" height="7"/>
<rect x="286.1" y="1414.2" width="2.4" height="7"/>
<rect x="299.2" y="1407.4" width="2.4" height="7"/>
<rect x="312.3" y="1400.6" width="2.4" height="7"/>
<rect x="325.4" y="1393.7" width="2.4" height="7"/>
<rect x="338.6" y="1386.9" width="2.4" height="7"/>
<rect x="351.7" y="1380.1" width="2.4" height="7"/>
<rect x="364.8" y="1373.3" width="2.4" height="7"/>
<rect x="377.9" y="1366.4" width="2.4" height="7"/>
<rect x="391" y="1359.6" width="2.4" height="7"/>
<rect x="404.1" y="1352.8" width="2.4" height="7"/>
<rect x="417.2" y="1346" width="2.4" height="7"/>
<rect x="430.3" y="1339.2" width="2.4" height="7"/>
</g>
<g clip-path="url(#ct-d)" fill="#000064" opacity="0.8">
<rect x="55.2" y="936.7" width="2.4" height="7"/>
<rect x="68.4" y="929.8" width="2.4" height="7"/>
<rect x="81.6" y="922.8" width="2.4" height="7"/>
<rect x="94.8" y="915.9" width="2.4" height="7"/>
<rect x="108" y="909" width="2.4" height="7"/>
<rect x="121.2" y="902" width="2.4" height="7"/>
<rect x="134.4" y="895.1" width="2.4" height="7"/>
<rect x="147.6" y="888.1" width="2.4" height="7"/>
<rect x="160.9" y="881.2" width="2.4" height="7"/>
<rect x="174.1" y="874.3" width="2.4" height="7"/>
<rect x="187.3" y="867.3" width="2.4" height="7"/>
<rect x="200.5" y="860.4" width="2.4" height="7"/>
<rect x="52.2" y="998.9" width="2.4" height="7"/>
<rect x="65.4" y="992" width="2.4" height="7"/>
<rect x="78.6" y="985" width="2.4" height="7"/>
<rect x="91.8" y="978.1" width="2.4" height="7"/>
<rect x="105" y="971.2" width="2.4" height="7"/>
<rect x="118.2" y="964.2" width="2.4" height="7"/>
<rect x="131.5" y="957.3" width="2.4" height="7"/>
<rect x="144.7" y="950.3" width="2.4" height="7"/>
<rect x="157.9" y="943.4" width="2.4" height="7"/>
<rect x="171.1" y="936.5" width="2.4" height="7"/>
<rect x="184.3" y="929.5" width="2.4" height="7"/>
<rect x="197.5" y="922.6" width="2.4" height="7"/>
<rect x="210.7" y="915.6" width="2.4" height="7"/>
</g>
<rect x="333" y="837" width="15.1" height="490" fill="#000"/>
<rect x="334.9" y="839.1" width="11.5" height="37.6" fill="#ff0000"/>
<rect x="334.9" y="878.5" width="11.5" height="40.2" fill="#ff5000"/>
<rect x="334.9" y="920.5" width="11.5" height="37.7" fill="#ffc800"/>
<rect x="334.9" y="960" width="11.5" height="39.5" fill="#ffff00"/>
<rect x="334.9" y="1001.3" width="11.5" height="37.6" fill="#96ff00"/>
<rect x="334.9" y="1040.7" width="11.5" height="40.1" fill="#00ff00"/>
<rect x="334.9" y="1082.6" width="11.5" height="40.2" fill="#00f000"/>
<rect x="334.9" y="1124.6" width="11.5" height="37.6" fill="#00ff8c"/>
<rect x="334.9" y="1164" width="11.5" height="39.7" fill="#00ffff"/>
<rect x="334.9" y="1205.6" width="11.5" height="37.6" fill="#00dcff"/>
<rect x="334.9" y="1244.9" width="11.5" height="39.7" fill="#0050ff"/>
<rect x="334.9" y="1286.5" width="11.5" height="38.9" fill="#0000ff"/>
<rect x="348.1" y="837.4" width="73.6" height="1.7" fill="#9c9c9c" opacity="0.93"/>
<rect x="348.1" y="876.7" width="73.6" height="1.7" fill="#9c9c9c" opacity="0.93"/>
<rect x="348.1" y="918.8" width="73.6" height="1.7" fill="#9c9c9c" opacity="0.93"/>
<rect x="348.1" y="958.2" width="73.6" height="1.7" fill="#9c9c9c" opacity="0.93"/>
<rect x="348.1" y="999.6" width="73.6" height="1.7" fill="#9c9c9c" opacity="0.93"/>
<rect x="348.1" y="1038.9" width="73.6" height="1.7" fill="#9c9c9c" opacity="0.93"/>
<rect x="348.1" y="1080.9" width="73.6" height="1.7" fill="#9c9c9c" opacity="0.93"/>
<rect x="348.1" y="1122.9" width="73.6" height="1.7" fill="#9c9c9c" opacity="0.93"/>
<rect x="348.1" y="1162.3" width="73.6" height="1.7" fill="#9c9c9c" opacity="0.93"/>
<rect x="348.1" y="1203.8" width="73.6" height="1.7" fill="#9c9c9c" opacity="0.93"/>
<rect x="348.1" y="1243.2" width="73.6" height="1.7" fill="#9c9c9c" opacity="0.93"/>
<rect x="348.1" y="1284.7" width="73.6" height="1.7" fill="#9c9c9c" opacity="0.93"/>
<rect x="348.1" y="1325.4" width="73.6" height="1.7" fill="#9c9c9c" opacity="0.93"/>
<g font-family="'Liberation Serif', 'Times New Roman', serif">
<text transform="translate(0 866.3) scale(0.824 0.994)" x="448.2 465 484.4 498.9" y="0" fill="#ff0000" stroke="#ff0000" stroke-width="0.7" font-size="31">1.7<tspan textLength="22.8" lengthAdjust="spacingAndGlyphs">%</tspan></text>
<text transform="translate(0 907.8) scale(0.824 0.994)" x="448.2 465 484.4 498.9" y="0" fill="#ff0000" stroke="#ff0000" stroke-width="0.7" font-size="31">1.7<tspan textLength="22.8" lengthAdjust="spacingAndGlyphs">%</tspan></text>
<text transform="translate(0 949.7) scale(0.824 0.994)" x="447.2 465 485.2 498.9" y="0" fill="#ff0000" stroke="#ff0000" stroke-width="0.7" font-size="31">2.2<tspan textLength="22.8" lengthAdjust="spacingAndGlyphs">%</tspan></text>
<text transform="translate(0 991.3) scale(0.824 0.994)" x="448.2 465 485 498.9" y="0" fill="#ff0000" stroke="#ff0000" stroke-width="0.7" font-size="31">1.0<tspan textLength="22.8" lengthAdjust="spacingAndGlyphs">%</tspan></text>
<text transform="translate(0 1028.5) scale(0.824 0.994)" x="447.2 465 486.3 498.9" y="0" fill="#ff0000" stroke="#ff0000" stroke-width="0.7" font-size="31">2.1<tspan textLength="22.8" lengthAdjust="spacingAndGlyphs">%</tspan></text>
<text transform="translate(0 1070.4) scale(0.824 0.994)" x="447.2 465 485 498.9" y="0" fill="#ff0000" stroke="#ff0000" stroke-width="0.7" font-size="31">2.0<tspan textLength="22.8" lengthAdjust="spacingAndGlyphs">%</tspan></text>
<text transform="translate(0 1112.3) scale(0.824 0.994)" x="447.2 465 484.4 498.9" y="0" fill="#ff0000" stroke="#ff0000" stroke-width="0.7" font-size="31">2.7<tspan textLength="22.8" lengthAdjust="spacingAndGlyphs">%</tspan></text>
<text transform="translate(0 1154.2) scale(0.824 0.994)" x="447.2 465 485.2 498.9" y="0" fill="#ff0000" stroke="#ff0000" stroke-width="0.7" font-size="31">2.2<tspan textLength="22.8" lengthAdjust="spacingAndGlyphs">%</tspan></text>
<text transform="translate(0 1196.1) scale(0.824 0.994)" x="446.9 465 484.7 498.9" y="0" fill="#ff0000" stroke="#ff0000" stroke-width="0.7" font-size="31">3.5<tspan textLength="22.8" lengthAdjust="spacingAndGlyphs">%</tspan></text>
<text transform="translate(0 1232.3) scale(0.824 0.994)" x="446.9 465 485 498.9" y="0" fill="#ff0000" stroke="#ff0000" stroke-width="0.7" font-size="31">3.8<tspan textLength="22.8" lengthAdjust="spacingAndGlyphs">%</tspan></text>
<text transform="translate(0 1273.7) scale(0.824 0.994)" x="446.9 466 484 504.2 517.9" y="0" fill="#ff0000" stroke="#ff0000" stroke-width="0.7" font-size="31">38.9<tspan textLength="22.8" lengthAdjust="spacingAndGlyphs">%</tspan></text>
<text transform="translate(0 1316.1) scale(0.824 0.994)" x="446.9 466 484 504.2 517.9" y="0" fill="#ff0000" stroke="#ff0000" stroke-width="0.7" font-size="31">38.2<tspan textLength="22.8" lengthAdjust="spacingAndGlyphs">%</tspan></text>
<text transform="translate(0 848.1) scale(0.824 0.994)" x="516.3 536.7 553.4 573.3 592.6 611.3 630.3 648.9 668.6 687.4 706.5 725.5 745.8" y="0" fill="#000" stroke="#000" stroke-width="0.7" font-size="31"><tspan textLength="19" lengthAdjust="spacingAndGlyphs">+</tspan>1.39337<tspan textLength="18.5" lengthAdjust="spacingAndGlyphs">e</tspan><tspan textLength="19" lengthAdjust="spacingAndGlyphs">+</tspan>001</text>
<text transform="translate(0 887.2) scale(0.824 0.994)" x="516.3 536.7 553.4 573.6 591.9 610.9 630.4 649.6 668.6 687.4 706.5 725.5 745.8" y="0" fill="#000" stroke="#000" stroke-width="0.7" font-size="31"><tspan textLength="19" lengthAdjust="spacingAndGlyphs">+</tspan>1.27742<tspan textLength="18.5" lengthAdjust="spacingAndGlyphs">e</tspan><tspan textLength="19" lengthAdjust="spacingAndGlyphs">+</tspan>001</text>
<text transform="translate(0 931.5) scale(0.824 0.994)" x="516.3 536.7 553.4 574.7 592.2 612.7 630.4 649.5 668.6 687.4 706.5 725.5 745.8" y="0" fill="#000" stroke="#000" stroke-width="0.7" font-size="31"><tspan textLength="19" lengthAdjust="spacingAndGlyphs">+</tspan>1.16148<tspan textLength="18.5" lengthAdjust="spacingAndGlyphs">e</tspan><tspan textLength="19" lengthAdjust="spacingAndGlyphs">+</tspan>001</text>
<text transform="translate(0 969) scale(0.824 0.994)" x="516.3 536.7 553.4 573.4 592.4 611.2 630.2 649.3 668.6 687.4 706.5 725.5 745.8" y="0" fill="#000" stroke="#000" stroke-width="0.7" font-size="31"><tspan textLength="19" lengthAdjust="spacingAndGlyphs">+</tspan>1.04553<tspan textLength="18.5" lengthAdjust="spacingAndGlyphs">e</tspan><tspan textLength="19" lengthAdjust="spacingAndGlyphs">+</tspan>001</text>
<text transform="translate(0 1010.2) scale(0.824 0.994)" x="516.3 535.5 553.4 573.6 592.6 611.2 630.5 649.3 668.6 687.4 706.5 725.5 744.5" y="0" fill="#000" stroke="#000" stroke-width="0.7" font-size="31"><tspan textLength="19" lengthAdjust="spacingAndGlyphs">+</tspan>9.29586<tspan textLength="18.5" lengthAdjust="spacingAndGlyphs">e</tspan><tspan textLength="19" lengthAdjust="spacingAndGlyphs">+</tspan>000</text>
<text transform="translate(0 1051.8) scale(0.824 0.994)" x="516.3 535.4 553.4 574.7 592.3 611.2 630.4 649.5 668.6 687.4 706.5 725.5 744.5" y="0" fill="#000" stroke="#000" stroke-width="0.7" font-size="31"><tspan textLength="19" lengthAdjust="spacingAndGlyphs">+</tspan>8.13640<tspan textLength="18.5" lengthAdjust="spacingAndGlyphs">e</tspan><tspan textLength="19" lengthAdjust="spacingAndGlyphs">+</tspan>000</text>
<text transform="translate(0 1093.4) scale(0.824 0.994)" x="516.3 535.2 553.4 573.6 591.9 611.2 630.6 649.4 668.6 687.4 706.5 725.5 744.5" y="0" fill="#000" stroke="#000" stroke-width="0.7" font-size="31"><tspan textLength="19" lengthAdjust="spacingAndGlyphs">+</tspan>6.97694<tspan textLength="18.5" lengthAdjust="spacingAndGlyphs">e</tspan><tspan textLength="19" lengthAdjust="spacingAndGlyphs">+</tspan>000</text>
<text transform="translate(0 1135.7) scale(0.824 0.994)" x="516.3 535.1 553.4 573.4 593.7 610.9 630.4 648.9 668.6 687.4 706.5 725.5 744.5" y="0" fill="#000" stroke="#000" stroke-width="0.7" font-size="31"><tspan textLength="19" lengthAdjust="spacingAndGlyphs">+</tspan>5.81747<tspan textLength="18.5" lengthAdjust="spacingAndGlyphs">e</tspan><tspan textLength="19" lengthAdjust="spacingAndGlyphs">+</tspan>000</text>
<text transform="translate(0 1171.8) scale(0.824 0.994)" x="516.3 535.3 553.4 573.2 592.1 611.5 630.5 650.7 668.6 687.4 706.5 725.5 744.5" y="0" fill="#000" stroke="#000" stroke-width="0.7" font-size="31"><tspan textLength="19" lengthAdjust="spacingAndGlyphs">+</tspan>4.65801<tspan textLength="18.5" lengthAdjust="spacingAndGlyphs">e</tspan><tspan textLength="19" lengthAdjust="spacingAndGlyphs">+</tspan>000</text>
<text transform="translate(0 1213.6) scale(0.824 0.994)" x="516.3 535.3 553.4 573.4 592.6 611.5 630.2 649.2 668.6 687.4 706.5 725.5 744.5" y="0" fill="#000" stroke="#000" stroke-width="0.7" font-size="31"><tspan textLength="19" lengthAdjust="spacingAndGlyphs">+</tspan>3.49855<tspan textLength="18.5" lengthAdjust="spacingAndGlyphs">e</tspan><tspan textLength="19" lengthAdjust="spacingAndGlyphs">+</tspan>000</text>
<text transform="translate(0 1255.6) scale(0.824 0.994)" x="516.3 535.6 553.4 573.3 592.3 611.6 630.5 649.6 668.6 687.4 706.5 725.5 744.5" y="0" fill="#000" stroke="#000" stroke-width="0.7" font-size="31"><tspan textLength="19" lengthAdjust="spacingAndGlyphs">+</tspan>2.33909<tspan textLength="18.5" lengthAdjust="spacingAndGlyphs">e</tspan><tspan textLength="19" lengthAdjust="spacingAndGlyphs">+</tspan>000</text>
<text transform="translate(0 1297.1) scale(0.824 0.994)" x="516.3 536.7 553.4 574.7 591.9 611.6 630.3 649.3 668.6 687.4 706.5 725.5 744.5" y="0" fill="#000" stroke="#000" stroke-width="0.7" font-size="31"><tspan textLength="19" lengthAdjust="spacingAndGlyphs">+</tspan>1.17963<tspan textLength="18.5" lengthAdjust="spacingAndGlyphs">e</tspan><tspan textLength="19" lengthAdjust="spacingAndGlyphs">+</tspan>000</text>
<text transform="translate(0 1336.9) scale(0.824 0.994)" x="516.3 535.6 553.4 573.4 593.7 611.2 630.2 649.5 668.6 687.2 706.5 725.5 744.7" y="0" dy="0 0 0 0 0 0 0 0 0 -3 3 0 0" fill="#000" stroke="#000" stroke-width="0.7" font-size="31"><tspan textLength="19" lengthAdjust="spacingAndGlyphs">+</tspan>2.01658<tspan textLength="18.5" lengthAdjust="spacingAndGlyphs">e</tspan><tspan textLength="19.5" lengthAdjust="spacingAndGlyphs">-</tspan>002</text>
<text transform="translate(0 780.1) scale(0.775 0.994)" x="432.4 454.4 472 493.1 513.4 533.7 553.7 573.9 592.5 614.3 633.6 653.9" y="0" fill="#000" stroke="#000" stroke-width="0.8" font-size="27.6"><tspan textLength="18.1" lengthAdjust="spacingAndGlyphs">D</tspan><tspan textLength="14.4" lengthAdjust="spacingAndGlyphs">I</tspan><tspan textLength="19.4" lengthAdjust="spacingAndGlyphs">S</tspan><tspan textLength="18.1" lengthAdjust="spacingAndGlyphs">P</tspan><tspan textLength="18.6" lengthAdjust="spacingAndGlyphs">L</tspan><tspan textLength="17.6" lengthAdjust="spacingAndGlyphs">A</tspan>C<tspan textLength="18.8" lengthAdjust="spacingAndGlyphs">E</tspan><tspan textLength="21.4" lengthAdjust="spacingAndGlyphs">M</tspan><tspan textLength="18.8" lengthAdjust="spacingAndGlyphs">E</tspan>N<tspan textLength="19.8" lengthAdjust="spacingAndGlyphs">T</tspan></text>
<text transform="translate(0 808.6) scale(0.695 0.994)" x="480.7 504.3 536.9 552.4 581.9 593.7 616.2" y="0" fill="#000" stroke="#000" stroke-width="0.8" font-size="27.6"><tspan textLength="22.1" lengthAdjust="spacingAndGlyphs">T</tspan>X , mm</text>
</g>
</g>
<g id="panel-e">
<clipPath id="ct-e"><polygon points="670.1,903.7 849.6,841.8 857,841.8 852.8,962.9"/></clipPath>
<polygon points="670.1,903.7 849.6,841.8 857,841.8 852.8,962.9 852.8,965.9 670.1,906.6" fill="#0000eb"/>
<polygon points="853.8,841.8 857.8,841.4 890.5,853.4 885.7,974.3 885.6,976.5 852,965.6 852,963" fill="#000086"/>
<polygon points="884.7,851.3 890.5,853.4 885.7,974.3 880,972.4" fill="#0000eb" opacity="0.85"/>
<polygon points="898.9,975.7 904.3,973.9 1044,925.1 1081.7,915 1070.2,1240.5 887,1302.5 884.8,1302.5 896.7,976.7" fill="#0000eb"/>
<polygon points="1044,925.7 1044,905.5 1081.9,915 1081.5,921.6 1064.3,924.6" fill="#000086"/>
<clipPath id="cr-e"><polygon points="898.9,975.7 904.3,973.9 1044,925.1 1081.7,915 1070.2,1240.5 887,1302.5 884.8,1302.5 896.7,976.7"/></clipPath>
<path clip-path="url(#cr-e)" d="M880 1080C882 1080.1 886 1080.2 892 1080.6C898 1081 907.7 1080.6 916 1082.3C924.3 1084 934.1 1087.8 941.8 1090.9C949.5 1094.1 956.4 1098.1 962.4 1101.2C968.4 1104.3 972.7 1104.9 977.8 1109.8C982.9 1114.7 987.8 1125.5 993.2 1130.4C998.6 1135.3 1003.2 1137.2 1010.4 1139C1017.5 1140.8 1025.5 1141.8 1036.1 1141.5C1046.7 1141.2 1067.7 1137.8 1074 1137L1074 1400 L880 1400 Z" fill="#0040f2"/>
<clipPath id="cf-e"><polygon points="670.1,903.7 885.7,974.1 898.9,976.1 887,1302.5 880,1302.5 657,1228.2"/></clipPath>
<polygon points="670.1,903.7 885.7,974.1 898.9,976.1 887,1302.5 880,1302.5 657,1228.2" fill="#000080"/>
<g clip-path="url(#cf-e)">
<path d="M652 1160C652.8 1145 655 1091.5 657 1070C659 1048.5 659.5 1040.4 664 1031C668.5 1021.6 678 1020.5 683.9 1013.8C689.8 1007.1 694 998.1 699.1 991C704.2 983.9 709.2 976.3 714.3 971.3C719.3 966.2 724.6 963.1 729.4 960.7C734.2 958.3 736.8 956.9 743.1 956.9C749.4 956.9 758.3 957.5 767.4 960.7C776.5 963.9 788.9 970.4 797.7 975.9C806.6 981.4 812.9 985.9 820.5 994C828.1 1002.1 836.9 1014.8 843.2 1024.4C849.5 1034 854.4 1042.1 858.4 1051.7C862.4 1061.3 865 1073.4 867.5 1082C870 1090.6 872.5 1099.8 873.5 1103.3L890.3 1080.6L908 1078L908 1400 L652 1400 Z" fill="#002680"/>
<path d="M866 1189.3L865.8 1206.2L865.4 1217.7L864.8 1226.9L864 1234.6L863 1241.3L861.8 1247.1L860.3 1252.3L858.7 1256.9L856.8 1260.9L854.8 1264.5L852.5 1267.6L849.9 1270.2L847.1 1272.4L844 1274.2L840.6 1275.6L836.9 1276.5L832.7 1277.1L828.2 1277.1L823.1 1276.7L817.3 1275.8L810.5 1274.3L802.1 1271.9L789.8 1267.9L759.8 1257.3L747.9 1252.8L739.1 1249.1L731.8 1245.6L725.4 1242.1L719.7 1238.4L714.5 1234.6L709.7 1230.7L705.3 1226.5L701.3 1222.2L697.6 1217.6L694.2 1212.7L691.2 1207.6L688.3 1202.2L685.8 1196.5L683.5 1190.4L681.5 1184L679.8 1177.2L678.3 1169.9L677 1162L676 1153.3L675.3 1143.5L674.8 1131.9L674.5 1116.2L674.6 1099.5L675 1090.3L675.8 1081.1L677.1 1072.1L678.8 1063.2L681 1054.7L683.5 1046.4L686.4 1038.4L689.7 1030.9L693.4 1023.8L697.4 1017.1L701.7 1011L706.3 1005.3L711.2 1000.2L716.4 995.7L721.8 991.8L727.5 988.5L733.3 985.8L739.2 983.8L745.3 982.4L751.5 981.6L757.7 981.6L763.9 982.1L770 983.3L776 985.1L782.1 987.6L788.1 990.6L794.1 994.3L800 998.6L805.8 1003.5L811.4 1008.9L816.8 1014.9L822.1 1021.4L827.2 1028.3L832 1035.7L836.6 1043.5L840.9 1051.7L844.9 1060.3L848.6 1069.2L852 1078.3L855 1087.7L857.7 1097.3L860 1107L862 1116.8L863.6 1126.7L864.8 1136.7L865.6 1146.6L866 1156.5Z" fill="#00668c"/>
<path d="M857 1181.5L856.8 1196.8L856.4 1207.4L855.8 1216L855 1223.4L854.1 1229.7L852.9 1235.4L851.5 1240.4L850 1244.9L848.2 1248.8L846.2 1252.3L844 1255.4L841.5 1258L838.8 1260.3L835.9 1262.1L832.7 1263.5L829.2 1264.5L825.3 1265.2L821.1 1265.4L816.3 1265.1L811 1264.4L804.8 1263.1L797.2 1261L786.5 1257.6L762.5 1249.4L752.2 1245.5L744.4 1242.2L737.8 1238.9L731.9 1235.6L726.6 1232.2L721.8 1228.6L717.4 1224.9L713.3 1220.9L709.5 1216.7L706 1212.2L702.8 1207.5L699.9 1202.6L697.2 1197.4L694.8 1191.9L692.6 1186.1L690.7 1179.9L689 1173.4L687.6 1166.4L686.4 1158.9L685.5 1150.7L684.7 1141.6L684.3 1131L684 1117L684 1103.9L684.4 1095.9L685.2 1087.8L686.4 1079.8L688 1071.9L689.9 1064.2L692.2 1056.8L694.9 1049.7L697.9 1042.9L701.2 1036.5L704.9 1030.5L708.8 1024.9L713.1 1019.8L717.5 1015.2L722.2 1011.1L727.2 1007.5L732.3 1004.4L737.5 1002L742.9 1000.1L748.4 998.7L753.9 998L759.5 997.8L765 998.3L770.5 999.2L775.6 1000.7L781 1002.9L786.4 1005.6L791.7 1008.9L797 1012.7L802.2 1017L807.3 1021.9L812.2 1027.2L817 1033L821.6 1039.3L826 1045.9L830.1 1053L834.1 1060.3L837.7 1068L841.1 1076L844.2 1084.2L847 1092.6L849.4 1101.1L851.6 1109.8L853.3 1118.6L854.8 1127.4L855.9 1136.3L856.6 1145L857 1153.7Z" fill="#008080"/>
<path d="M849.5 1174.8L849.3 1188.4L848.9 1198.2L848.3 1206.2L847.6 1213.1L846.6 1219.2L845.5 1224.7L844.2 1229.5L842.6 1233.9L840.9 1237.7L839 1241.2L836.8 1244.2L834.5 1246.8L831.9 1249.1L829 1250.9L826 1252.4L822.6 1253.5L819 1254.2L815 1254.5L810.5 1254.4L805.6 1253.8L799.9 1252.7L793.1 1251L783.7 1248.1L764.8 1241.7L755.9 1238.4L749 1235.4L743 1232.4L737.7 1229.4L732.8 1226.2L728.4 1222.7L724.2 1219.1L720.4 1215.3L716.9 1211.2L713.6 1206.9L710.5 1202.4L707.7 1197.6L705.2 1192.6L702.9 1187.3L700.8 1181.7L699 1175.7L697.4 1169.5L696 1162.9L694.8 1155.8L693.9 1148.1L693.2 1139.7L692.8 1130L692.5 1117.7L692.5 1107.7L692.9 1100.7L693.6 1093.6L694.7 1086.6L696.1 1079.6L697.9 1072.8L700 1066.2L702.5 1059.8L705.2 1053.7L708.3 1047.9L711.6 1042.5L715.2 1037.5L719.1 1032.9L723.1 1028.7L727.4 1025L731.9 1021.7L736.5 1018.9L741.3 1016.7L746.2 1014.9L751.1 1013.7L756.1 1012.9L761.1 1012.7L766 1013L770.8 1013.9L775.3 1015.1L780.1 1017L784.9 1019.4L789.7 1022.3L794.5 1025.7L799.2 1029.6L803.9 1033.9L808.4 1038.7L812.7 1043.9L816.9 1049.5L821 1055.5L824.8 1061.8L828.4 1068.4L831.7 1075.3L834.9 1082.4L837.7 1089.7L840.2 1097.3L842.5 1104.9L844.5 1112.7L846.1 1120.5L847.5 1128.3L848.5 1136.1L849.1 1143.8L849.5 1151.3Z" fill="#00804a"/>
<path d="M843 1168.9L842.8 1180.9L842.4 1189.8L841.9 1197.2L841.1 1203.7L840.2 1209.5L839 1214.7L837.7 1219.4L836.2 1223.7L834.5 1227.5L832.6 1230.8L830.5 1233.8L828.2 1236.5L825.7 1238.7L823 1240.6L820 1242.1L816.8 1243.3L813.3 1244L809.6 1244.4L805.4 1244.5L800.8 1244L795.6 1243.1L789.5 1241.7L781.3 1239.2L766.7 1234.4L759.1 1231.5L753 1228.9L747.7 1226.2L742.8 1223.3L738.4 1220.3L734.2 1217L730.3 1213.5L726.7 1209.8L723.4 1205.9L720.3 1201.7L717.4 1197.3L714.7 1192.7L712.3 1187.8L710 1182.7L708 1177.3L706.3 1171.6L704.7 1165.6L703.4 1159.3L702.3 1152.6L701.4 1145.5L700.7 1137.7L700.3 1129L700 1118.3L700 1111L700.4 1104.8L701 1098.5L702 1092.1L703.3 1085.9L705 1079.7L706.9 1073.7L709.2 1067.9L711.7 1062.3L714.5 1057.1L717.5 1052.1L720.8 1047.5L724.3 1043.2L728.1 1039.4L732 1035.9L736.1 1032.9L740.3 1030.3L744.6 1028.2L749 1026.5L753.5 1025.3L758 1024.5L762.5 1024.3L766.9 1024.5L771.1 1025.1L775 1026.2L779.3 1027.8L783.6 1030L788 1032.6L792.4 1035.7L796.7 1039.2L800.9 1043.1L805 1047.5L809.1 1052.2L812.9 1057.3L816.6 1062.7L820.1 1068.4L823.5 1074.5L826.6 1080.7L829.4 1087.2L832.1 1093.9L834.4 1100.7L836.5 1107.6L838.3 1114.6L839.9 1121.7L841.1 1128.8L842 1135.8L842.6 1142.6L843 1149.3Z" fill="#008000"/>
<path d="M829 1159.8L828.8 1168.6L828.5 1175.5L828 1181.4L827.4 1186.7L826.5 1191.4L825.6 1195.6L824.4 1199.5L823.1 1203L821.7 1206.2L820 1209.1L818.2 1211.6L816.3 1213.9L814.1 1215.8L811.8 1217.5L809.3 1218.8L806.6 1219.8L803.7 1220.6L800.6 1221L797.2 1221.1L793.5 1220.8L789.4 1220.2L784.6 1219.1L778.5 1217.4L768.7 1214.2L763.1 1212.1L758.4 1210L754.1 1207.8L750.2 1205.4L746.5 1202.9L743.1 1200.2L739.9 1197.3L736.8 1194.1L734 1190.8L731.4 1187.3L728.9 1183.6L726.6 1179.7L724.5 1175.6L722.6 1171.3L720.9 1166.8L719.3 1162.1L718 1157.2L716.8 1152L715.9 1146.6L715.1 1140.9L714.5 1134.8L714.1 1128.1L713.9 1120.2L713.9 1116.1L714.2 1111.5L714.8 1106.8L715.6 1102L716.6 1097.3L718 1092.6L719.6 1088.1L721.4 1083.7L723.5 1079.5L725.8 1075.4L728.3 1071.7L731 1068.1L733.8 1064.9L736.9 1062L740.1 1059.3L743.4 1057L746.8 1055L750.3 1053.4L753.9 1052.1L757.5 1051.2L761.1 1050.6L764.7 1050.4L768.2 1050.6L771.5 1051.1L774.5 1051.8L777.9 1053.1L781.3 1054.7L784.8 1056.7L788.2 1059.1L791.7 1061.8L795.1 1064.8L798.4 1068.2L801.6 1071.8L804.7 1075.7L807.7 1079.9L810.5 1084.3L813.2 1088.9L815.7 1093.8L818 1098.7L820.1 1103.8L822.1 1109.1L823.8 1114.4L825.2 1119.7L826.5 1125.1L827.5 1130.4L828.2 1135.7L828.7 1140.9L829 1145.8Z" fill="#4a8000"/>
<path d="M821.5 1154.6L821.3 1161.6L821 1167.4L820.6 1172.4L819.9 1177L819.2 1181.2L818.2 1185L817.2 1188.5L815.9 1191.7L814.6 1194.6L813 1197.3L811.4 1199.7L809.5 1201.8L807.6 1203.6L805.4 1205.2L803.2 1206.5L800.7 1207.5L798.1 1208.3L795.3 1208.8L792.3 1209L789.1 1208.8L785.6 1208.4L781.6 1207.6L776.8 1206.3L769.9 1204.1L765.3 1202.4L761.3 1200.6L757.6 1198.6L754.1 1196.5L750.8 1194.2L747.7 1191.7L744.7 1189L741.9 1186.1L739.2 1183L736.7 1179.7L734.4 1176.3L732.2 1172.7L730.2 1168.9L728.4 1164.9L726.7 1160.8L725.3 1156.5L724 1152.1L722.8 1147.5L721.9 1142.8L721.2 1137.8L720.6 1132.6L720.2 1127L720 1120.8L720 1118.6L720.3 1114.7L720.8 1110.6L721.5 1106.5L722.5 1102.4L723.7 1098.4L725.2 1094.4L726.8 1090.6L728.7 1086.9L730.8 1083.3L733 1080L735.5 1076.9L738.1 1074.1L740.8 1071.5L743.7 1069.1L746.7 1067.1L749.8 1065.3L752.9 1063.8L756.1 1062.7L759.3 1061.9L762.6 1061.3L765.7 1061.1L768.8 1061.2L771.8 1061.6L774.3 1062.3L777.1 1063.3L780 1064.7L783 1066.4L786 1068.4L788.9 1070.8L791.9 1073.4L794.7 1076.3L797.5 1079.5L800.3 1082.9L802.8 1086.6L805.3 1090.4L807.7 1094.4L809.9 1098.6L811.9 1103L813.7 1107.5L815.4 1112L816.9 1116.6L818.2 1121.3L819.3 1125.9L820.1 1130.6L820.8 1135.1L821.3 1139.6L821.5 1143.8Z" fill="#808000"/>
<path d="M815 1150.2L814.8 1155.5L814.5 1160L814.1 1164.1L813.5 1167.9L812.8 1171.5L811.9 1174.8L810.9 1177.8L809.7 1180.6L808.4 1183.2L807 1185.6L805.4 1187.8L803.7 1189.7L801.9 1191.4L799.9 1192.8L797.8 1194L795.6 1195L793.2 1195.7L790.8 1196.2L788.1 1196.5L785.4 1196.5L782.4 1196.2L779.2 1195.6L775.5 1194.7L771 1193.2L767.6 1191.9L764.4 1190.5L761.3 1188.8L758.4 1187L755.6 1184.9L752.9 1182.7L750.3 1180.3L747.9 1177.7L745.5 1174.9L743.3 1172L741.2 1168.9L739.3 1165.7L737.5 1162.3L735.8 1158.8L734.3 1155.2L732.9 1151.5L731.8 1147.6L730.7 1143.7L729.9 1139.6L729.2 1135.5L728.6 1131.2L728.3 1126.8L728.1 1122.2L728.1 1121.4L728.3 1118.2L728.8 1114.8L729.4 1111.4L730.2 1108L731.3 1104.5L732.5 1101.2L734 1097.9L735.6 1094.8L737.3 1091.8L739.3 1089L741.4 1086.3L743.6 1083.9L745.9 1081.6L748.4 1079.6L750.9 1077.8L753.5 1076.3L756.2 1075L758.9 1074L761.6 1073.3L764.4 1072.8L767 1072.6L769.6 1072.6L772 1072.9L774 1073.4L776.4 1074.2L778.9 1075.4L781.5 1076.8L784 1078.6L786.6 1080.5L789.1 1082.8L791.6 1085.2L794.1 1087.9L796.4 1090.8L798.7 1093.9L800.8 1097.2L802.9 1100.6L804.8 1104.2L806.6 1107.9L808.2 1111.7L809.7 1115.5L811 1119.4L812.1 1123.3L813 1127.3L813.8 1131.1L814.4 1134.9L814.8 1138.6L815 1142.1Z" fill="#806400"/>
<path d="M807.5 1146.1L807.3 1149.7L807.1 1153L806.7 1156.1L806.1 1159.1L805.4 1161.9L804.6 1164.6L803.7 1167.1L802.7 1169.5L801.5 1171.6L800.2 1173.7L798.8 1175.5L797.3 1177.2L795.6 1178.7L793.9 1180L792.1 1181L790.2 1181.9L788.2 1182.6L786.1 1183.1L784 1183.4L781.8 1183.5L779.4 1183.4L777 1183L774.5 1182.4L771.9 1181.6L769.6 1180.7L767.3 1179.6L765.1 1178.3L762.9 1176.8L760.8 1175.1L758.7 1173.3L756.6 1171.3L754.7 1169.1L752.8 1166.7L751 1164.2L749.3 1161.6L747.7 1158.9L746.2 1156.1L744.8 1153.1L743.5 1150.1L742.4 1147L741.4 1143.8L740.5 1140.6L739.8 1137.4L739.2 1134.2L738.8 1130.9L738.5 1127.7L738.3 1124.5L738.3 1124.5L738.5 1122.2L738.8 1119.6L739.3 1117L740 1114.4L740.8 1111.7L741.8 1109.2L742.9 1106.6L744.1 1104.2L745.5 1101.9L747 1099.7L748.7 1097.6L750.4 1095.7L752.2 1093.9L754.1 1092.3L756.1 1090.9L758.1 1089.7L760.2 1088.7L762.3 1087.9L764.4 1087.3L766.5 1086.9L768.5 1086.7L770.5 1086.7L772.3 1086.9L773.8 1087.2L775.7 1087.9L777.7 1088.8L779.8 1089.9L781.9 1091.2L784 1092.8L786.1 1094.5L788.1 1096.5L790.1 1098.6L792.1 1100.8L794 1103.3L795.7 1105.8L797.4 1108.5L799 1111.2L800.5 1114.1L801.8 1117L803.1 1120L804.1 1123L805.1 1126.1L805.9 1129.1L806.5 1132L807 1135L807.3 1137.7L807.5 1140.3Z" fill="#802800"/>
<path d="M798 1141.9L797.9 1143.7L797.6 1145.6L797.3 1147.5L796.9 1149.4L796.3 1151.2L795.7 1152.9L794.9 1154.6L794 1156.2L793.1 1157.6L792.1 1159L790.9 1160.3L789.8 1161.5L788.5 1162.5L787.2 1163.5L785.8 1164.3L784.3 1164.9L782.8 1165.5L781.3 1165.8L779.8 1166.1L778.3 1166.2L776.7 1166.2L775.2 1166L773.7 1165.7L772.4 1165.3L771.1 1164.8L769.7 1164L768.2 1163.1L766.7 1162.1L765.2 1160.9L763.6 1159.5L762.2 1158.1L760.7 1156.5L759.3 1154.8L757.9 1153L756.6 1151.1L755.4 1149.2L754.2 1147.2L753.1 1145.1L752.2 1143L751.3 1140.9L750.5 1138.7L749.8 1136.6L749.2 1134.5L748.7 1132.4L748.4 1130.4L748.1 1128.5L748 1126.7L748 1127.4L748.1 1125.8L748.4 1124.1L748.7 1122.3L749.2 1120.5L749.8 1118.7L750.5 1116.9L751.3 1115.2L752.3 1113.5L753.3 1111.9L754.4 1110.4L755.6 1108.9L756.8 1107.6L758.1 1106.4L759.5 1105.3L760.9 1104.3L762.4 1103.5L763.9 1102.7L765.4 1102.2L766.9 1101.7L768.4 1101.4L769.9 1101.3L771.2 1101.3L772.5 1101.4L773.6 1101.6L774.9 1102.1L776.3 1102.7L777.8 1103.5L779.3 1104.4L780.8 1105.5L782.4 1106.7L783.8 1108.1L785.3 1109.5L786.7 1111.1L788.1 1112.8L789.4 1114.6L790.6 1116.4L791.8 1118.3L792.9 1120.3L793.8 1122.3L794.7 1124.4L795.5 1126.5L796.2 1128.6L796.8 1130.6L797.3 1132.7L797.6 1134.7L797.9 1136.5L798 1138.3Z" fill="#800000"/>
</g>
<clipPath id="ce-e"><polygon points="893.3,978.6 897.3,978.6 884.3,1301.7 880.3,1301.7"/></clipPath>
<g clip-path="url(#ce-e)">
<line x1="895.3" y1="978.6" x2="882.3" y2="1301.7" stroke="#0a12d8" stroke-width="2.4"/>
<path d="M880 1080C882 1080.1 886 1080.2 892 1080.6C898 1081 907.7 1080.6 916 1082.3C924.3 1084 934.1 1087.8 941.8 1090.9C949.5 1094.1 956.4 1098.1 962.4 1101.2C968.4 1104.3 972.7 1104.9 977.8 1109.8C982.9 1114.7 987.8 1125.5 993.2 1130.4C998.6 1135.3 1003.2 1137.2 1010.4 1139C1017.5 1140.8 1025.5 1141.8 1036.1 1141.5C1046.7 1141.2 1067.7 1137.8 1074 1137L1074 1400 L880 1400 Z" fill="#0a44e6" transform="translate(-12 2)"/>
</g>
<g clip-path="url(#cr-e)" fill="#000064" opacity="0.8">
<rect x="859.2" y="981" width="2.4" height="7"/>
<rect x="872.4" y="974.1" width="2.4" height="7"/>
<rect x="885.6" y="967.2" width="2.4" height="7"/>
<rect x="898.8" y="960.2" width="2.4" height="7"/>
<rect x="912" y="953.3" width="2.4" height="7"/>
<rect x="925.2" y="946.4" width="2.4" height="7"/>
<rect x="938.4" y="939.5" width="2.4" height="7"/>
<rect x="951.6" y="932.5" width="2.4" height="7"/>
<rect x="964.8" y="925.6" width="2.4" height="7"/>
<rect x="978" y="918.7" width="2.4" height="7"/>
<rect x="991.2" y="911.8" width="2.4" height="7"/>
<rect x="1004.4" y="904.9" width="2.4" height="7"/>
<rect x="1017.6" y="897.9" width="2.4" height="7"/>
<rect x="1030.8" y="891" width="2.4" height="7"/>
<rect x="1044" y="884.1" width="2.4" height="7"/>
<rect x="1057.2" y="877.2" width="2.4" height="7"/>
<rect x="1070.4" y="870.2" width="2.4" height="7"/>
<rect x="1083.6" y="863.3" width="2.4" height="7"/>
<rect x="856.6" y="1042.5" width="2.4" height="7"/>
<rect x="869.8" y="1035.6" width="2.4" height="7"/>
<rect x="883" y="1028.7" width="2.4" height="7"/>
<rect x="896.2" y="1021.7" width="2.4" height="7"/>
<rect x="909.4" y="1014.8" width="2.4" height="7"/>
<rect x="922.6" y="1007.9" width="2.4" height="7"/>
<rect x="935.8" y="1001" width="2.4" height="7"/>
<rect x="949" y="994.1" width="2.4" height="7"/>
<rect x="962.2" y="987.1" width="2.4" height="7"/>
<rect x="975.4" y="980.2" width="2.4" height="7"/>
<rect x="988.6" y="973.3" width="2.4" height="7"/>
<rect x="1001.8" y="966.4" width="2.4" height="7"/>
<rect x="1015" y="959.4" width="2.4" height="7"/>
<rect x="1028.2" y="952.5" width="2.4" height="7"/>
<rect x="1041.4" y="945.6" width="2.4" height="7"/>
<rect x="1054.6" y="938.7" width="2.4" height="7"/>
<rect x="1067.8" y="931.8" width="2.4" height="7"/>
<rect x="1081" y="924.8" width="2.4" height="7"/>
<rect x="867.2" y="1097.1" width="2.4" height="7"/>
<rect x="880.4" y="1090.2" width="2.4" height="7"/>
<rect x="893.6" y="1083.3" width="2.4" height="7"/>
<rect x="906.8" y="1076.3" width="2.4" height="7"/>
<rect x="920" y="1069.4" width="2.4" height="7"/>
<rect x="933.2" y="1062.5" width="2.4" height="7"/>
<rect x="946.4" y="1055.6" width="2.4" height="7"/>
<rect x="959.6" y="1048.6" width="2.4" height="7"/>
<rect x="972.8" y="1041.7" width="2.4" height="7"/>
<rect x="986" y="1034.8" width="2.4" height="7"/>
<rect x="999.2" y="1027.9" width="2.4" height="7"/>
<rect x="1012.4" y="1021" width="2.4" height="7"/>
<rect x="1025.6" y="1014" width="2.4" height="7"/>
<rect x="1038.8" y="1007.1" width="2.4" height="7"/>
<rect x="1052" y="1000.2" width="2.4" height="7"/>
<rect x="1065.2" y="993.3" width="2.4" height="7"/>
<rect x="1078.4" y="986.4" width="2.4" height="7"/>
<rect x="864.6" y="1158.6" width="2.4" height="7"/>
<rect x="877.8" y="1151.7" width="2.4" height="7"/>
<rect x="891" y="1144.8" width="2.4" height="7"/>
<rect x="904.2" y="1137.9" width="2.4" height="7"/>
<rect x="917.4" y="1130.9" width="2.4" height="7"/>
<rect x="930.6" y="1124" width="2.4" height="7"/>
<rect x="943.8" y="1117.1" width="2.4" height="7"/>
<rect x="957" y="1110.2" width="2.4" height="7"/>
<rect x="970.2" y="1103.2" width="2.4" height="7"/>
<rect x="983.4" y="1096.3" width="2.4" height="7"/>
<rect x="996.6" y="1089.4" width="2.4" height="7"/>
<rect x="1009.8" y="1082.5" width="2.4" height="7"/>
<rect x="1023" y="1075.6" width="2.4" height="7"/>
<rect x="1036.2" y="1068.6" width="2.4" height="7"/>
<rect x="1049.4" y="1061.7" width="2.4" height="7"/>
<rect x="1062.6" y="1054.8" width="2.4" height="7"/>
<rect x="1075.8" y="1047.9" width="2.4" height="7"/>
<rect x="862" y="1220.1" width="2.4" height="7"/>
<rect x="875.2" y="1213.2" width="2.4" height="7"/>
<rect x="888.4" y="1206.3" width="2.4" height="7"/>
<rect x="901.6" y="1199.4" width="2.4" height="7"/>
<rect x="914.8" y="1192.4" width="2.4" height="7"/>
<rect x="928" y="1185.5" width="2.4" height="7"/>
<rect x="941.2" y="1178.6" width="2.4" height="7"/>
<rect x="954.4" y="1171.7" width="2.4" height="7"/>
<rect x="967.6" y="1164.8" width="2.4" height="7"/>
<rect x="980.8" y="1157.8" width="2.4" height="7"/>
<rect x="994" y="1150.9" width="2.4" height="7"/>
<rect x="1007.2" y="1144" width="2.4" height="7"/>
<rect x="1020.4" y="1137.1" width="2.4" height="7"/>
<rect x="1033.6" y="1130.1" width="2.4" height="7"/>
<rect x="1046.8" y="1123.2" width="2.4" height="7"/>
<rect x="1060" y="1116.3" width="2.4" height="7"/>
<rect x="1073.2" y="1109.4" width="2.4" height="7"/>
<rect x="859.4" y="1281.6" width="2.4" height="7"/>
<rect x="872.6" y="1274.7" width="2.4" height="7"/>
<rect x="885.8" y="1267.8" width="2.4" height="7"/>
<rect x="899" y="1260.9" width="2.4" height="7"/>
<rect x="912.2" y="1254" width="2.4" height="7"/>
<rect x="925.4" y="1247" width="2.4" height="7"/>
<rect x="938.6" y="1240.1" width="2.4" height="7"/>
<rect x="951.8" y="1233.2" width="2.4" height="7"/>
<rect x="965" y="1226.3" width="2.4" height="7"/>
<rect x="978.2" y="1219.3" width="2.4" height="7"/>
<rect x="991.4" y="1212.4" width="2.4" height="7"/>
<rect x="1004.6" y="1205.5" width="2.4" height="7"/>
<rect x="1017.8" y="1198.6" width="2.4" height="7"/>
<rect x="1031" y="1191.7" width="2.4" height="7"/>
<rect x="1044.2" y="1184.7" width="2.4" height="7"/>
<rect x="1057.4" y="1177.8" width="2.4" height="7"/>
<rect x="1070.6" y="1170.9" width="2.4" height="7"/>
<rect x="1083.8" y="1164" width="2.4" height="7"/>
<rect x="856.8" y="1343.2" width="2.4" height="7"/>
<rect x="870" y="1336.2" width="2.4" height="7"/>
<rect x="883.2" y="1329.3" width="2.4" height="7"/>
<rect x="896.4" y="1322.4" width="2.4" height="7"/>
<rect x="909.6" y="1315.5" width="2.4" height="7"/>
<rect x="922.8" y="1308.6" width="2.4" height="7"/>
<rect x="936" y="1301.6" width="2.4" height="7"/>
<rect x="949.2" y="1294.7" width="2.4" height="7"/>
<rect x="962.4" y="1287.8" width="2.4" height="7"/>
<rect x="975.6" y="1280.9" width="2.4" height="7"/>
<rect x="988.8" y="1273.9" width="2.4" height="7"/>
<rect x="1002" y="1267" width="2.4" height="7"/>
<rect x="1015.2" y="1260.1" width="2.4" height="7"/>
<rect x="1028.4" y="1253.2" width="2.4" height="7"/>
<rect x="1041.6" y="1246.3" width="2.4" height="7"/>
<rect x="1054.8" y="1239.3" width="2.4" height="7"/>
<rect x="1068" y="1232.4" width="2.4" height="7"/>
<rect x="1081.2" y="1225.5" width="2.4" height="7"/>
<rect x="867.4" y="1397.8" width="2.4" height="7"/>
<rect x="880.6" y="1390.8" width="2.4" height="7"/>
<rect x="893.8" y="1383.9" width="2.4" height="7"/>
<rect x="907" y="1377" width="2.4" height="7"/>
<rect x="920.2" y="1370.1" width="2.4" height="7"/>
<rect x="933.4" y="1363.1" width="2.4" height="7"/>
<rect x="946.6" y="1356.2" width="2.4" height="7"/>
<rect x="959.8" y="1349.3" width="2.4" height="7"/>
<rect x="973" y="1342.4" width="2.4" height="7"/>
<rect x="986.2" y="1335.5" width="2.4" height="7"/>
<rect x="999.4" y="1328.5" width="2.4" height="7"/>
<rect x="1012.6" y="1321.6" width="2.4" height="7"/>
<rect x="1025.8" y="1314.7" width="2.4" height="7"/>
<rect x="1039" y="1307.8" width="2.4" height="7"/>
<rect x="1052.2" y="1300.8" width="2.4" height="7"/>
<rect x="1065.4" y="1293.9" width="2.4" height="7"/>
<rect x="1078.6" y="1287" width="2.4" height="7"/>
<rect x="864.8" y="1459.3" width="2.4" height="7"/>
<rect x="878" y="1452.3" width="2.4" height="7"/>
<rect x="891.2" y="1445.4" width="2.4" height="7"/>
<rect x="904.4" y="1438.5" width="2.4" height="7"/>
<rect x="917.6" y="1431.6" width="2.4" height="7"/>
<rect x="930.8" y="1424.7" width="2.4" height="7"/>
<rect x="944" y="1417.7" width="2.4" height="7"/>
<rect x="957.2" y="1410.8" width="2.4" height="7"/>
<rect x="970.4" y="1403.9" width="2.4" height="7"/>
<rect x="983.6" y="1397" width="2.4" height="7"/>
<rect x="996.8" y="1390" width="2.4" height="7"/>
<rect x="1010" y="1383.1" width="2.4" height="7"/>
<rect x="1023.2" y="1376.2" width="2.4" height="7"/>
<rect x="1036.4" y="1369.3" width="2.4" height="7"/>
<rect x="1049.6" y="1362.4" width="2.4" height="7"/>
<rect x="1062.8" y="1355.4" width="2.4" height="7"/>
<rect x="1076" y="1348.5" width="2.4" height="7"/>
</g>
<g clip-path="url(#ct-e)" fill="#000064" opacity="0.8">
<rect x="698.3" y="940.2" width="2.4" height="7"/>
<rect x="711.6" y="933.2" width="2.4" height="7"/>
<rect x="724.9" y="926.1" width="2.4" height="7"/>
<rect x="738.2" y="919.1" width="2.4" height="7"/>
<rect x="751.5" y="912" width="2.4" height="7"/>
<rect x="764.8" y="905" width="2.4" height="7"/>
<rect x="778.1" y="898" width="2.4" height="7"/>
<rect x="791.4" y="890.9" width="2.4" height="7"/>
<rect x="804.7" y="883.9" width="2.4" height="7"/>
<rect x="818" y="876.8" width="2.4" height="7"/>
<rect x="831.3" y="869.8" width="2.4" height="7"/>
<rect x="844.6" y="862.8" width="2.4" height="7"/>
<rect x="695.3" y="1003.3" width="2.4" height="7"/>
<rect x="708.6" y="996.3" width="2.4" height="7"/>
<rect x="721.9" y="989.2" width="2.4" height="7"/>
<rect x="735.2" y="982.2" width="2.4" height="7"/>
<rect x="748.5" y="975.1" width="2.4" height="7"/>
<rect x="761.8" y="968.1" width="2.4" height="7"/>
<rect x="775.1" y="961.1" width="2.4" height="7"/>
<rect x="788.4" y="954" width="2.4" height="7"/>
<rect x="801.7" y="947" width="2.4" height="7"/>
<rect x="815" y="939.9" width="2.4" height="7"/>
<rect x="828.3" y="932.9" width="2.4" height="7"/>
<rect x="841.6" y="925.9" width="2.4" height="7"/>
<rect x="854.9" y="918.8" width="2.4" height="7"/>
</g>
<rect x="978" y="839" width="15.2" height="497.1" fill="#000"/>
<rect x="979.9" y="841.1" width="11.6" height="38.1" fill="#ff0000"/>
<rect x="979.9" y="881" width="11.6" height="40.9" fill="#ff5000"/>
<rect x="979.9" y="923.7" width="11.6" height="38.2" fill="#ffc800"/>
<rect x="979.9" y="963.7" width="11.6" height="40.1" fill="#ffff00"/>
<rect x="979.9" y="1005.7" width="11.6" height="38.1" fill="#96ff00"/>
<rect x="979.9" y="1045.6" width="11.6" height="40.8" fill="#00ff00"/>
<rect x="979.9" y="1088.2" width="11.6" height="40.9" fill="#00f000"/>
<rect x="979.9" y="1130.8" width="11.6" height="38.1" fill="#00ff8c"/>
<rect x="979.9" y="1170.7" width="11.6" height="40.4" fill="#00ffff"/>
<rect x="979.9" y="1212.9" width="11.6" height="38.1" fill="#00dcff"/>
<rect x="979.9" y="1252.8" width="11.6" height="40.4" fill="#0050ff"/>
<rect x="979.9" y="1295" width="11.6" height="39.4" fill="#0000ff"/>
<rect x="993.2" y="839.4" width="74.1" height="1.7" fill="#9c9c9c" opacity="0.93"/>
<rect x="993.2" y="879.3" width="74.1" height="1.7" fill="#9c9c9c" opacity="0.93"/>
<rect x="993.2" y="921.9" width="74.1" height="1.7" fill="#9c9c9c" opacity="0.93"/>
<rect x="993.2" y="962" width="74.1" height="1.7" fill="#9c9c9c" opacity="0.93"/>
<rect x="993.2" y="1003.9" width="74.1" height="1.7" fill="#9c9c9c" opacity="0.93"/>
<rect x="993.2" y="1043.9" width="74.1" height="1.7" fill="#9c9c9c" opacity="0.93"/>
<rect x="993.2" y="1086.4" width="74.1" height="1.7" fill="#9c9c9c" opacity="0.93"/>
<rect x="993.2" y="1129.1" width="74.1" height="1.7" fill="#9c9c9c" opacity="0.93"/>
<rect x="993.2" y="1169" width="74.1" height="1.7" fill="#9c9c9c" opacity="0.93"/>
<rect x="993.2" y="1211.1" width="74.1" height="1.7" fill="#9c9c9c" opacity="0.93"/>
<rect x="993.2" y="1251.1" width="74.1" height="1.7" fill="#9c9c9c" opacity="0.93"/>
<rect x="993.2" y="1293.2" width="74.1" height="1.7" fill="#9c9c9c" opacity="0.93"/>
<rect x="993.2" y="1334.5" width="74.1" height="1.7" fill="#9c9c9c" opacity="0.93"/>
<g font-family="'Liberation Serif', 'Times New Roman', serif">
<text transform="translate(0 868.7) scale(0.830 1.008)" x="1222.6 1239.4 1259.3 1273.3" y="0" fill="#ff0000" stroke="#ff0000" stroke-width="0.7" font-size="31">1.3<tspan textLength="22.8" lengthAdjust="spacingAndGlyphs">%</tspan></text>
<text transform="translate(0 910.8) scale(0.830 1.008)" x="1222.6 1239.4 1259.4 1273.3" y="0" fill="#ff0000" stroke="#ff0000" stroke-width="0.7" font-size="31">1.4<tspan textLength="22.8" lengthAdjust="spacingAndGlyphs">%</tspan></text>
<text transform="translate(0 953.3) scale(0.830 1.008)" x="1222.6 1239.4 1259.6 1273.3" y="0" fill="#ff0000" stroke="#ff0000" stroke-width="0.7" font-size="31">1.2<tspan textLength="22.8" lengthAdjust="spacingAndGlyphs">%</tspan></text>
<text transform="translate(0 995.5) scale(0.830 1.008)" x="1222.6 1239.4 1259.2 1273.3" y="0" fill="#ff0000" stroke="#ff0000" stroke-width="0.7" font-size="31">1.6<tspan textLength="22.8" lengthAdjust="spacingAndGlyphs">%</tspan></text>
<text transform="translate(0 1033.3) scale(0.830 1.008)" x="1221.6 1239.4 1260.7 1273.3" y="0" fill="#ff0000" stroke="#ff0000" stroke-width="0.7" font-size="31">2.1<tspan textLength="22.8" lengthAdjust="spacingAndGlyphs">%</tspan></text>
<text transform="translate(0 1075.8) scale(0.830 1.008)" x="1222.6 1239.4 1259.4 1273.3" y="0" fill="#ff0000" stroke="#ff0000" stroke-width="0.7" font-size="31">1.4<tspan textLength="22.8" lengthAdjust="spacingAndGlyphs">%</tspan></text>
<text transform="translate(0 1118.3) scale(0.830 1.008)" x="1221.6 1239.4 1259.6 1273.3" y="0" fill="#ff0000" stroke="#ff0000" stroke-width="0.7" font-size="31">2.2<tspan textLength="22.8" lengthAdjust="spacingAndGlyphs">%</tspan></text>
<text transform="translate(0 1160.8) scale(0.830 1.008)" x="1221.6 1239.4 1258.8 1273.3" y="0" fill="#ff0000" stroke="#ff0000" stroke-width="0.7" font-size="31">2.7<tspan textLength="22.8" lengthAdjust="spacingAndGlyphs">%</tspan></text>
<text transform="translate(0 1203.3) scale(0.830 1.008)" x="1221.3 1239.4 1259.4 1273.3" y="0" fill="#ff0000" stroke="#ff0000" stroke-width="0.7" font-size="31">3.4<tspan textLength="22.8" lengthAdjust="spacingAndGlyphs">%</tspan></text>
<text transform="translate(0 1240) scale(0.830 1.008)" x="1221.6 1239.4 1259.2 1273.3" y="0" fill="#ff0000" stroke="#ff0000" stroke-width="0.7" font-size="31">2.6<tspan textLength="22.8" lengthAdjust="spacingAndGlyphs">%</tspan></text>
<text transform="translate(0 1282.1) scale(0.830 1.008)" x="1221.3 1240.2 1258.4 1278.6 1292.3" y="0" fill="#ff0000" stroke="#ff0000" stroke-width="0.7" font-size="31">36.9<tspan textLength="22.8" lengthAdjust="spacingAndGlyphs">%</tspan></text>
<text transform="translate(0 1325) scale(0.830 1.008)" x="1221.3 1240.3 1258.4 1278.6 1292.3" y="0" fill="#ff0000" stroke="#ff0000" stroke-width="0.7" font-size="31">43.2<tspan textLength="22.8" lengthAdjust="spacingAndGlyphs">%</tspan></text>
<text transform="translate(0 850.3) scale(0.830 1.008)" x="1290.7 1310 1327.8 1347.8 1368.1 1385.3 1404.6 1423.7 1443 1461.8 1480.9 1499.9 1520.2" y="0" fill="#000" stroke="#000" stroke-width="0.7" font-size="31"><tspan textLength="19" lengthAdjust="spacingAndGlyphs">+</tspan>2.01756<tspan textLength="18.5" lengthAdjust="spacingAndGlyphs">e</tspan><tspan textLength="19" lengthAdjust="spacingAndGlyphs">+</tspan>001</text>
<text transform="translate(0 889.9) scale(0.830 1.008)" x="1290.7 1311.1 1327.8 1347.8 1366.8 1386 1405 1423.6 1443 1461.8 1480.9 1499.9 1520.2" y="0" fill="#000" stroke="#000" stroke-width="0.7" font-size="31"><tspan textLength="19" lengthAdjust="spacingAndGlyphs">+</tspan>1.84995<tspan textLength="18.5" lengthAdjust="spacingAndGlyphs">e</tspan><tspan textLength="19" lengthAdjust="spacingAndGlyphs">+</tspan>001</text>
<text transform="translate(0 934.9) scale(0.830 1.008)" x="1290.7 1311.1 1327.8 1347.6 1366.8 1386 1404.7 1423.8 1443 1461.8 1480.9 1499.9 1520.2" y="0" fill="#000" stroke="#000" stroke-width="0.7" font-size="31"><tspan textLength="19" lengthAdjust="spacingAndGlyphs">+</tspan>1.68234<tspan textLength="18.5" lengthAdjust="spacingAndGlyphs">e</tspan><tspan textLength="19" lengthAdjust="spacingAndGlyphs">+</tspan>001</text>
<text transform="translate(0 972.9) scale(0.830 1.008)" x="1290.7 1311.1 1327.8 1347.5 1368.1 1385.8 1404.3 1423.7 1443 1461.8 1480.9 1499.9 1520.2" y="0" fill="#000" stroke="#000" stroke-width="0.7" font-size="31"><tspan textLength="19" lengthAdjust="spacingAndGlyphs">+</tspan>1.51473<tspan textLength="18.5" lengthAdjust="spacingAndGlyphs">e</tspan><tspan textLength="19" lengthAdjust="spacingAndGlyphs">+</tspan>001</text>
<text transform="translate(0 1014.8) scale(0.830 1.008)" x="1290.7 1311.1 1327.8 1347.7 1366.8 1385.3 1406.1 1424.1 1443 1461.8 1480.9 1499.9 1520.2" y="0" fill="#000" stroke="#000" stroke-width="0.7" font-size="31"><tspan textLength="19" lengthAdjust="spacingAndGlyphs">+</tspan>1.34712<tspan textLength="18.5" lengthAdjust="spacingAndGlyphs">e</tspan><tspan textLength="19" lengthAdjust="spacingAndGlyphs">+</tspan>001</text>
<text transform="translate(0 1056.9) scale(0.830 1.008)" x="1290.7 1311.1 1327.8 1349.1 1366.3 1386 1404.6 1425.1 1443 1461.8 1480.9 1499.9 1520.2" y="0" fill="#000" stroke="#000" stroke-width="0.7" font-size="31"><tspan textLength="19" lengthAdjust="spacingAndGlyphs">+</tspan>1.17951<tspan textLength="18.5" lengthAdjust="spacingAndGlyphs">e</tspan><tspan textLength="19" lengthAdjust="spacingAndGlyphs">+</tspan>001</text>
<text transform="translate(0 1099.2) scale(0.830 1.008)" x="1290.7 1311.1 1327.8 1347.8 1368.1 1387.1 1405 1423.9 1443 1461.8 1480.9 1499.9 1520.2" y="0" fill="#000" stroke="#000" stroke-width="0.7" font-size="31"><tspan textLength="19" lengthAdjust="spacingAndGlyphs">+</tspan>1.01190<tspan textLength="18.5" lengthAdjust="spacingAndGlyphs">e</tspan><tspan textLength="19" lengthAdjust="spacingAndGlyphs">+</tspan>001</text>
<text transform="translate(0 1142) scale(0.830 1.008)" x="1290.7 1309.8 1327.8 1347.8 1366.8 1386 1405 1423.7 1443 1461.8 1480.9 1499.9 1518.9" y="0" fill="#000" stroke="#000" stroke-width="0.7" font-size="31"><tspan textLength="19" lengthAdjust="spacingAndGlyphs">+</tspan>8.44293<tspan textLength="18.5" lengthAdjust="spacingAndGlyphs">e</tspan><tspan textLength="19" lengthAdjust="spacingAndGlyphs">+</tspan>000</text>
<text transform="translate(0 1178.6) scale(0.830 1.008)" x="1290.7 1309.6 1327.8 1347.3 1366.6 1385.6 1404.9 1423.7 1443 1461.8 1480.9 1499.9 1518.9" y="0" fill="#000" stroke="#000" stroke-width="0.7" font-size="31"><tspan textLength="19" lengthAdjust="spacingAndGlyphs">+</tspan>6.76683<tspan textLength="18.5" lengthAdjust="spacingAndGlyphs">e</tspan><tspan textLength="19" lengthAdjust="spacingAndGlyphs">+</tspan>000</text>
<text transform="translate(0 1221.1) scale(0.830 1.008)" x="1290.7 1309.5 1327.8 1347.8 1367 1385.9 1404.3 1423.7 1443 1461.8 1480.9 1499.9 1518.9" y="0" fill="#000" stroke="#000" stroke-width="0.7" font-size="31"><tspan textLength="19" lengthAdjust="spacingAndGlyphs">+</tspan>5.09073<tspan textLength="18.5" lengthAdjust="spacingAndGlyphs">e</tspan><tspan textLength="19" lengthAdjust="spacingAndGlyphs">+</tspan>000</text>
<text transform="translate(0 1263.7) scale(0.830 1.008)" x="1290.7 1309.7 1327.8 1347.8 1368.1 1385.8 1404.7 1423.7 1443 1461.8 1480.9 1499.9 1518.9" y="0" fill="#000" stroke="#000" stroke-width="0.7" font-size="31"><tspan textLength="19" lengthAdjust="spacingAndGlyphs">+</tspan>3.41463<tspan textLength="18.5" lengthAdjust="spacingAndGlyphs">e</tspan><tspan textLength="19" lengthAdjust="spacingAndGlyphs">+</tspan>000</text>
<text transform="translate(0 1305.8) scale(0.830 1.008)" x="1290.7 1311.1 1327.8 1347.3 1366.7 1385.9 1404.6 1424.1 1443 1461.8 1480.9 1499.9 1518.9" y="0" fill="#000" stroke="#000" stroke-width="0.7" font-size="31"><tspan textLength="19" lengthAdjust="spacingAndGlyphs">+</tspan>1.73852<tspan textLength="18.5" lengthAdjust="spacingAndGlyphs">e</tspan><tspan textLength="19" lengthAdjust="spacingAndGlyphs">+</tspan>000</text>
<text transform="translate(0 1346.2) scale(0.830 1.008)" x="1290.7 1309.6 1327.8 1348 1366.8 1386 1404.7 1423.7 1443 1461.6 1480.9 1499.9 1519.1" y="0" dy="0 0 0 0 0 0 0 0 0 -3 3 0 0" fill="#000" stroke="#000" stroke-width="0.7" font-size="31"><tspan textLength="19" lengthAdjust="spacingAndGlyphs">+</tspan>6.24233<tspan textLength="18.5" lengthAdjust="spacingAndGlyphs">e</tspan><tspan textLength="19.5" lengthAdjust="spacingAndGlyphs">-</tspan>002</text>
<text transform="translate(0 781.2) scale(0.780 1.008)" x="1256.4 1278.4 1296.1 1317.2 1337.5 1357.7 1377.7 1397.9 1416.5 1438.4 1457.6 1478" y="0" fill="#000" stroke="#000" stroke-width="0.8" font-size="27.6"><tspan textLength="18.1" lengthAdjust="spacingAndGlyphs">D</tspan><tspan textLength="14.4" lengthAdjust="spacingAndGlyphs">I</tspan><tspan textLength="19.4" lengthAdjust="spacingAndGlyphs">S</tspan><tspan textLength="18.1" lengthAdjust="spacingAndGlyphs">P</tspan><tspan textLength="18.6" lengthAdjust="spacingAndGlyphs">L</tspan><tspan textLength="17.6" lengthAdjust="spacingAndGlyphs">A</tspan>C<tspan textLength="18.8" lengthAdjust="spacingAndGlyphs">E</tspan><tspan textLength="21.4" lengthAdjust="spacingAndGlyphs">M</tspan><tspan textLength="18.8" lengthAdjust="spacingAndGlyphs">E</tspan>N<tspan textLength="19.8" lengthAdjust="spacingAndGlyphs">T</tspan></text>
<text transform="translate(0 810.1) scale(0.700 1.008)" x="1398.9 1422.5 1455.1 1470.7 1500.2 1511.9 1534.4" y="0" fill="#000" stroke="#000" stroke-width="0.8" font-size="27.6"><tspan textLength="22.1" lengthAdjust="spacingAndGlyphs">T</tspan>X , mm</text>
</g>
</g>
<g id="panel-f">
<clipPath id="ct-f"><polygon points="1315.1,900.2 1492.3,839.3 1499.6,839.3 1495.4,958.4"/></clipPath>
<polygon points="1315.1,900.2 1492.3,839.3 1499.6,839.3 1495.4,958.4 1495.4,961.3 1315.1,902.9" fill="#0000eb"/>
<polygon points="1496.4,839.3 1500.4,838.9 1532.6,850.7 1527.9,969.6 1527.8,971.7 1494.6,961 1494.6,958.5" fill="#000086"/>
<polygon points="1526.9,848.6 1532.6,850.7 1527.9,969.6 1522.3,967.7" fill="#0000eb" opacity="0.85"/>
<polygon points="1540.9,970.9 1546.3,969.2 1684.1,921.2 1721.4,911.3 1710,1231.3 1529.2,1292.2 1527,1292.2 1538.8,971.9" fill="#0000eb"/>
<polygon points="1684.1,921.8 1684.1,901.9 1721.5,911.3 1721.2,917.7 1704.2,920.7" fill="#000086"/>
<clipPath id="cr-f"><polygon points="1540.9,970.9 1546.3,969.2 1684.1,921.2 1721.4,911.3 1710,1231.3 1529.2,1292.2 1527,1292.2 1538.8,971.9"/></clipPath>
<path clip-path="url(#cr-f)" d="M1524 1059.5C1526.1 1059.6 1529.6 1059.6 1536.5 1060C1543.4 1060.4 1557.9 1060.6 1565.6 1061.8C1573.3 1063 1577.1 1064.6 1582.8 1066.9C1588.5 1069.2 1593.9 1072.1 1599.9 1075.5C1605.9 1078.9 1613.1 1081.5 1618.8 1087.5C1624.5 1093.5 1629.6 1104.3 1634.2 1111.5C1638.8 1118.7 1642 1125 1646.3 1130.4C1650.6 1135.8 1654 1140.4 1660 1144.1C1666 1147.8 1673.1 1151.6 1682.3 1152.7C1691.5 1153.8 1709.5 1151.1 1715 1150.8L1715 1400 L1524 1400 Z" fill="#0040f2"/>
<clipPath id="cf-f"><polygon points="1315.1,900.2 1527.9,969.4 1540.9,971.3 1529.2,1292.2 1522.3,1292.2 1302.2,1219.2"/></clipPath>
<polygon points="1315.1,900.2 1527.9,969.4 1540.9,971.3 1529.2,1292.2 1522.3,1292.2 1302.2,1219.2" fill="#000080"/>
<g clip-path="url(#cf-f)">
<path d="M1294 1180C1295 1166.7 1295.8 1118.1 1300 1100C1304.2 1081.9 1314.8 1078.7 1318.9 1071.4C1323.1 1064.1 1322.1 1063.4 1324.9 1056.3C1327.7 1049.2 1331.7 1037.8 1335.5 1028.9C1339.3 1020.1 1343.2 1011.3 1347.7 1003.2C1352.2 995.1 1357.8 986.7 1362.8 980.4C1367.8 974.1 1372.4 969.1 1378 965.2C1383.6 961.3 1388.6 956.9 1396.2 956.9C1403.8 956.9 1415.2 961 1423.5 965.2C1431.8 969.4 1438.7 975.1 1446.3 981.9C1453.9 988.7 1462.7 997.9 1469 1006.2C1475.3 1014.6 1479.1 1022.6 1484.2 1032C1489.3 1041.3 1494.9 1051.4 1499.4 1062.3C1504 1073.2 1508.7 1085.8 1511.5 1097.2C1514.3 1108.7 1515.2 1125.4 1516 1131L1531.5 1066L1549 1063L1549 1400 L1294 1400 Z" fill="#002680"/>
<path d="M1508.5 1201.3L1508.3 1214.6L1507.9 1223.5L1507.3 1230.6L1506.5 1236.6L1505.6 1241.8L1504.4 1246.3L1503 1250.2L1501.4 1253.7L1499.6 1256.8L1497.6 1259.4L1495.3 1261.7L1492.8 1263.5L1490.1 1265.1L1487.1 1266.3L1483.8 1267.1L1480.1 1267.6L1476.1 1267.8L1471.7 1267.5L1466.8 1266.9L1461.1 1265.8L1454.5 1264.1L1446.3 1261.7L1434.4 1257.7L1406.5 1247.9L1395.2 1243.7L1386.6 1240.2L1379.4 1236.8L1373 1233.5L1367.2 1230.1L1361.9 1226.7L1357.1 1223.1L1352.6 1219.3L1348.4 1215.4L1344.6 1211.4L1341.1 1207.1L1337.9 1202.7L1335 1198.1L1332.3 1193.2L1330 1188.1L1327.9 1182.8L1326 1177.1L1324.5 1171.1L1323.1 1164.7L1322.1 1157.7L1321.3 1150L1320.8 1141L1320.5 1129.2L1320.6 1127.2L1321.1 1119.6L1322 1111.1L1323.5 1102.3L1325.4 1093.2L1327.8 1084L1330.6 1074.8L1333.9 1065.8L1337.6 1057L1341.6 1048.5L1346 1040.4L1350.7 1032.7L1355.7 1025.5L1360.9 1018.8L1366.4 1012.6L1372 1007.1L1377.8 1002.3L1383.6 998.2L1389.4 994.7L1395.2 992L1401 990L1406.5 988.8L1411.7 988.3L1416.3 988.5L1419.8 989.3L1424.4 991.1L1429.4 993.8L1434.6 997.3L1440 1001.6L1445.5 1006.7L1450.9 1012.5L1456.3 1019L1461.6 1026.1L1466.8 1033.8L1471.8 1042.1L1476.6 1050.9L1481.1 1060.1L1485.4 1069.6L1489.4 1079.5L1493.1 1089.6L1496.4 1099.9L1499.3 1110.2L1501.9 1120.6L1504.1 1130.9L1505.8 1140.9L1507.1 1150.7L1508 1159.9L1508.4 1168.1Z" fill="#00668c"/>
<path d="M1499 1194.3L1498.8 1206.3L1498.4 1214.6L1497.9 1221.2L1497.1 1226.9L1496.2 1231.9L1495.1 1236.2L1493.7 1240.1L1492.2 1243.5L1490.5 1246.4L1488.6 1249.1L1486.4 1251.3L1484.1 1253.2L1481.5 1254.8L1478.7 1256L1475.6 1257L1472.2 1257.5L1468.4 1257.8L1464.3 1257.7L1459.8 1257.2L1454.6 1256.3L1448.7 1254.9L1441.4 1252.8L1431 1249.4L1408.8 1241.8L1399.1 1238.2L1391.5 1235.1L1385 1232L1379.2 1229L1373.9 1225.8L1369 1222.6L1364.5 1219.1L1360.3 1215.6L1356.4 1211.9L1352.9 1208L1349.6 1203.9L1346.5 1199.6L1343.8 1195.2L1341.3 1190.5L1339 1185.6L1337 1180.5L1335.3 1175.1L1333.8 1169.5L1332.5 1163.4L1331.5 1156.9L1330.8 1149.7L1330.3 1141.5L1330 1131L1330.1 1129.8L1330.5 1123.2L1331.4 1115.8L1332.7 1108L1334.4 1100.1L1336.6 1092.1L1339.1 1084.2L1342.1 1076.3L1345.3 1068.7L1349 1061.3L1352.9 1054.3L1357.2 1047.6L1361.7 1041.4L1366.4 1035.6L1371.3 1030.3L1376.4 1025.5L1381.6 1021.4L1386.8 1017.8L1392.1 1014.8L1397.4 1012.5L1402.5 1010.9L1407.5 1009.8L1412.2 1009.4L1416.4 1009.6L1419.6 1010.3L1423.8 1011.9L1428.3 1014.3L1433 1017.4L1437.8 1021.1L1442.7 1025.6L1447.6 1030.6L1452.4 1036.3L1457.1 1042.5L1461.8 1049.2L1466.2 1056.4L1470.5 1064L1474.6 1072L1478.4 1080.3L1482 1088.9L1485.2 1097.7L1488.2 1106.6L1490.8 1115.7L1493.1 1124.7L1495 1133.6L1496.6 1142.4L1497.8 1150.9L1498.6 1159L1499 1166.2Z" fill="#008080"/>
<path d="M1491 1188.2L1490.8 1198.8L1490.4 1206.4L1489.9 1212.6L1489.2 1218L1488.3 1222.7L1487.2 1226.8L1485.9 1230.5L1484.4 1233.8L1482.8 1236.7L1480.9 1239.3L1478.9 1241.5L1476.6 1243.5L1474.2 1245L1471.5 1246.3L1468.5 1247.3L1465.4 1247.9L1461.9 1248.3L1458 1248.3L1453.8 1247.9L1449.1 1247.2L1443.7 1246L1437.2 1244.2L1428.2 1241.4L1410.8 1235.5L1402.4 1232.5L1395.8 1229.7L1389.9 1226.9L1384.7 1224.1L1379.8 1221.2L1375.3 1218.1L1371.2 1214.9L1367.3 1211.5L1363.7 1208L1360.3 1204.2L1357.2 1200.3L1354.3 1196.3L1351.7 1192L1349.3 1187.5L1347.2 1182.9L1345.3 1178L1343.6 1172.9L1342.2 1167.5L1341 1161.8L1340.1 1155.8L1339.3 1149.2L1338.9 1141.7L1338.6 1132.6L1338.6 1132.1L1339 1126.3L1339.8 1119.8L1341 1112.9L1342.6 1105.9L1344.5 1098.9L1346.8 1091.9L1349.4 1085.1L1352.4 1078.4L1355.7 1071.9L1359.2 1065.7L1363 1059.9L1367.1 1054.4L1371.3 1049.4L1375.8 1044.8L1380.3 1040.6L1385 1037L1389.8 1033.9L1394.5 1031.3L1399.3 1029.3L1403.9 1027.9L1408.5 1027L1412.7 1026.7L1416.5 1026.9L1419.5 1027.5L1423.2 1028.9L1427.3 1031L1431.6 1033.7L1435.9 1037L1440.3 1040.9L1444.7 1045.4L1449.1 1050.3L1453.4 1055.8L1457.5 1061.7L1461.6 1068L1465.4 1074.7L1469.1 1081.7L1472.5 1089L1475.7 1096.5L1478.6 1104.3L1481.3 1112.1L1483.7 1120L1485.7 1128L1487.4 1135.9L1488.8 1143.6L1489.9 1151.1L1490.6 1158.2L1491 1164.6Z" fill="#00804a"/>
<path d="M1484 1182.9L1483.8 1192.1L1483.4 1199L1482.9 1204.8L1482.2 1209.8L1481.3 1214.3L1480.3 1218.2L1479 1221.8L1477.6 1225L1476 1227.9L1474.2 1230.4L1472.3 1232.6L1470.1 1234.5L1467.7 1236.1L1465.1 1237.4L1462.4 1238.5L1459.3 1239.2L1456 1239.6L1452.5 1239.7L1448.6 1239.5L1444.2 1238.9L1439.3 1237.9L1433.5 1236.4L1425.9 1234.1L1412.4 1229.6L1405.2 1227L1399.3 1224.5L1394 1222L1389.2 1219.4L1384.7 1216.6L1380.5 1213.7L1376.6 1210.6L1373 1207.4L1369.5 1204L1366.3 1200.4L1363.4 1196.6L1360.6 1192.7L1358.1 1188.6L1355.8 1184.3L1353.8 1179.8L1351.9 1175.2L1350.3 1170.4L1348.9 1165.3L1347.8 1160L1346.8 1154.3L1346.1 1148.3L1345.7 1141.6L1345.4 1133.7L1345.4 1134L1345.8 1128.8L1346.5 1123L1347.6 1117L1349 1110.8L1350.8 1104.6L1352.9 1098.4L1355.3 1092.4L1358 1086.5L1361 1080.8L1364.2 1075.3L1367.7 1070.2L1371.4 1065.4L1375.2 1061L1379.3 1056.9L1383.5 1053.3L1387.7 1050.1L1392.1 1047.4L1396.4 1045.2L1400.8 1043.4L1405.1 1042.2L1409.2 1041.4L1413.1 1041.2L1416.6 1041.4L1419.4 1042L1422.8 1043.2L1426.5 1045.1L1430.3 1047.5L1434.3 1050.4L1438.3 1053.8L1442.3 1057.8L1446.2 1062.1L1450.1 1067L1453.8 1072.2L1457.5 1077.7L1460.9 1083.6L1464.2 1089.8L1467.3 1096.3L1470.2 1102.9L1472.9 1109.8L1475.3 1116.7L1477.4 1123.7L1479.2 1130.7L1480.8 1137.7L1482.1 1144.6L1483 1151.2L1483.6 1157.5L1484 1163.2Z" fill="#008000"/>
<path d="M1469.5 1174.3L1469.3 1181L1469 1186.2L1468.6 1190.6L1468 1194.5L1467.2 1198.1L1466.3 1201.2L1465.3 1204.1L1464.1 1206.7L1462.8 1209L1461.3 1211.1L1459.6 1212.9L1457.8 1214.5L1455.8 1215.9L1453.7 1217L1451.4 1217.9L1448.9 1218.5L1446.3 1218.9L1443.4 1219L1440.3 1218.9L1436.9 1218.5L1433 1217.8L1428.7 1216.8L1423.1 1215.1L1414.2 1212.2L1408.8 1210.3L1404.2 1208.3L1399.9 1206.3L1396 1204.2L1392.4 1202L1388.9 1199.6L1385.6 1197L1382.5 1194.4L1379.6 1191.6L1376.9 1188.6L1374.4 1185.5L1372.1 1182.3L1369.9 1178.9L1367.9 1175.5L1366.1 1171.8L1364.6 1168.1L1363.2 1164.2L1362 1160.2L1360.9 1156L1360.1 1151.6L1359.5 1147L1359.1 1142L1358.9 1136.3L1358.9 1137.5L1359.2 1133.5L1359.8 1129.2L1360.7 1124.6L1361.8 1119.9L1363.3 1115.3L1365 1110.7L1366.9 1106.1L1369.1 1101.7L1371.5 1097.4L1374.2 1093.4L1377 1089.5L1380 1086L1383.1 1082.7L1386.4 1079.7L1389.8 1077L1393.3 1074.6L1396.8 1072.7L1400.4 1071L1403.9 1069.8L1407.4 1068.9L1410.8 1068.4L1414 1068.2L1416.9 1068.4L1419.1 1068.9L1421.8 1069.8L1424.7 1071.2L1427.7 1073.1L1430.8 1075.3L1433.9 1077.9L1437 1080.9L1440.1 1084.2L1443.1 1087.8L1446 1091.7L1448.8 1096L1451.5 1100.4L1454.1 1105.1L1456.5 1109.9L1458.8 1115L1460.8 1120.1L1462.7 1125.4L1464.4 1130.7L1465.8 1136L1467 1141.2L1468 1146.4L1468.7 1151.4L1469.2 1156.2L1469.5 1160.6Z" fill="#4a8000"/>
<path d="M1463 1170.2L1462.8 1175.6L1462.6 1180L1462.1 1183.8L1461.5 1187.3L1460.8 1190.5L1460 1193.3L1459 1196L1457.8 1198.4L1456.6 1200.6L1455.2 1202.5L1453.6 1204.3L1451.9 1205.8L1450.1 1207.1L1448.1 1208.2L1446 1209.1L1443.7 1209.8L1441.3 1210.2L1438.7 1210.5L1435.9 1210.4L1432.9 1210.2L1429.7 1209.7L1426 1208.8L1421.5 1207.6L1415.2 1205.6L1410.8 1204L1406.9 1202.3L1403.2 1200.5L1399.7 1198.6L1396.4 1196.6L1393.2 1194.4L1390.2 1192L1387.4 1189.5L1384.7 1186.9L1382.2 1184.2L1379.8 1181.3L1377.6 1178.3L1375.5 1175.1L1373.7 1171.9L1372 1168.6L1370.4 1165.1L1369.1 1161.6L1367.9 1158L1367 1154.2L1366.2 1150.4L1365.6 1146.3L1365.2 1142.1L1365 1137.5L1365 1139.1L1365.3 1135.7L1365.8 1131.9L1366.6 1128L1367.6 1124L1368.9 1120L1370.4 1116.1L1372.2 1112.2L1374.1 1108.4L1376.3 1104.8L1378.6 1101.4L1381.2 1098.1L1383.8 1095.1L1386.7 1092.3L1389.6 1089.7L1392.7 1087.5L1395.8 1085.5L1398.9 1083.8L1402.1 1082.4L1405.3 1081.4L1408.4 1080.7L1411.5 1080.2L1414.4 1080.1L1417 1080.3L1419 1080.7L1421.3 1081.6L1423.9 1082.8L1426.5 1084.3L1429.2 1086.3L1431.9 1088.5L1434.7 1091L1437.3 1093.9L1440 1097L1442.5 1100.3L1445 1103.9L1447.4 1107.7L1449.6 1111.7L1451.7 1115.9L1453.7 1120.2L1455.5 1124.6L1457.1 1129.1L1458.5 1133.6L1459.8 1138.2L1460.8 1142.7L1461.7 1147.1L1462.3 1151.4L1462.8 1155.6L1463 1159.3Z" fill="#808000"/>
<path d="M1456.6 1166.3L1456.4 1170.4L1456.2 1173.8L1455.8 1177L1455.2 1179.9L1454.5 1182.6L1453.7 1185.1L1452.8 1187.4L1451.7 1189.5L1450.5 1191.4L1449.2 1193.2L1447.8 1194.8L1446.2 1196.2L1444.5 1197.4L1442.7 1198.4L1440.8 1199.3L1438.8 1199.9L1436.6 1200.4L1434.3 1200.6L1431.9 1200.7L1429.4 1200.5L1426.6 1200.2L1423.7 1199.6L1420.3 1198.7L1416.2 1197.4L1412.9 1196.2L1409.8 1194.9L1406.9 1193.4L1404 1191.8L1401.3 1190L1398.6 1188.1L1396.1 1186L1393.7 1183.8L1391.3 1181.5L1389.1 1179.1L1387 1176.5L1385.1 1173.9L1383.3 1171.1L1381.6 1168.3L1380.1 1165.3L1378.8 1162.3L1377.6 1159.3L1376.5 1156.2L1375.7 1153L1375 1149.8L1374.4 1146.5L1374.1 1143.1L1373.9 1139.7L1373.9 1141.3L1374.1 1138.5L1374.6 1135.4L1375.2 1132.2L1376.1 1129L1377.1 1125.7L1378.4 1122.5L1379.8 1119.4L1381.5 1116.3L1383.3 1113.4L1385.2 1110.5L1387.3 1107.9L1389.5 1105.4L1391.9 1103.2L1394.3 1101.1L1396.9 1099.3L1399.4 1097.7L1402.1 1096.3L1404.7 1095.2L1407.4 1094.4L1410 1093.8L1412.5 1093.5L1415 1093.4L1417.1 1093.6L1418.8 1093.9L1420.9 1094.6L1423.1 1095.6L1425.3 1096.9L1427.7 1098.5L1430 1100.3L1432.3 1102.4L1434.6 1104.7L1436.9 1107.2L1439.1 1110L1441.2 1112.9L1443.2 1116L1445.1 1119.3L1446.9 1122.7L1448.6 1126.2L1450.1 1129.8L1451.5 1133.5L1452.8 1137.2L1453.8 1140.9L1454.7 1144.5L1455.5 1148.2L1456 1151.7L1456.4 1155.1L1456.6 1158.1Z" fill="#806400"/>
<path d="M1449.8 1162.8L1449.7 1165.5L1449.4 1168.1L1449 1170.5L1448.5 1172.7L1447.9 1174.9L1447.2 1176.9L1446.3 1178.8L1445.3 1180.5L1444.3 1182.2L1443.1 1183.7L1441.8 1185L1440.4 1186.2L1438.9 1187.3L1437.3 1188.2L1435.6 1189L1433.9 1189.6L1432 1190L1430.1 1190.3L1428.1 1190.4L1426.1 1190.4L1423.9 1190.2L1421.7 1189.8L1419.3 1189.2L1416.9 1188.4L1414.6 1187.6L1412.3 1186.5L1410 1185.4L1407.7 1184L1405.5 1182.5L1403.3 1180.9L1401.2 1179.2L1399.1 1177.3L1397.2 1175.4L1395.3 1173.3L1393.5 1171.1L1391.8 1168.9L1390.3 1166.5L1388.8 1164.1L1387.5 1161.7L1386.3 1159.2L1385.2 1156.7L1384.3 1154.2L1383.6 1151.6L1383 1149.1L1382.5 1146.6L1382.2 1144.1L1382 1141.6L1382 1143.4L1382.2 1141.2L1382.6 1138.9L1383.1 1136.5L1383.8 1134.1L1384.6 1131.7L1385.7 1129.3L1386.8 1126.9L1388.2 1124.6L1389.6 1122.5L1391.2 1120.4L1392.9 1118.4L1394.7 1116.6L1396.6 1114.9L1398.6 1113.4L1400.7 1112.1L1402.8 1110.9L1405 1110L1407.1 1109.2L1409.3 1108.6L1411.4 1108.2L1413.5 1108L1415.5 1107.9L1417.3 1108.1L1418.7 1108.4L1420.4 1108.9L1422.2 1109.7L1424.1 1110.7L1426 1111.9L1427.9 1113.3L1429.9 1114.9L1431.7 1116.6L1433.6 1118.6L1435.4 1120.7L1437.1 1122.9L1438.8 1125.2L1440.4 1127.7L1441.9 1130.3L1443.2 1132.9L1444.5 1135.6L1445.6 1138.4L1446.7 1141.2L1447.5 1144L1448.3 1146.7L1448.9 1149.5L1449.3 1152.1L1449.6 1154.7L1449.8 1157Z" fill="#802800"/>
<path d="M1438.5 1158.4L1438.4 1160L1438.2 1161.6L1437.9 1163.2L1437.6 1164.8L1437.1 1166.3L1436.6 1167.8L1436 1169.2L1435.3 1170.6L1434.5 1171.8L1433.6 1173L1432.7 1174.1L1431.7 1175.1L1430.7 1176.1L1429.6 1176.9L1428.5 1177.5L1427.3 1178.1L1426.1 1178.6L1424.8 1178.9L1423.6 1179.1L1422.3 1179.2L1421 1179.2L1419.8 1179.1L1418.6 1178.9L1417.4 1178.5L1416.1 1178L1414.6 1177.3L1413.1 1176.4L1411.5 1175.5L1410 1174.4L1408.5 1173.2L1406.9 1171.8L1405.5 1170.4L1404 1168.9L1402.6 1167.3L1401.3 1165.7L1400 1163.9L1398.8 1162.2L1397.7 1160.3L1396.7 1158.5L1395.8 1156.6L1395 1154.8L1394.3 1152.9L1393.7 1151.1L1393.2 1149.3L1392.9 1147.6L1392.6 1146L1392.5 1144.5L1392.5 1145.9L1392.6 1144.6L1392.9 1143.2L1393.3 1141.8L1393.8 1140.3L1394.4 1138.9L1395.1 1137.4L1395.9 1136L1396.8 1134.7L1397.9 1133.4L1399 1132.2L1400.2 1131L1401.5 1130L1402.8 1129L1404.3 1128.2L1405.7 1127.4L1407.2 1126.7L1408.7 1126.2L1410.3 1125.8L1411.8 1125.4L1413.3 1125.2L1414.8 1125.2L1416.2 1125.2L1417.5 1125.3L1418.5 1125.5L1419.6 1125.9L1420.7 1126.3L1421.9 1126.9L1423.2 1127.7L1424.4 1128.5L1425.7 1129.5L1426.9 1130.6L1428.1 1131.8L1429.2 1133L1430.4 1134.4L1431.4 1135.8L1432.4 1137.3L1433.4 1138.8L1434.3 1140.4L1435.1 1142.1L1435.8 1143.7L1436.5 1145.4L1437 1147.1L1437.5 1148.8L1437.9 1150.5L1438.2 1152.1L1438.4 1153.6L1438.5 1155Z" fill="#800000"/>
</g>
<clipPath id="ce-f"><polygon points="1535.4,973.7 1539.4,973.7 1526.5,1291.5 1522.5,1291.5"/></clipPath>
<g clip-path="url(#ce-f)">
<line x1="1537.4" y1="973.7" x2="1524.5" y2="1291.5" stroke="#0a12d8" stroke-width="2.4"/>
<path d="M1524 1059.5C1526.1 1059.6 1529.6 1059.6 1536.5 1060C1543.4 1060.4 1557.9 1060.6 1565.6 1061.8C1573.3 1063 1577.1 1064.6 1582.8 1066.9C1588.5 1069.2 1593.9 1072.1 1599.9 1075.5C1605.9 1078.9 1613.1 1081.5 1618.8 1087.5C1624.5 1093.5 1629.6 1104.3 1634.2 1111.5C1638.8 1118.7 1642 1125 1646.3 1130.4C1650.6 1135.8 1654 1140.4 1660 1144.1C1666 1147.8 1673.1 1151.6 1682.3 1152.7C1691.5 1153.8 1709.5 1151.1 1715 1150.8L1715 1400 L1524 1400 Z" fill="#0a44e6" transform="translate(-12 2)"/>
</g>
<g clip-path="url(#cr-f)" fill="#000064" opacity="0.8">
<rect x="1501.7" y="976.1" width="2.4" height="7"/>
<rect x="1514.8" y="969.3" width="2.4" height="7"/>
<rect x="1527.8" y="962.5" width="2.4" height="7"/>
<rect x="1540.8" y="955.6" width="2.4" height="7"/>
<rect x="1553.8" y="948.8" width="2.4" height="7"/>
<rect x="1566.9" y="942" width="2.4" height="7"/>
<rect x="1579.9" y="935.2" width="2.4" height="7"/>
<rect x="1592.9" y="928.4" width="2.4" height="7"/>
<rect x="1606" y="921.6" width="2.4" height="7"/>
<rect x="1619" y="914.8" width="2.4" height="7"/>
<rect x="1632" y="908" width="2.4" height="7"/>
<rect x="1645" y="901.2" width="2.4" height="7"/>
<rect x="1658.1" y="894.4" width="2.4" height="7"/>
<rect x="1671.1" y="887.6" width="2.4" height="7"/>
<rect x="1684.1" y="880.8" width="2.4" height="7"/>
<rect x="1697.2" y="874" width="2.4" height="7"/>
<rect x="1710.2" y="867.2" width="2.4" height="7"/>
<rect x="1723.2" y="860.4" width="2.4" height="7"/>
<rect x="1499.2" y="1036.5" width="2.4" height="7"/>
<rect x="1512.2" y="1029.7" width="2.4" height="7"/>
<rect x="1525.2" y="1022.9" width="2.4" height="7"/>
<rect x="1538.2" y="1016.1" width="2.4" height="7"/>
<rect x="1551.3" y="1009.3" width="2.4" height="7"/>
<rect x="1564.3" y="1002.5" width="2.4" height="7"/>
<rect x="1577.3" y="995.7" width="2.4" height="7"/>
<rect x="1590.4" y="988.9" width="2.4" height="7"/>
<rect x="1603.4" y="982.1" width="2.4" height="7"/>
<rect x="1616.4" y="975.3" width="2.4" height="7"/>
<rect x="1629.4" y="968.5" width="2.4" height="7"/>
<rect x="1642.5" y="961.7" width="2.4" height="7"/>
<rect x="1655.5" y="954.9" width="2.4" height="7"/>
<rect x="1668.5" y="948.1" width="2.4" height="7"/>
<rect x="1681.6" y="941.3" width="2.4" height="7"/>
<rect x="1694.6" y="934.5" width="2.4" height="7"/>
<rect x="1707.6" y="927.7" width="2.4" height="7"/>
<rect x="1720.6" y="920.9" width="2.4" height="7"/>
<rect x="1509.6" y="1090.2" width="2.4" height="7"/>
<rect x="1522.7" y="1083.4" width="2.4" height="7"/>
<rect x="1535.7" y="1076.6" width="2.4" height="7"/>
<rect x="1548.7" y="1069.8" width="2.4" height="7"/>
<rect x="1561.7" y="1063" width="2.4" height="7"/>
<rect x="1574.8" y="1056.2" width="2.4" height="7"/>
<rect x="1587.8" y="1049.4" width="2.4" height="7"/>
<rect x="1600.8" y="1042.6" width="2.4" height="7"/>
<rect x="1613.9" y="1035.8" width="2.4" height="7"/>
<rect x="1626.9" y="1029" width="2.4" height="7"/>
<rect x="1639.9" y="1022.2" width="2.4" height="7"/>
<rect x="1652.9" y="1015.4" width="2.4" height="7"/>
<rect x="1666" y="1008.6" width="2.4" height="7"/>
<rect x="1679" y="1001.7" width="2.4" height="7"/>
<rect x="1692" y="994.9" width="2.4" height="7"/>
<rect x="1705.1" y="988.1" width="2.4" height="7"/>
<rect x="1718.1" y="981.3" width="2.4" height="7"/>
<rect x="1507.1" y="1150.7" width="2.4" height="7"/>
<rect x="1520.1" y="1143.9" width="2.4" height="7"/>
<rect x="1533.1" y="1137.1" width="2.4" height="7"/>
<rect x="1546.1" y="1130.3" width="2.4" height="7"/>
<rect x="1559.2" y="1123.5" width="2.4" height="7"/>
<rect x="1572.2" y="1116.7" width="2.4" height="7"/>
<rect x="1585.2" y="1109.9" width="2.4" height="7"/>
<rect x="1598.3" y="1103.1" width="2.4" height="7"/>
<rect x="1611.3" y="1096.2" width="2.4" height="7"/>
<rect x="1624.3" y="1089.4" width="2.4" height="7"/>
<rect x="1637.3" y="1082.6" width="2.4" height="7"/>
<rect x="1650.4" y="1075.8" width="2.4" height="7"/>
<rect x="1663.4" y="1069" width="2.4" height="7"/>
<rect x="1676.4" y="1062.2" width="2.4" height="7"/>
<rect x="1689.5" y="1055.4" width="2.4" height="7"/>
<rect x="1702.5" y="1048.6" width="2.4" height="7"/>
<rect x="1715.5" y="1041.8" width="2.4" height="7"/>
<rect x="1504.5" y="1211.2" width="2.4" height="7"/>
<rect x="1517.5" y="1204.4" width="2.4" height="7"/>
<rect x="1530.5" y="1197.6" width="2.4" height="7"/>
<rect x="1543.6" y="1190.8" width="2.4" height="7"/>
<rect x="1556.6" y="1183.9" width="2.4" height="7"/>
<rect x="1569.6" y="1177.1" width="2.4" height="7"/>
<rect x="1582.7" y="1170.3" width="2.4" height="7"/>
<rect x="1595.7" y="1163.5" width="2.4" height="7"/>
<rect x="1608.7" y="1156.7" width="2.4" height="7"/>
<rect x="1621.7" y="1149.9" width="2.4" height="7"/>
<rect x="1634.8" y="1143.1" width="2.4" height="7"/>
<rect x="1647.8" y="1136.3" width="2.4" height="7"/>
<rect x="1660.8" y="1129.5" width="2.4" height="7"/>
<rect x="1673.9" y="1122.7" width="2.4" height="7"/>
<rect x="1686.9" y="1115.9" width="2.4" height="7"/>
<rect x="1699.9" y="1109.1" width="2.4" height="7"/>
<rect x="1712.9" y="1102.3" width="2.4" height="7"/>
<rect x="1501.9" y="1271.6" width="2.4" height="7"/>
<rect x="1515" y="1264.8" width="2.4" height="7"/>
<rect x="1528" y="1258" width="2.4" height="7"/>
<rect x="1541" y="1251.2" width="2.4" height="7"/>
<rect x="1554" y="1244.4" width="2.4" height="7"/>
<rect x="1567.1" y="1237.6" width="2.4" height="7"/>
<rect x="1580.1" y="1230.8" width="2.4" height="7"/>
<rect x="1593.1" y="1224" width="2.4" height="7"/>
<rect x="1606.2" y="1217.2" width="2.4" height="7"/>
<rect x="1619.2" y="1210.4" width="2.4" height="7"/>
<rect x="1632.2" y="1203.6" width="2.4" height="7"/>
<rect x="1645.2" y="1196.8" width="2.4" height="7"/>
<rect x="1658.3" y="1190" width="2.4" height="7"/>
<rect x="1671.3" y="1183.2" width="2.4" height="7"/>
<rect x="1684.3" y="1176.4" width="2.4" height="7"/>
<rect x="1697.4" y="1169.6" width="2.4" height="7"/>
<rect x="1710.4" y="1162.8" width="2.4" height="7"/>
<rect x="1723.4" y="1156" width="2.4" height="7"/>
<rect x="1499.4" y="1332.1" width="2.4" height="7"/>
<rect x="1512.4" y="1325.3" width="2.4" height="7"/>
<rect x="1525.4" y="1318.5" width="2.4" height="7"/>
<rect x="1538.4" y="1311.7" width="2.4" height="7"/>
<rect x="1551.5" y="1304.9" width="2.4" height="7"/>
<rect x="1564.5" y="1298.1" width="2.4" height="7"/>
<rect x="1577.5" y="1291.3" width="2.4" height="7"/>
<rect x="1590.6" y="1284.5" width="2.4" height="7"/>
<rect x="1603.6" y="1277.7" width="2.4" height="7"/>
<rect x="1616.6" y="1270.9" width="2.4" height="7"/>
<rect x="1629.6" y="1264.1" width="2.4" height="7"/>
<rect x="1642.7" y="1257.3" width="2.4" height="7"/>
<rect x="1655.7" y="1250.5" width="2.4" height="7"/>
<rect x="1668.7" y="1243.7" width="2.4" height="7"/>
<rect x="1681.8" y="1236.9" width="2.4" height="7"/>
<rect x="1694.8" y="1230" width="2.4" height="7"/>
<rect x="1707.8" y="1223.2" width="2.4" height="7"/>
<rect x="1720.8" y="1216.4" width="2.4" height="7"/>
<rect x="1509.8" y="1385.8" width="2.4" height="7"/>
<rect x="1522.9" y="1379" width="2.4" height="7"/>
<rect x="1535.9" y="1372.2" width="2.4" height="7"/>
<rect x="1548.9" y="1365.4" width="2.4" height="7"/>
<rect x="1561.9" y="1358.6" width="2.4" height="7"/>
<rect x="1575" y="1351.8" width="2.4" height="7"/>
<rect x="1588" y="1345" width="2.4" height="7"/>
<rect x="1601" y="1338.2" width="2.4" height="7"/>
<rect x="1614" y="1331.4" width="2.4" height="7"/>
<rect x="1627.1" y="1324.5" width="2.4" height="7"/>
<rect x="1640.1" y="1317.7" width="2.4" height="7"/>
<rect x="1653.1" y="1310.9" width="2.4" height="7"/>
<rect x="1666.2" y="1304.1" width="2.4" height="7"/>
<rect x="1679.2" y="1297.3" width="2.4" height="7"/>
<rect x="1692.2" y="1290.5" width="2.4" height="7"/>
<rect x="1705.2" y="1283.7" width="2.4" height="7"/>
<rect x="1718.3" y="1276.9" width="2.4" height="7"/>
<rect x="1507.3" y="1446.3" width="2.4" height="7"/>
<rect x="1520.3" y="1439.5" width="2.4" height="7"/>
<rect x="1533.3" y="1432.7" width="2.4" height="7"/>
<rect x="1546.3" y="1425.9" width="2.4" height="7"/>
<rect x="1559.4" y="1419.1" width="2.4" height="7"/>
<rect x="1572.4" y="1412.2" width="2.4" height="7"/>
<rect x="1585.4" y="1405.4" width="2.4" height="7"/>
<rect x="1598.5" y="1398.6" width="2.4" height="7"/>
<rect x="1611.5" y="1391.8" width="2.4" height="7"/>
<rect x="1624.5" y="1385" width="2.4" height="7"/>
<rect x="1637.5" y="1378.2" width="2.4" height="7"/>
<rect x="1650.6" y="1371.4" width="2.4" height="7"/>
<rect x="1663.6" y="1364.6" width="2.4" height="7"/>
<rect x="1676.6" y="1357.8" width="2.4" height="7"/>
<rect x="1689.7" y="1351" width="2.4" height="7"/>
<rect x="1702.7" y="1344.2" width="2.4" height="7"/>
<rect x="1715.7" y="1337.4" width="2.4" height="7"/>
</g>
<g clip-path="url(#ct-f)" fill="#000064" opacity="0.8">
<rect x="1342.9" y="936" width="2.4" height="7"/>
<rect x="1356" y="929" width="2.4" height="7"/>
<rect x="1369.2" y="922.1" width="2.4" height="7"/>
<rect x="1382.3" y="915.2" width="2.4" height="7"/>
<rect x="1395.4" y="908.3" width="2.4" height="7"/>
<rect x="1408.6" y="901.4" width="2.4" height="7"/>
<rect x="1421.7" y="894.4" width="2.4" height="7"/>
<rect x="1434.8" y="887.5" width="2.4" height="7"/>
<rect x="1447.9" y="880.6" width="2.4" height="7"/>
<rect x="1461.1" y="873.7" width="2.4" height="7"/>
<rect x="1474.2" y="866.7" width="2.4" height="7"/>
<rect x="1487.3" y="859.8" width="2.4" height="7"/>
<rect x="1340" y="998" width="2.4" height="7"/>
<rect x="1353.1" y="991.1" width="2.4" height="7"/>
<rect x="1366.2" y="984.2" width="2.4" height="7"/>
<rect x="1379.3" y="977.2" width="2.4" height="7"/>
<rect x="1392.5" y="970.3" width="2.4" height="7"/>
<rect x="1405.6" y="963.4" width="2.4" height="7"/>
<rect x="1418.7" y="956.5" width="2.4" height="7"/>
<rect x="1431.8" y="949.5" width="2.4" height="7"/>
<rect x="1445" y="942.6" width="2.4" height="7"/>
<rect x="1458.1" y="935.7" width="2.4" height="7"/>
<rect x="1471.2" y="928.8" width="2.4" height="7"/>
<rect x="1484.4" y="921.9" width="2.4" height="7"/>
<rect x="1497.5" y="914.9" width="2.4" height="7"/>
</g>
<rect x="1619" y="836.5" width="15" height="488.8" fill="#000"/>
<rect x="1620.9" y="838.6" width="11.4" height="37.5" fill="#ff0000"/>
<rect x="1620.9" y="877.9" width="11.4" height="40.1" fill="#ff5000"/>
<rect x="1620.9" y="919.8" width="11.4" height="37.6" fill="#ffc800"/>
<rect x="1620.9" y="959.2" width="11.4" height="39.4" fill="#ffff00"/>
<rect x="1620.9" y="1000.4" width="11.4" height="37.5" fill="#96ff00"/>
<rect x="1620.9" y="1039.7" width="11.4" height="40" fill="#00ff00"/>
<rect x="1620.9" y="1081.5" width="11.4" height="40.1" fill="#00f000"/>
<rect x="1620.9" y="1123.4" width="11.4" height="37.5" fill="#00ff8c"/>
<rect x="1620.9" y="1162.7" width="11.4" height="39.6" fill="#00ffff"/>
<rect x="1620.9" y="1204.1" width="11.4" height="37.5" fill="#00dcff"/>
<rect x="1620.9" y="1243.4" width="11.4" height="39.6" fill="#0050ff"/>
<rect x="1620.9" y="1284.8" width="11.4" height="38.7" fill="#0000ff"/>
<rect x="1634" y="836.9" width="73.1" height="1.7" fill="#9c9c9c" opacity="0.93"/>
<rect x="1634" y="876.1" width="73.1" height="1.7" fill="#9c9c9c" opacity="0.93"/>
<rect x="1634" y="918" width="73.1" height="1.7" fill="#9c9c9c" opacity="0.93"/>
<rect x="1634" y="957.4" width="73.1" height="1.7" fill="#9c9c9c" opacity="0.93"/>
<rect x="1634" y="998.6" width="73.1" height="1.7" fill="#9c9c9c" opacity="0.93"/>
<rect x="1634" y="1037.9" width="73.1" height="1.7" fill="#9c9c9c" opacity="0.93"/>
<rect x="1634" y="1079.7" width="73.1" height="1.7" fill="#9c9c9c" opacity="0.93"/>
<rect x="1634" y="1121.7" width="73.1" height="1.7" fill="#9c9c9c" opacity="0.93"/>
<rect x="1634" y="1160.9" width="73.1" height="1.7" fill="#9c9c9c" opacity="0.93"/>
<rect x="1634" y="1202.4" width="73.1" height="1.7" fill="#9c9c9c" opacity="0.93"/>
<rect x="1634" y="1241.6" width="73.1" height="1.7" fill="#9c9c9c" opacity="0.93"/>
<rect x="1634" y="1283.1" width="73.1" height="1.7" fill="#9c9c9c" opacity="0.93"/>
<rect x="1634" y="1323.6" width="73.1" height="1.7" fill="#9c9c9c" opacity="0.93"/>
<g font-family="'Liberation Serif', 'Times New Roman', serif">
<text transform="translate(0 865.8) scale(0.819 0.991)" x="2020.6 2037.4 2057.6 2071.3" y="0" fill="#ff0000" stroke="#ff0000" stroke-width="0.7" font-size="31">1.2<tspan textLength="22.8" lengthAdjust="spacingAndGlyphs">%</tspan></text>
<text transform="translate(0 907.1) scale(0.819 0.991)" x="2020.6 2037.4 2057.6 2071.3" y="0" fill="#ff0000" stroke="#ff0000" stroke-width="0.7" font-size="31">1.2<tspan textLength="22.8" lengthAdjust="spacingAndGlyphs">%</tspan></text>
<text transform="translate(0 948.9) scale(0.819 0.991)" x="2020.6 2037.4 2057.3 2071.3" y="0" fill="#ff0000" stroke="#ff0000" stroke-width="0.7" font-size="31">1.3<tspan textLength="22.8" lengthAdjust="spacingAndGlyphs">%</tspan></text>
<text transform="translate(0 990.4) scale(0.819 0.991)" x="2020.6 2037.4 2057.3 2071.3" y="0" fill="#ff0000" stroke="#ff0000" stroke-width="0.7" font-size="31">1.3<tspan textLength="22.8" lengthAdjust="spacingAndGlyphs">%</tspan></text>
<text transform="translate(0 1027.6) scale(0.819 0.991)" x="2020.6 2037.4 2057.6 2071.3" y="0" fill="#ff0000" stroke="#ff0000" stroke-width="0.7" font-size="31">1.2<tspan textLength="22.8" lengthAdjust="spacingAndGlyphs">%</tspan></text>
<text transform="translate(0 1069.3) scale(0.819 0.991)" x="2019.5 2037.4 2057.3 2071.3" y="0" fill="#ff0000" stroke="#ff0000" stroke-width="0.7" font-size="31">2.3<tspan textLength="22.8" lengthAdjust="spacingAndGlyphs">%</tspan></text>
<text transform="translate(0 1111.1) scale(0.819 0.991)" x="2020.6 2037.4 2057.2 2071.3" y="0" fill="#ff0000" stroke="#ff0000" stroke-width="0.7" font-size="31">1.6<tspan textLength="22.8" lengthAdjust="spacingAndGlyphs">%</tspan></text>
<text transform="translate(0 1152.9) scale(0.819 0.991)" x="2019.5 2037.4 2057.2 2071.3" y="0" fill="#ff0000" stroke="#ff0000" stroke-width="0.7" font-size="31">2.6<tspan textLength="22.8" lengthAdjust="spacingAndGlyphs">%</tspan></text>
<text transform="translate(0 1194.7) scale(0.819 0.991)" x="2019.5 2037.4 2057.5 2071.3" y="0" fill="#ff0000" stroke="#ff0000" stroke-width="0.7" font-size="31">2.9<tspan textLength="22.8" lengthAdjust="spacingAndGlyphs">%</tspan></text>
<text transform="translate(0 1230.8) scale(0.819 0.991)" x="2019.2 2037.4 2058.7 2071.3" y="0" fill="#ff0000" stroke="#ff0000" stroke-width="0.7" font-size="31">3.1<tspan textLength="22.8" lengthAdjust="spacingAndGlyphs">%</tspan></text>
<text transform="translate(0 1272.1) scale(0.819 0.991)" x="2019.2 2038.4 2056.4 2076.6 2090.3" y="0" fill="#ff0000" stroke="#ff0000" stroke-width="0.7" font-size="31">38.2<tspan textLength="22.8" lengthAdjust="spacingAndGlyphs">%</tspan></text>
<text transform="translate(0 1314.4) scale(0.819 0.991)" x="2019.3 2038.3 2056.4 2076.6 2090.3" y="0" fill="#ff0000" stroke="#ff0000" stroke-width="0.7" font-size="31">43.2<tspan textLength="22.8" lengthAdjust="spacingAndGlyphs">%</tspan></text>
<text transform="translate(0 847.6) scale(0.819 0.991)" x="2088.7 2108 2125.8 2145.5 2164.7 2183.5 2203 2221.8 2241 2259.8 2278.9 2297.9 2318.2" y="0" fill="#000" stroke="#000" stroke-width="0.7" font-size="31"><tspan textLength="19" lengthAdjust="spacingAndGlyphs">+</tspan>2.53594<tspan textLength="18.5" lengthAdjust="spacingAndGlyphs">e</tspan><tspan textLength="19" lengthAdjust="spacingAndGlyphs">+</tspan>001</text>
<text transform="translate(0 886.6) scale(0.819 0.991)" x="2088.7 2108 2125.8 2145.7 2165 2183.5 2202.6 2221.6 2241 2259.8 2278.9 2297.9 2318.2" y="0" fill="#000" stroke="#000" stroke-width="0.7" font-size="31"><tspan textLength="19" lengthAdjust="spacingAndGlyphs">+</tspan>2.32565<tspan textLength="18.5" lengthAdjust="spacingAndGlyphs">e</tspan><tspan textLength="19" lengthAdjust="spacingAndGlyphs">+</tspan>001</text>
<text transform="translate(0 930.8) scale(0.819 0.991)" x="2088.7 2108 2125.8 2147.1 2166.1 2183.5 2202.7 2221.3 2241 2259.8 2278.9 2297.9 2318.2" y="0" fill="#000" stroke="#000" stroke-width="0.7" font-size="31"><tspan textLength="19" lengthAdjust="spacingAndGlyphs">+</tspan>2.11537<tspan textLength="18.5" lengthAdjust="spacingAndGlyphs">e</tspan><tspan textLength="19" lengthAdjust="spacingAndGlyphs">+</tspan>001</text>
<text transform="translate(0 968.2) scale(0.819 0.991)" x="2088.7 2109 2125.8 2145.9 2164.8 2183.5 2202.8 2222 2241 2259.8 2278.9 2297.9 2318.2" y="0" fill="#000" stroke="#000" stroke-width="0.7" font-size="31"><tspan textLength="19" lengthAdjust="spacingAndGlyphs">+</tspan>1.90509<tspan textLength="18.5" lengthAdjust="spacingAndGlyphs">e</tspan><tspan textLength="19" lengthAdjust="spacingAndGlyphs">+</tspan>001</text>
<text transform="translate(0 1009.3) scale(0.819 0.991)" x="2088.7 2109 2125.8 2145.6 2165 2183.8 2202.8 2223.1 2241 2259.8 2278.9 2297.9 2318.2" y="0" fill="#000" stroke="#000" stroke-width="0.7" font-size="31"><tspan textLength="19" lengthAdjust="spacingAndGlyphs">+</tspan>1.69481<tspan textLength="18.5" lengthAdjust="spacingAndGlyphs">e</tspan><tspan textLength="19" lengthAdjust="spacingAndGlyphs">+</tspan>001</text>
<text transform="translate(0 1050.8) scale(0.819 0.991)" x="2088.7 2109 2125.8 2145.7 2164.8 2183.8 2202.6 2222 2241 2259.8 2278.9 2297.9 2318.2" y="0" fill="#000" stroke="#000" stroke-width="0.7" font-size="31"><tspan textLength="19" lengthAdjust="spacingAndGlyphs">+</tspan>1.48452<tspan textLength="18.5" lengthAdjust="spacingAndGlyphs">e</tspan><tspan textLength="19" lengthAdjust="spacingAndGlyphs">+</tspan>001</text>
<text transform="translate(0 1092.3) scale(0.819 0.991)" x="2088.7 2109 2125.8 2146 2164.2 2183.8 2203 2221.8 2241 2259.8 2278.9 2297.9 2318.2" y="0" fill="#000" stroke="#000" stroke-width="0.7" font-size="31"><tspan textLength="19" lengthAdjust="spacingAndGlyphs">+</tspan>1.27424<tspan textLength="18.5" lengthAdjust="spacingAndGlyphs">e</tspan><tspan textLength="19" lengthAdjust="spacingAndGlyphs">+</tspan>001</text>
<text transform="translate(0 1134.4) scale(0.819 0.991)" x="2088.7 2109 2125.8 2145.8 2164.6 2183.7 2203 2221.7 2241 2259.8 2278.9 2297.9 2318.2" y="0" fill="#000" stroke="#000" stroke-width="0.7" font-size="31"><tspan textLength="19" lengthAdjust="spacingAndGlyphs">+</tspan>1.06396<tspan textLength="18.5" lengthAdjust="spacingAndGlyphs">e</tspan><tspan textLength="19" lengthAdjust="spacingAndGlyphs">+</tspan>001</text>
<text transform="translate(0 1170.4) scale(0.819 0.991)" x="2088.7 2107.8 2125.8 2145.5 2164.7 2183.6 2202.3 2221.7 2241 2259.8 2278.9 2297.9 2316.9" y="0" fill="#000" stroke="#000" stroke-width="0.7" font-size="31"><tspan textLength="19" lengthAdjust="spacingAndGlyphs">+</tspan>8.53676<tspan textLength="18.5" lengthAdjust="spacingAndGlyphs">e</tspan><tspan textLength="19" lengthAdjust="spacingAndGlyphs">+</tspan>000</text>
<text transform="translate(0 1212.2) scale(0.819 0.991)" x="2088.7 2107.6 2125.8 2145.7 2164.7 2183.7 2203 2221.7 2241 2259.8 2278.9 2297.9 2316.9" y="0" fill="#000" stroke="#000" stroke-width="0.7" font-size="31"><tspan textLength="19" lengthAdjust="spacingAndGlyphs">+</tspan>6.43393<tspan textLength="18.5" lengthAdjust="spacingAndGlyphs">e</tspan><tspan textLength="19" lengthAdjust="spacingAndGlyphs">+</tspan>000</text>
<text transform="translate(0 1254.1) scale(0.819 0.991)" x="2088.7 2107.7 2125.8 2145.7 2164.7 2185.1 2204.1 2223.1 2241 2259.8 2278.9 2297.9 2316.9" y="0" fill="#000" stroke="#000" stroke-width="0.7" font-size="31"><tspan textLength="19" lengthAdjust="spacingAndGlyphs">+</tspan>4.33111<tspan textLength="18.5" lengthAdjust="spacingAndGlyphs">e</tspan><tspan textLength="19" lengthAdjust="spacingAndGlyphs">+</tspan>000</text>
<text transform="translate(0 1295.4) scale(0.819 0.991)" x="2088.7 2108 2125.8 2146 2165 2183.8 2203 2221.9 2241 2259.8 2278.9 2297.9 2316.9" y="0" fill="#000" stroke="#000" stroke-width="0.7" font-size="31"><tspan textLength="19" lengthAdjust="spacingAndGlyphs">+</tspan>2.22828<tspan textLength="18.5" lengthAdjust="spacingAndGlyphs">e</tspan><tspan textLength="19" lengthAdjust="spacingAndGlyphs">+</tspan>000</text>
<text transform="translate(0 1335.2) scale(0.819 0.991)" x="2088.7 2109 2125.8 2146 2164.5 2183.8 2202.6 2221.3 2241 2259.6 2278.9 2297.9 2318.2" y="0" dy="0 0 0 0 0 0 0 0 0 -3 3 0 0" fill="#000" stroke="#000" stroke-width="0.7" font-size="31"><tspan textLength="19" lengthAdjust="spacingAndGlyphs">+</tspan>1.25457<tspan textLength="18.5" lengthAdjust="spacingAndGlyphs">e</tspan><tspan textLength="19.5" lengthAdjust="spacingAndGlyphs">-</tspan>001</text>
<text transform="translate(0 779.7) scale(0.770 0.991)" x="2105.6 2127.5 2145.2 2166.3 2186.6 2206.8 2226.9 2247 2265.7 2287.5 2306.8 2327.1" y="0" fill="#000" stroke="#000" stroke-width="0.8" font-size="27.6"><tspan textLength="18.1" lengthAdjust="spacingAndGlyphs">D</tspan><tspan textLength="14.4" lengthAdjust="spacingAndGlyphs">I</tspan><tspan textLength="19.4" lengthAdjust="spacingAndGlyphs">S</tspan><tspan textLength="18.1" lengthAdjust="spacingAndGlyphs">P</tspan><tspan textLength="18.6" lengthAdjust="spacingAndGlyphs">L</tspan><tspan textLength="17.6" lengthAdjust="spacingAndGlyphs">A</tspan>C<tspan textLength="18.8" lengthAdjust="spacingAndGlyphs">E</tspan><tspan textLength="21.4" lengthAdjust="spacingAndGlyphs">M</tspan><tspan textLength="18.8" lengthAdjust="spacingAndGlyphs">E</tspan>N<tspan textLength="19.8" lengthAdjust="spacingAndGlyphs">T</tspan></text>
<text transform="translate(0 808.2) scale(0.691 0.991)" x="2345.1 2368.7 2401.2 2416.8 2446.3 2458.1 2480.6" y="0" fill="#000" stroke="#000" stroke-width="0.8" font-size="27.6"><tspan textLength="22.1" lengthAdjust="spacingAndGlyphs">T</tspan>X , mm</text>
</g>
</g>
<g font-family="'Liberation Serif', 'Times New Roman', serif" font-size="49.8" fill="#000">
<text x="630.3" y="696.4">(a)</text>
<text x="948.3" y="696.4">(b)</text>
<text x="1244.3" y="696.4">(c)</text>
<text x="596.2" y="1496.8">(d)</text>
<text x="942.2" y="1496.8">(e)</text>
<text x="1285.1" y="1496.8">(f)</text>
</g>
</svg></body></html>
